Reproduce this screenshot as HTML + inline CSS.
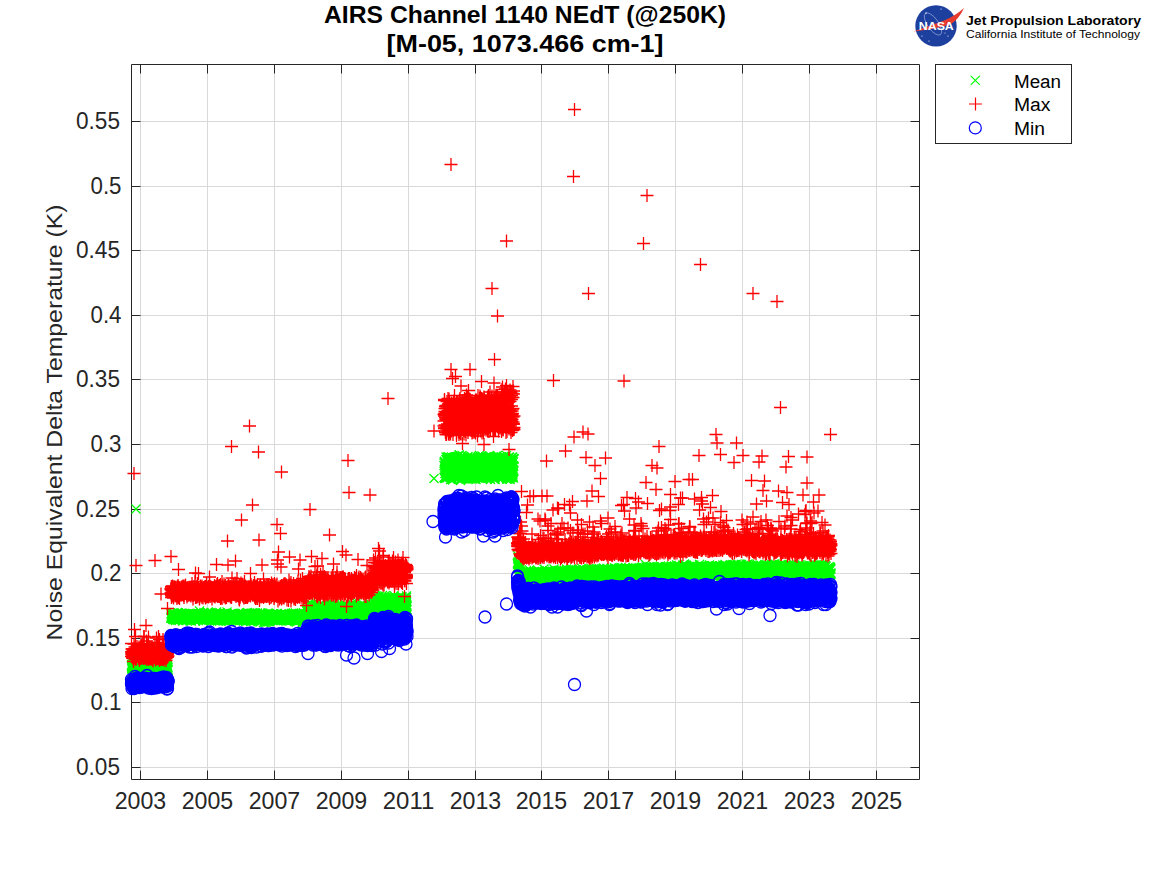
<!DOCTYPE html>
<html><head><meta charset="utf-8"><style>
html,body{margin:0;padding:0;background:#fff;width:1167px;height:875px;overflow:hidden}
svg{position:absolute;left:0;top:0}
text{font-family:"Liberation Sans",sans-serif;fill:#262626}
</style></head><body>
<svg width="1167" height="875" viewBox="0 0 1167 875">
<path d="M140.5 64.5V779.5M207.5 64.5V779.5M274.5 64.5V779.5M341.5 64.5V779.5M408.5 64.5V779.5M475.5 64.5V779.5M541.5 64.5V779.5M608.5 64.5V779.5M675.5 64.5V779.5M742.5 64.5V779.5M809.5 64.5V779.5M876.5 64.5V779.5M131.5 767.5H919.5M131.5 702.5H919.5M131.5 638.5H919.5M131.5 573.5H919.5M131.5 509.5H919.5M131.5 444.5H919.5M131.5 379.5H919.5M131.5 315.5H919.5M131.5 250.5H919.5M131.5 186.5H919.5M131.5 121.5H919.5" stroke="#d9d9d9" stroke-width="1" fill="none"/>
<path d="M131.5 64.5H919.5V779.5H131.5ZM140.5 779.5v-9M140.5 64.5v9M207.5 779.5v-9M207.5 64.5v9M274.5 779.5v-9M274.5 64.5v9M341.5 779.5v-9M341.5 64.5v9M408.5 779.5v-9M408.5 64.5v9M475.5 779.5v-9M475.5 64.5v9M541.5 779.5v-9M541.5 64.5v9M608.5 779.5v-9M608.5 64.5v9M675.5 779.5v-9M675.5 64.5v9M742.5 779.5v-9M742.5 64.5v9M809.5 779.5v-9M809.5 64.5v9M876.5 779.5v-9M876.5 64.5v9M131.5 767.5h9M919.5 767.5h-9M131.5 702.5h9M919.5 702.5h-9M131.5 638.5h9M919.5 638.5h-9M131.5 573.5h9M919.5 573.5h-9M131.5 509.5h9M919.5 509.5h-9M131.5 444.5h9M919.5 444.5h-9M131.5 379.5h9M919.5 379.5h-9M131.5 315.5h9M919.5 315.5h-9M131.5 250.5h9M919.5 250.5h-9M131.5 186.5h9M919.5 186.5h-9M131.5 121.5h9M919.5 121.5h-9" stroke="#262626" stroke-width="1" fill="none"/>
<defs>
<marker id="mg" markerUnits="userSpaceOnUse" markerWidth="1" markerHeight="1" overflow="visible"><path d="M-4.5-4.5l9 9M4.5-4.5l-9 9" stroke="#00ff00" stroke-width="1.3" fill="none"/></marker>
<marker id="mr" markerUnits="userSpaceOnUse" markerWidth="1" markerHeight="1" overflow="visible"><path d="M-6.5 0h13M0-6.5v13" stroke="#ff0000" stroke-width="1.3" fill="none"/></marker>
<marker id="mb" markerUnits="userSpaceOnUse" markerWidth="1" markerHeight="1" overflow="visible"><circle r="6" stroke="#0000ff" stroke-width="1.3" fill="none"/></marker>
</defs>
<path fill="none" stroke="none" marker-start="url(#mg)" marker-mid="url(#mg)" marker-end="url(#mg)" d="M131.5 666.5l0-2l0 1l0.5 3l0-1l0-0.5l0 2.5l0-1.5l0.5 0.5l0-4l0-2l0 3.5l0-0.5l0 0.5l0.5 0l0 0l0-1l0 0.5l0 1l0.5-1.5l0 4.5l0-3.5l0 1l0-3l0 4l0.5-1.5l0 3l0-3.5l0-1l0 4l0.5-5l0 3l0-2l0 3.5l0-2.5l0 0l0.5-2l0 0l0 3.5l0 2.5l0-4l0.5-0.5l0 3l0-2l0-3.5l0 1l0 5l0.5-3.5l0 1l0 0l0 0l0-2l0.5 1.5l0 0.5l0-0.5l0-0.5l0-0.5l0 3l0.5 1l0-3l0 1l0-3l0 3l0.5-1l0-1.5l0 0l0 0.5l0 1l0.5 1l0 0l0-3l0 2.5l0 0l0-1.5l0.5 2.5l0-2.5l0 0.5l0 1.5l0 0l0.5 1.5l0-1l0 0l0-2l0 1.5l0-2.5l0.5 7l0-4.5l0 1l0-1l0-1.5l0.5 5l0-1l0-1l0 2.5l0-4.5l0 0l0.5-1.5l0-0.5l0 0.5l0 1l0 2l0.5-5l0 1l0 7.5l0-4.5l0 3l0-2.5l0.5 2.5l0-2l0 0l0-1.5l0 1.5l0.5-2l0-1l0 0.5l0 4l0 0l0-2.5l0.5-1l0 2.5l0 0l0-2l0 0.5l0.5 0l0-2l0 5l0-2l0 0.5l0 1.5l0.5-4.5l0 0l0 0l0 3l0-2.5l0.5 0l0 2l0 1l0-3.5l0 0l0.5 2l0 1l0-2l0 0l0-1l0 6.5l0.5-7l0-1.5l0 1.5l0 2.5l0-1l0.5-0.5l0 0.5l0 1l0 0.5l0 0l0-1l0.5 0.5l0-3.5l0 1l0 2l0 0l0.5-1.5l0 2l0 0l0-1l0 0.5l0-3.5l0.5 2l0 4.5l0 1l0-3l0-0.5l0.5 0.5l0 0l0 1.5l0-0.5l0 1l0-3.5l0.5 2l0-1.5l0 0.5l0-3l0 5l0.5-3.5l0 1.5l0-1l0 1l0-0.5l0 1.5l0.5-2.5l0-0.5l0 3.5l0-3l0-1.5l0.5 1l0 1l0 1l0-1.5l0 1l0.5 1.5l0 1l0-2.5l0-0.5l0 2.5l0-3l0.5-2l0 4.5l0-1.5l0-1l0 1.5l0.5 0.5l0-2.5l0-1.5l0 0.5l0 3l0-1.5l0.5-0.5l0 3l0-1l0 0.5l0 2l0.5 0l0-3l0 0.5l0 0l0 0.5l0-2.5l0.5 3.5l0 1l0-2.5l0-2.5l0 4l0.5-3.5l0 1l0-1l0-1l0 0.5l0 2l0.5-2l0 1.5l0 1l0 0.5l0-1l0.5-1.5l0 0l0 2l0 1.5l0-0.5l0-4.5l0.5 2l0 0l0 0l0 0l0 1l0.5 0.5l0-1l0 0l0-0.5l0 3l0-3.5l0.5 1l0 0.5l0 2l0-3.5l0 1l0.5-1.5l0 0.5l0 3.5l0-2l0-1.5l0.5 1.5l0-1l0 0l0 2.5l0 0.5l0-3l0.5 1.5l0-2l0 3.5l0-4.5l0 2.5l0.5-1.5l0 1.5l0-2l0 4l0 0l0-2.5l0.5 2l0-2l0 2l0-2.5l0-1l0.5 2l0 0l0 1l0-1.5l0-1.5l0 3l0.5 0l0 1.5l0-1.5l0 0.5l0-1.5l0.5 2l0 0l0-2l0-0.5l0 2.5l0-1.5l0.5-0.5l0-1.5l0 1.5l0-1.5l0-1l0.5 0l0 1.5l0 1.5l0 1.5l0-1.5l0 1l0.5-0.5l0-0.5l0-2l0 0.5l0 0.5l0.5 0l0 0l0-0.5l0 1l0 3l0 1l0.5-2l0-4l0 4.5l0-1.5l0-4l0.5 5.5l0-2l0-2.5l0 2.5l0 1l0.5-3.5l0 4.5l0-4l0 1.5l0 1.5l0 0l0.5-3.5l0 4l0-3.5l0 1l0-0.5l0.5 0l0-1.5l0 1l0 3.5l0-3.5l0 1l0.5 1.5l0 0l0-0.5l0 0l0-0.5l0.5 1l0-1l0 0l0 0.5l0 1l0 1.5l0.5-4.5l0 3l0-2l0 1l0 1.5l0.5 0l0-3l0-1l0 1l0 3.5l0-4.5l0.5-1l0 5l0-1l0-1l0 1l0.5-1l0 1l0 0l0-2l0-1.5l0 1l0.5 3.5l0-2.5l0 2l0-2.5l0 3.5l0.5 0l0-2l0 3l3-53.5l0-3.5l0 5l0.5-1l0-3.5l0 4l0-2.5l0 2.5l0-3l0.5 0l0-0.5l0 2l0-2l0 2.5l0.5-0.5l0 0.5l0-2l0 3l0 0l0-5l0.5 6.5l0-2.5l0 0.5l0-0.5l0 1l0.5 1.5l0-3l0 2.5l0-0.5l0-2l0-0.5l0.5 3l0-6l0 4.5l0-1.5l0 2l0.5-2l0 2.5l0-4.5l0 1.5l0 1l0.5 3l0-2.5l0-1.5l0 3l0-1l0 0l0.5 1.5l0-4.5l0 4l0-2l0 4l0.5-5.5l0 2l0 0l0-1l0 0l0 0l0.5-0.5l0 1l0-2l0 4.5l0 0.5l0.5-4l0 2l0-3l0 3.5l0-1l0 1l0.5-3.5l0 5.5l0-4l0-3.5l0 6.5l0.5-2l0 2l0-5l0 1.5l0 0.5l0-0.5l0.5 4l0-0.5l0-6l0 3l0 0l0.5 4.5l0-4l0 0.5l0-0.5l0 3l0-6l0.5 4.5l0-3.5l0 3l0-1.5l0 1.5l0.5-1l0-2l0 3l0 1l0 0l0-1.5l0.5 0.5l0 1l0-1.5l0-2.5l0 3.5l0.5-2l0 2l0-2.5l0 2.5l0-0.5l0.5-1.5l0 0.5l0 0.5l0-2l0 0l0 0l0.5 2.5l0-1.5l0-1l0-2l0 2.5l0.5 0l0 2l0-2.5l0 6l0-6l0-1l0.5 2.5l0 2l0-0.5l0 0l0-3.5l0.5 1l0 0l0 4l0-2l0 0l0-2l0.5 3.5l0-2.5l0-1l0 1.5l0 1.5l0.5-3l0 0.5l0 1.5l0-4l0 3.5l0 0.5l0.5-0.5l0 1l0-2l0 0.5l0-0.5l0.5 2l0-0.5l0-2l0 3.5l0-1.5l0 1.5l0.5 1.5l0-4l0 1.5l0-2.5l0 2l0.5-3l0 1l0 1.5l0-0.5l0-2.5l0.5 1.5l0 1.5l0 1l0-2l0 0.5l0-2l0.5 0l0 1.5l0 1.5l0 1l0-1l0.5 1l0-1l0-3l0 0.5l0 4l0-1l0.5-4l0 1l0-1.5l0 3l0 0l0.5 1.5l0 0.5l0 1l0-5l0 0.5l0 3l0.5 0.5l0-2l0 0.5l0-3.5l0 7l0.5-3.5l0 0l0 1l0-2l0-1.5l0 2.5l0.5-2l0 0l0 0.5l0 4l0-1.5l0.5 1.5l0-1l0-2l0 0.5l0-2.5l0 4l0.5 0.5l0-1l0-3.5l0 6.5l0-7l0.5 2l0 2l0 0.5l0-2.5l0 0.5l0 1.5l0.5-3.5l0 1.5l0-2l0 2l0-0.5l0.5 0l0-2l0 2.5l0-1l0 1.5l0.5 0.5l0 0.5l0-1.5l0-2l0 4.5l0-3l0.5 2l0-1l0-0.5l0 0.5l0-1.5l0.5 4l0-1.5l0 2.5l0-4l0-1l0 4.5l0.5-3.5l0 0.5l0 2l0-4l0 1l0.5 0.5l0 5l0-4.5l0 0.5l0-1.5l0 3l0.5-4l0 4l0-2.5l0-1.5l0 1l0.5 2l0 1l0-0.5l0-0.5l0 0l0-1l0.5 1l0-0.5l0 0.5l0-1l0-1l0.5 1.5l0 1.5l0-4l0 3l0 1.5l0-3.5l0.5 1l0 2.5l0-5l0 0.5l0 1.5l0.5 1.5l0 3l0-4.5l0-2.5l0 5l0-4.5l0.5 1.5l0 3l0-2.5l0 0l0 1.5l0.5-0.5l0 1l0-7l0 7.5l0 0l0.5 0l0-3l0 3l0-2l0-0.5l0-0.5l0.5-1l0 3.5l0 0l0 0.5l0-0.5l0.5-0.5l0-0.5l0-1.5l0 0l0 0.5l0-0.5l0.5 3l0-2.5l0 3l0-3l0 0l0.5-1.5l0-0.5l0 5l0-0.5l0-4l0 3.5l0.5 0l0-2.5l0-1.5l0 2.5l0-2l0.5 1.5l0-1.5l0-0.5l0 2.5l0 4.5l0-6.5l0.5 3.5l0-4l0 1.5l0 1l0-0.5l0.5-3.5l0 3.5l0-1.5l0 5l0-3.5l0 2l0.5-2l0 0l0 3l0-0.5l0-1l0.5 2.5l0-2.5l0-3l0 3.5l0-4l0.5 2l0 0l0 2.5l0-2l0 1l0 0l0.5-2l0 0.5l0 2.5l0-1l0-0.5l0.5-3.5l0 6l0 0.5l0-4l0-1l0 2.5l0.5 0l0 1.5l0-3l0 2l0-0.5l0.5 1l0-6l0 4l0-0.5l0-0.5l0 1l0.5 2l0-2l0 1.5l0 0l0-1.5l0.5 1.5l0-5l0 4.5l0 2.5l0-6l0 0.5l0.5 3l0-2.5l0 1.5l0 0l0-2l0.5 3l0 2l0 0l0-3.5l0-1.5l0 2l0.5 3.5l0-2l0 0l0-3.5l0 0.5l0.5-1l0 2l0-1l0 0l0 2l0-0.5l0.5-3l0 5.5l0-1l0-5.5l0 4l0.5 1l0 1.5l0 2l0-5.5l0 2.5l0.5 1l0-2l0-0.5l0-1l0-0.5l0 2.5l0.5-1l0 1.5l0-2l0 1l0-1.5l0.5 4.5l0-3l0 0.5l0 1.5l0-1l0-1.5l0.5 0l0-1l0 3l0-2.5l0 1l0.5 2.5l0-4.5l0 0l0 0l0 1l0 2l0.5 0l0-0.5l0-2l0 3.5l0 1l0.5-5.5l0 1l0-0.5l0 6l0-5.5l0 0.5l0.5 2l0-2.5l0 2.5l0 0.5l0-2.5l0.5 2l0 0l0-2.5l0 2.5l0-3.5l0 5l0.5 0.5l0-6.5l0-1.5l0 5.5l0-4l0.5 6l0 0.5l0-4l0 1.5l0 2l0.5-5l0 6.5l0-5.5l0 3l0-2l0 3l0.5-1l0-3l0 1.5l0-1.5l0-2l0.5 3.5l0 0.5l0 1l0-2.5l0 0.5l0 1l0.5 1l0-3l0 1.5l0-3l0 5l0.5 1l0-3.5l0-2.5l0 3l0 3.5l0-3.5l0.5-1l0 1.5l0-1l0 2l0 0.5l0.5 0l0-3l0-1l0-1.5l0-0.5l0 2l0.5 4.5l0-4l0 5l0-4.5l0 0.5l0.5 3l0-0.5l0-3l0 1l0-1.5l0 2.5l0.5 0l0-2l0 3.5l0-1.5l0-2l0.5 0.5l0 0l0-0.5l0 1l0 0.5l0 0l0.5-1l0-2l0 0l0 3l0-3.5l0.5 4l0-0.5l0 2.5l0-1l0-3.5l0.5 0.5l0 4.5l0-3l0 2.5l0-4l0 3l0.5 0.5l0-2.5l0 1l0-2l0 1.5l0.5 0l0-2.5l0 4l0-3.5l0 0l0 0.5l0.5 1.5l0 0l0-2.5l0 1l0 1.5l0.5 2.5l0-4l0 4l0-1.5l0-4l0 4l0.5 0.5l0 2l0-4l0-0.5l0-0.5l0.5-4l0 5.5l0 0.5l0 0l0 1l0-5l0.5 3l0-1.5l0 3.5l0 1l0-4.5l0.5 0l0 0.5l0-0.5l0-0.5l0 2l0-0.5l0.5 1l0-1.5l0 1.5l0-1l0 4.5l0.5-5l0-1l0 1l0 1l0 0.5l0-1l0.5 1l0 3.5l0-4l0 2l0-4l0.5 0.5l0 3.5l0-4l0 1l0-2l0.5 5l0-3l0 3l0-4.5l0 1.5l0 1.5l0.5-0.5l0-1l0-2.5l0 5.5l0 0l0.5-0.5l0-1.5l0-1l0 1.5l0 0.5l0 2.5l0.5-4l0-2l0 5.5l0-3l0-0.5l0.5-2l0 4.5l0-5.5l0 1.5l0 3l0 0.5l0.5-5l0 5.5l0 0l0-1.5l0 2.5l0.5-4l0 3.5l0-6l0 4.5l0 2.5l0-4.5l0.5-2l0 1.5l0 3l0-3l0-0.5l0.5 2.5l0-0.5l0 0.5l0 1l0 1.5l0-1.5l0.5-0.5l0-1.5l0 3l0-6l0 3l0.5-0.5l0 1l0 0l0 0l0-1.5l0.5 0.5l0-1l0 5l0-3l0 2l0 0l0.5-0.5l0-3l0 2l0 0.5l0 0.5l0.5 1l0-2.5l0 2.5l0-4.5l0 2l0 2l0.5-0.5l0-2l0-2l0 3l0 1l0.5-1.5l0 2.5l0-3.5l0-0.5l0 1l0-0.5l0.5 0l0 0l0 0l0-0.5l0 2l0.5-1.5l0 5l0-6.5l0 4.5l0-4.5l0 5l0.5-1l0-2l0-2l0 2.5l0 1l0.5 1l0-3.5l0 2.5l0-1l0-2.5l0 2l0.5 2.5l0-2l0-1.5l0-1l0 1l0.5 2l0-1l0-1.5l0 5l0-1.5l0-1l0.5 0.5l0-1.5l0 2l0-4.5l0 2.5l0.5 0.5l0 0.5l0-4l0 1.5l0 3l0.5 2l0-0.5l0-1l0-1.5l0-2l0 0l0.5-1l0 0.5l0 1.5l0-2l0 6l0.5 1l0-4l0 1.5l0-1l0 3l0-1l0.5-1l0-2.5l0-0.5l0 1.5l0-1.5l0.5 2.5l0-2.5l0 2.5l0 0.5l0-3.5l0 0l0.5-0.5l0 1l0 2.5l0-2.5l0 2l0.5 3.5l0-7l0 5.5l0-3.5l0 2l0 1l0.5 2l0-5.5l0 4.5l0-1.5l0-0.5l0.5-1l0-3l0-1l0 4.5l0-2l0-1l0.5 4l0 0.5l0-5.5l0 5l0-1.5l0.5 1.5l0-3.5l0 5l0-4.5l0-3l0 6.5l0.5-3.5l0 1l0 0l0 4l0-2.5l0.5 0.5l0-2l0 2.5l0-1l0 0.5l0.5-1l0-3.5l0 1.5l0 4l0 1l0-3.5l0.5 0.5l0-1l0 2l0-2.5l0 0.5l0.5 2l0 1.5l0-3l0-0.5l0 1.5l0-1l0.5 0l0 4.5l0-6l0-2l0 6l0.5-4.5l0 0.5l0 5l0-4l0-2l0 4l0.5-1l0-1.5l0-1.5l0 5l0-3.5l0.5 0.5l0-2.5l0 6l0-1l0-6l0 6l0.5-1.5l0-0.5l0 1.5l0 1l0-2l0.5-3.5l0 1.5l0-0.5l0 4l0 2l0-2l0.5-5l0 1l0 1.5l0 2l0-0.5l0.5-5l0 2l0 2l0-0.5l0-0.5l0.5 1l0 3.5l0-4.5l0 1.5l0 0.5l0-1.5l0.5 3l0 0.5l0-2l0-4l0 4.5l0.5-3.5l0 3l0-5l0 2l0 1.5l0-1.5l0.5 3l0-1.5l0 1.5l0 0.5l0-1l0.5-2.5l0 0.5l0 1.5l0 2l0-4l0-1l0.5 2l0 1.5l0 0l0 1.5l0-2l0.5 1.5l0 1l0-2.5l0 2.5l0-2.5l0-4l0.5 2l0 4.5l0 1.5l0-3.5l0 1l0.5-1.5l0 0l0 0l0 1.5l0 0.5l0 1l0.5-4l0-0.5l0 4l0-4l0 4l0.5-4.5l0-1l0 3.5l0 0l0-1l0 4.5l0.5 1l0-3.5l0-3l0-0.5l0 1l0.5 0.5l0-3l0-0.5l0 3l0 3.5l0.5 1l0-1.5l0 0l0-3l0 3.5l0-2l0.5-1.5l0 2l0-3.5l0 5l0 0l0.5-4.5l0-2l0 3.5l0 1l0 1.5l0-4.5l0.5 5l0-1.5l0 0.5l0-2l0 0l0.5 0.5l0 1.5l0-1.5l0-3.5l0 4.5l0-1l0.5-2l0-0.5l0 4l0-1.5l0 5.5l0.5-7l0 1.5l0-1l0 1l0-2.5l0 0l0.5 6l0-4.5l0-1l0 0.5l0 4l0.5-3l0-1l0 1.5l0-0.5l0 3.5l0 2.5l0.5-3.5l0-1l0-2.5l0 1.5l0-0.5l0.5 1.5l0-1l0-1.5l0-1l0 4l0.5-0.5l0-0.5l0 0l0 4.5l0-5l0-0.5l0.5 1.5l0-2.5l0 4.5l0-0.5l0-2l0.5-1.5l0-0.5l0 3l0 0.5l0-2l0-2l0.5 4l0-1l0-5l0 3.5l0 5l0.5-5.5l0 3.5l0 1l0-0.5l0-1l0-1l0.5-3.5l0 6.5l0-7l0 0.5l0 0.5l0.5 5l0-3.5l0 5l0-5l0 0l0 1.5l0.5-2l0 3.5l0-3l0 0l0 1.5l0.5 1.5l0-3l0-1l0 2.5l0 1l0-4l0.5 2l0-0.5l0 1l0-1l0 2l0.5 1l0-4l0 0l0 2.5l0-1.5l0 0.5l0.5 2l0-2l0-1.5l0 3l0-0.5l0.5-2.5l0 5l0-6.5l0 3l0 0.5l0.5-1l0 1.5l0-1.5l0 1l0 3l0-4.5l0.5 2l0 1.5l0 0l0-4l0 0.5l0.5-2l0 2.5l0-0.5l0 2.5l0 0l0-2l0.5 0l0 2l0-0.5l0-2l0 1.5l0.5 0l0-1l0 2l0 0l0-4l0 3.5l0.5 0l0-1l0-0.5l0 4l0-3.5l0.5-0.5l0 2l0-1l0 3l0-4l0-0.5l0.5 1.5l0 1.5l0-1.5l0 0.5l0 1.5l0.5-3l0 0l0 0l0-3l0 1l0 4.5l0.5 0l0-4.5l0 4l0-2.5l0 2.5l0.5-1l0-3l0 6.5l0-5.5l0-0.5l0 4l0.5-1l0 0.5l0 0l0 1l0-1.5l0.5 0.5l0 0l0-1l0 2l0-1.5l0.5-2l0-0.5l0 0.5l0 2.5l0-3.5l0 2.5l0.5 1l0-3l0 1l0 1l0-1.5l0.5 0l0 2l0 2l0-1l0-3l0-0.5l0.5-0.5l0 2.5l0-3.5l0 1l0 1l0.5 3l0-2l0 2l0-2l0-3l0 2.5l0.5 0l0 0.5l0-1.5l0 1l0 4l0.5-1l0-1l0-0.5l0-3l0 2l0-2.5l0.5 3.5l0-1.5l0 3l0-2l0 1l0.5-0.5l0 2l0-5.5l0 1l0-0.5l0 0l0.5 2l0 1l0-3l0 5l0-3l0.5 1.5l0 0.5l0-2.5l0-2l0 0l0.5 4.5l0-1l0-2.5l0 1l0-3l0 6l0.5-3l0 3.5l0-1.5l0-3.5l0-0.5l0.5 5l0-0.5l0-1l0 2.5l0-3.5l0-0.5l0.5 2l0 0l0-2l0 2.5l0-1.5l0.5-2.5l0 3l0 0.5l0-2l0 2.5l0 0.5l0.5 1l0-5l0 2l0 1l0 1l0.5 1l0-3.5l0-0.5l0 0l0 0.5l0 1.5l0.5-2l0-1l0 2l0 2l0-3.5l0.5 2l0-1.5l0 2.5l0-2.5l0 1.5l0 3l0.5-7l0 2l0 1l0 1.5l0 0.5l0.5 0l0 1l0-1l0-1.5l0 3l0-3l0.5-2l0 4.5l0 0l0 0.5l0-2.5l0.5 2l0 0l0 0.5l0-5l0 1l0.5 1l0-3l0 5l0 0l0 0.5l0-6.5l0.5 4.5l0 0.5l0-5l0 4.5l0 0l0.5-2.5l0 4.5l0 0l0-5l0 1l0 1.5l0.5-3.5l0 5l0-4l0 4.5l0-3l0.5 0.5l0-2l0-2l0 3l0 0.5l0 3l0.5-1l0-1l0 1.5l0 1l0-3.5l0.5 1l0-2.5l0 1l0 0l0 4l0 1l0.5 0.5l0-1.5l0-2l0 0l0-3l0.5-0.5l0-1.5l0 4.5l0-3.5l0 1l0 1l0.5 0l0 1l0 1.5l0-4l0 1.5l0.5 1.5l0 0l0-1.5l0 1l0-1.5l0 6.5l0.5-6l0 3l0-1l0-1l0-2.5l0.5 3.5l0 0l0 0.5l0 0.5l0-2.5l0.5 1l0 0l0 2.5l0-2l0 2l0-4l0.5-2l0 1l0 1l0 0l0 3l0.5-3l0 2l0-0.5l0-0.5l0-1.5l0-1l0.5 3.5l0-0.5l0-2.5l0 2l0 2l0.5-2.5l0-0.5l0 1.5l0 0.5l0 1.5l0 1l0.5-0.5l0-1l0 1l0-1.5l0-1l0.5-0.5l0 2.5l0-1.5l0-1l0 2l0 0l0.5-2l0-0.5l0 0l0 2.5l0-2.5l0.5-1.5l0 5l0-3l0 2l0-3l0 0.5l0.5 4l0-2.5l0-3l0 3l0 4.5l0.5-2.5l0 0.5l0-5l0 0l0 2l0.5 2.5l0-2l0-2l0 5.5l0-2l0-1.5l0.5-3.5l0 6l0-3l0 2l0-0.5l0.5 0.5l0-1.5l0 1l0 0l0-1.5l0-1l0.5-2l0 3.5l0-4.5l0 4l0 2l0.5-0.5l0-2.5l0-0.5l0 1.5l0 2l0-0.5l0.5-0.5l0-1l0 0l0.5 0l0 1.5l0-5l0-3.5l0.5 8l0-2l0 0.5l0-5.5l0-2.5l0.5 5.5l0-3.5l0 2l0-4l0 8l0-8.5l0.5 3l0 3l0 1.5l0-3l0-7.5l0.5 8l0-0.5l0-2l0-1.5l0 9.5l0 3.5l0.5-11.5l0-8l0 15.5l0-0.5l0-7.5l0.5-4.5l0 7.5l0 3.5l0 2l0-1l0.5-6l0-5.5l0 3.5l0 4l0 2l0-8l0.5-4l0 10.5l0-9.5l0 12l0-10.5l0.5 12l0 1l0-15l0 5l0 5l0 4l0.5 0.5l0-7.5l0-1l0 4.5l0 3l0.5-7.5l0 4l0-1.5l0 6l0-14.5l0 4.5l0.5 9.5l0-6l0-4l0 1.5l0 4l0.5-1l0 1.5l0-7l0 5.5l0-2l0 5l0.5-5l0 3l0-6.5l0-1.5l0 11.5l0.5-6l0 5l0 1.5l0-6l0 3l0-9.5l0.5 2.5l0 6.5l0-7.5l0 8l0-1.5l0.5 8l0-11l0 8l0-6l0 2.5l0-7.5l0.5-1l0-1l0 13.5l0-7.5l0 4.5l0.5-1l0-10.5l0 4.5l0-3.5l0 2.5l0.5 7.5l0 2l0 0.5l0-9.5l0-1l0 9.5l0.5-3.5l0-6l0 2.5l0 4.5l0-4.5l0.5 1l0 6.5l0-9l0 8l0-5.5l0 2l0.5 4l0-4.5l0 8l0-8.5l0-0.5l0.5 5l0 0.5l0-2.5l0-8l0 7.5l0 0.5l0.5 5.5l0-13l0 9.5l0-3.5l0-1.5l0.5 2l0-6.5l0 11.5l0-3.5l0 1.5l0-1.5l0.5-4l0 1.5l0-2.5l0 0.5l0-0.5l0.5-1l0 11.5l0-3l0-4.5l0 4.5l0-1l0.5 1l0-0.5l0-0.5l0 3.5l0-14.5l0.5 3.5l0 2.5l0 3l0 5l0-5.5l0.5-6l0 7.5l0 2.5l0 2.5l0-9.5l0 10.5l0.5-8l0-6.5l0 4.5l0 2l0-6.5l0.5 5l0-3.5l0-1l0 2.5l0 6.5l0 3.5l0.5-5.5l0-7l0 3l0 2.5l0 3l0.5 3.5l0-12l0 3.5l0 0l0 6l0-11.5l0.5 4l0 12l0-13l0 8.5l0-2.5l0.5 6l0-1l0-9l0 8l0-2.5l0-6l0.5 10l0-5l0 5l0-2.5l0-9l0.5-1l0 7.5l0-4.5l0 6l0-2.5l0-4l0.5 2.5l0-1l0-5.5l0-0.5l0 10l0.5-5.5l0-1.5l0 8l0-9l0 5l0 6l0.5-9.5l0 2.5l0 9l0-8.5l0-4.5l0.5 3l0-4.5l0 8l0-8.5l0 6l0.5-4l0 11l0-10l0 3.5l0 7.5l0-11l0.5-3l0 9.5l0-2l0-7.5l0 7.5l0.5-3l0 3l0 2.5l0 1.5l0 1l0-10l0.5 8.5l0-8l0 1.5l0 8l0-10l0.5-3l0 5.5l0-3.5l0 6l0-5l0 0.5l0.5 1l0 7.5l0-7.5l0 7l0-2.5l0.5-2.5l0-4.5l0-1.5l0-0.5l0 9l0-3.5l0.5-1.5l0 8l0-10.5l0 7l0-9l0.5 10l0-10.5l0 4l0 2.5l0 5.5l0-2l0.5 1l0-0.5l0-9l0 5l0-1.5l0.5 10l0-7.5l0-1l0 3l0-2l0.5 5.5l0-8.5l0 13l0-13.5l0 8l0-10.5l0.5 5.5l0 2l0-1l0-7.5l0 5l0.5 0.5l0-0.5l0 4.5l0-6.5l0 1.5l0 9.5l0.5 1l0-5l0-3l0 1l0-4l0.5 3l0 6.5l0-1l0-5l0 5.5l0-8.5l0.5-3.5l0 10.5l0-3.5l0 2.5l0 1.5l0.5-6.5l0 0l0 2.5l0-1.5l0 1.5l0-2.5l0.5-3.5l0 0.5l0 5l0 5.5l0-0.5l0.5 2.5l0-14l0 6.5l0 1l0 5.5l0-10.5l0.5 2.5l0 1.5l0 5.5l0-10l0 6.5l0.5 2l0 3.5l0-9.5l0-4l0 0l0 11l0.5 2l0-9l0-3l0 2l0 10l0.5-3.5l0-3.5l0 7l0-11.5l0 0.5l0.5-0.5l0 3.5l0 2.5l0-0.5l0 4.5l0 0l0.5-6l0-2l0 5.5l0 5l0-9.5l0.5-4l0 1.5l0 2l0-1l0 5l0 5l0.5-7l0-2l0 6.5l0-9l0 3l0.5 8l0-9.5l0 1l0 2l0 0l0-4l0.5 9l0 0.5l0-6l0 1l0-5.5l0.5-0.5l0 4l0 5l0-3.5l0 0l0 1l0.5 1l0-3.5l0-3.5l0 4l0 4l0.5-5.5l0-1l0 5.5l0-2.5l0-4l0 5l0.5 3l0-6.5l0 1.5l0 0l0 1.5l0.5 1l0-5l0 2l0 5l0-4l0-6l0.5 12.5l0-10l0 4.5l0 0.5l0 4l0.5-1.5l0 3.5l0 1l0-8l0 0.5l0.5 3.5l0-9l0 15l0-1.5l0-7l0 2.5l0.5 0.5l0-10l0 5l0-2l0 11.5l0.5-13l0 6l0 1.5l0-2.5l0 0l0 2l0.5 6l0-10l0 7.5l0-8l0-1l0.5 5l0-5.5l0 3l0 7l0 0.5l0-9l0.5-2.5l0 3.5l0 4l0 1.5l0 1l0.5-8.5l0 5.5l0 3l0-12.5l0 4.5l0 7l0.5-7.5l0 3.5l0 1l0 3.5l0-4l0.5 4l0-5l0 4l0-2.5l0 8l0-11l0.5 3.5l0-3.5l0 9.5l0-16l0 6l0.5 8l0-5l0 4.5l0-13.5l0 7.5l0.5-3.5l0-2l0 13.5l0-2l0-0.5l0-1.5l0.5-6l0 1.5l0-4.5l0 9.5l0-3l0.5 7l0 2.5l0-4.5l0-9l0 3.5l0 5l0.5-2l0-4.5l0 2.5l0 6.5l0-6l0.5-1.5l0-3.5l0 2.5l0-2.5l0 6l0-1l0.5-7.5l0 12l0-0.5l0-8.5l0 12.5l0.5-9l0-6.5l0 8.5l0-6.5l0-1l0-2l0.5 5l0 7l0-5l0-7.5l0 9.5l0.5-3.5l0 4.5l0-13l0 4l0-0.5l0 11.5l0.5-10.5l0 0l0 10.5l0-7.5l0-1.5l0.5-2.5l0 0.5l0 5l0 7.5l0-1.5l0 3.5l0.5-6.5l0 6l0-7.5l0-2.5l0 7.5l0.5-9l0 12l0-11.5l0 0l0 9.5l0.5-1.5l0-7l0-0.5l0-3.5l0 3l0-2l0.5 5.5l0 4.5l0-4l0-6.5l0 7.5l0.5-8.5l0 9.5l0 0.5l0-2.5l0-8l0 2.5l0.5 7.5l0 4.5l0-8.5l0-4.5l0 12.5l0.5-2.5l0-4.5l0-1.5l0-1l0-0.5l0-0.5l0.5 10l0-2.5l0-3l0-1.5l0-1l0.5-1l0 7.5l0-11.5l0 7l0 2.5l0-7.5l0.5 3.5l0 8.5l0-8l0-4.5l0 2l0.5-2.5l0 8l0 2l0-4.5l0 8.5l0-4.5l0.5-1.5l0-3.5l0 5l0 5l0-10.5l0.5 3.5l0-5l0-3.5l0 2.5l0 4l0 5l0.5-9l0 7l0-7l0 10l0-8.5l0.5 3.5l0 2l0-6l0-1l0 6l0.5-5.5l0-2.5l0 5l0 7.5l0-12l0 2l0.5 8l0-9l0 5.5l0-5.5l0 2l0.5 1.5l0 1.5l0-1l0 1l0-4.5l0 3l0.5 5.5l0 0l0-5.5l0-2l0 8.5l0.5 2l0-14.5l0 7.5l0 0.5l0-5l0 4.5l0.5-2.5l0 1l0-5l0 1l0 2.5l0.5 4l0 2.5l0-8l0 0.5l0 12.5l0-15.5l0.5 11l0 0.5l0 1.5l0-13l0 1.5l0.5 7l0-4.5l0 9l0-1.5l0-10l0 8l0.5 0.5l0 2.5l0 0l0-5.5l0-2.5l0.5-6.5l0 10l0-7l0-2.5l0 12.5l0.5 0l0-9.5l0 2l0-3l0 1.5l0 2.5l0.5 0.5l0-5.5l0 3l0 3l0 6.5l0.5-2.5l0-3l0-5l0 5l0 0.5l0-5l0.5 7l0 1l0-1l0-0.5l0 3l0.5 1l0-12.5l0 11.5l0-0.5l0.5-20.5l0 15l0-14.5l0.5 11l0 1.5l0-7.5l0 1l0 3.5l0-3.5l0.5-1.5l0-2.5l0 5.5l0 4.5l0 3l0.5-4.5l0 4l0-9.5l0-1.5l0 4l0-4.5l0.5 7.5l0 1l0-7l0-0.5l0 11.5l0.5-11.5l0 1l0 3.5l0 0l0-9.5l0 2.5l0.5 0.5l0 11l0-6l0 6.5l0-4.5l0.5-2l0 7.5l0-5l0 3l0-8.5l0.5 8.5l0 0.5l0-1.5l0-9l0 7l0 6.5l0.5-3.5l0-12.5l0 15.5l0-4.5l0-8.5l0.5 12l0-12l0 12.5l0-3l0-4.5l0 2.5l0.5-0.5l0-1l0 3.5l0-0.5l0-10l0.5 13.5l0-13l0 5l0-3l0-5l0 7l0.5-3l0 5l0 2l0 3.5l0 0l0.5 0l0 0l0-4l0-5.5l0 2l0 2l0.5-1l0-1l0 4l0-1l0 0l0.5 5l0-1l0 0.5l0-5.5l0 5l0-2l0.5 2l0-5l0 0.5l0-8l0 9.5l0.5 0.5l0-2.5l0-5l0 3l0-7.5l0 6.5l0.5-1l0 4.5l0 5l0 3.5l0-17l0.5 6.5l0-0.5l0 5.5l0 1l0-3.5l0.5-5.5l0 9.5l0-2l0 0l0 0.5l0-2l0.5-1.5l0-0.5l0-1l0 8.5l0-10l0.5-2.5l0-1.5l0 11l0 3.5l0-9.5l0-7l0.5 6l0 0.5l0 2l0-3.5l0 3l0.5-5l0 0.5l0 2l0 0.5l0 0l0 4l0.5 0l0-6l0 7.5l0 0l0-1l0.5-7.5l0 12.5l0-9l0 0.5l0-1.5l0 6.5l0.5 1l0-9l0 2.5l0 10.5l0-10l0.5-2.5l0 6.5l0 0.5l0-5.5l0 4.5l0 2l0.5-1l0-1.5l0 4l0-9.5l0 9.5l0.5-8.5l0 10.5l0-13l0-1l0 3.5l0.5 0.5l0 3l0 1.5l0-4l0 11.5l0-8l0.5-1l0 7.5l0-2.5l0-7l0-5l0.5 3l0 8l0-3.5l0 6.5l0-12.5l0-0.5l0.5 7.5l0 0.5l0-5.5l0 9.5l0 0l0.5-4.5l0-2l0 7.5l0-7l0 4l0-2l0.5-4.5l0 4l0 2.5l0-7l0 0l0.5 9.5l0-9.5l0 4.5l0 0.5l0-1.5l0 4.5l0.5-11.5l0-0.5l0 0.5l0 3l0 2l0.5 2l0-1l0-6.5l0 6l0-5l0 1l0.5 3l0-7.5l0 12.5l0-10.5l0 13l0.5-7.5l0-4.5l0 1.5l0 9l0-6l0 6l0.5-3.5l0 6l0-5l0-7.5l0 12l0.5-10l0-1l0-1.5l0 12.5l0-2.5l0.5-10.5l0 2l0 2l0 3l0 8l0-5l0.5-7.5l0 4l0 5.5l0-8l0 8.5l0.5-1.5l0-4.5l0-3.5l0 6.5l0 2.5l0-1l0.5-5.5l0 4.5l0-2l0 3.5l0-11.5l0.5 3.5l0 7l0-3l0 2l0-5l0 1l0.5-1l0 4.5l0-9l0 14.5l0-0.5l0.5-8.5l0-3.5l0 9.5l0-1.5l0 0.5l0-10.5l0.5 8.5l0 3.5l0-9l0 7l0-3l0.5 6l0-1.5l0-2l0 3l0-4l0 2.5l0.5-6.5l0 4l0 6l0-3l0-8.5l0.5 11.5l0-2l0-2.5l0-8.5l0 5.5l0.5-7l0 9.5l0 3.5l0-3.5l0-1l0-4l0.5-4.5l0 9l0-10.5l0 10l0-7l0.5 5l0-5l0 10.5l0-6.5l0 0.5l0-4.5l0.5 2.5l0 7l0-1l0 1l0-0.5l0.5-5l0 4l0-7.5l0 6.5l0-7l0 8.5l0.5-0.5l0-9.5l0 9.5l0 2l0-11l0.5 15l0-3l0-10.5l0 10.5l0-2l0-1.5l0.5 1l0-4.5l0 2.5l0 6l0-10.5l0.5-1l0 9.5l0-7.5l0 8l0-5l0 3l0.5 0l0-6.5l0-2.5l0 1.5l0 2l0.5-1l0-2l0 2l0-6l0 1.5l0 10l0.5-2.5l0 1.5l0 3l37-144l0-2.5l0 14.5l0.5 0.5l0-10l0-5l0-1.5l0 0l0.5 8.5l0 0.5l0 3l0 5l0-9l0-3.5l0.5 5.5l0 2l0 4.5l0-5l0 3.5l0.5-17l0 9.5l0-4l0 11l0-19l0 18.5l0.5-8l0-7.5l0 10l0-4.5l0 3l0.5 9.5l0-19l0 11l0 3l0 4l0-5l0.5 2l0-12.5l0-4.5l0 7.5l0-3l0.5 14.5l0-1l0-7l0-8.5l0 1l0 13.5l0.5-17l0 5.5l0 12.5l0-3l0-10.5l0.5-0.5l0 10.5l0-14l0 12.5l0-5l0 8.5l0.5-9.5l0 11.5l0-2l0 3.5l0-10l0.5-4.5l0-3l0-2l0 10.5l0-5.5l0.5 15l0-14.5l0 16.5l0-12l0-2.5l0 2.5l0.5-2.5l0 1l0 1.5l0-2l0-6.5l0.5 2l0 13l0 5l0-22l0 18.5l0-15l0.5 10l0-6l0 9.5l0-10.5l0 6.5l0.5 3.5l0 0l0 1l0-13l0 9l0 9.5l0.5-20l0 10.5l0 3.5l0-15l0 14.5l0.5-2l0 0.5l0 1l0-14.5l0 11l0-3.5l0.5-6l0 17l0-13.5l0-2l0 14.5l0.5-5l0 5l0-10l0-3.5l0 15l0-10l0.5-2.5l0-4l0 0l0 0l0 16.5l0.5-16.5l0 13.5l0-2.5l0-15l0 14.5l0-8.5l0.5 4l0-3l0 1l0 9.5l0-3.5l0.5-6l0 11.5l0-19l0 0l0 1l0.5-0.5l0-1.5l0 14.5l0 6.5l0-16l0 2.5l0.5 5l0 1.5l0 5l0 1.5l0-6l0.5 1l0 0.5l0 2l0-18l0 13.5l0-6l0.5-2.5l0 6l0-5l0 11l0-3l0.5-11l0 8l0-3l0-9.5l0 21.5l0-3l0.5-18.5l0 20.5l0-11l0 13l0-7.5l0.5-3.5l0 8.5l0-9l0 0l0 6.5l0-13l0.5-0.5l0 11.5l0-13.5l0 22l0 1.5l0.5-7l0-15.5l0 17l0-3.5l0-8l0 7l0.5-11l0 6.5l0 5l0 6l0 2l0.5-0.5l0-3.5l0-17.5l0 12l0-14l0 5.5l0.5 4l0-5l0 17.5l0-10.5l0-9.5l0.5 8.5l0-6.5l0 3l0 3l0 10.5l0.5-8.5l0-11l0 1.5l0 19.5l0-5.5l0 0.5l0.5 1l0-15l0 15.5l0-13.5l0 12.5l0.5 1l0-10.5l0 14.5l0-20.5l0 5l0 7l0.5-0.5l0-2.5l0 2l0 9.5l0-8l0.5-4l0-4.5l0 0l0 6l0-6.5l0 5.5l0.5 9l0-1.5l0 4.5l0-20l0 20.5l0.5-17.5l0 0l0 2.5l0-2.5l0 4.5l0 6.5l0.5-8l0 9.5l0-2.5l0-7l0 13l0.5-18l0 15.5l0-16l0 10.5l0 0.5l0-9l0.5-4.5l0 22l0-11l0 4l0-10l0.5 1.5l0 15.5l0-14l0-4l0 2.5l0.5-1l0 5l0 9l0-6.5l0 6l0-15.5l0.5 14l0-15.5l0 14.5l0-13.5l0 14.5l0.5-9.5l0 14.5l0-11.5l0-6.5l0 15.5l0-18.5l0.5 11.5l0-2.5l0-8.5l0 15l0-5.5l0.5 7l0-15l0 10.5l0 0.5l0-2l0 2l0.5 1.5l0-11.5l0 17l0-18l0 1.5l0.5 17.5l0-4.5l0-12.5l0 8l0-7l0-2l0.5-3.5l0 21l0-11l0-2.5l0 6l0.5 5.5l0-9l0 1.5l0-7l0 11l0-11.5l0.5 8.5l0-8.5l0 3l0 13l0-9l0.5 6l0 1.5l0 2.5l0-18.5l0 15.5l0-3.5l0.5-10l0 5.5l0 5l0-11.5l0-3l0.5 5l0 7.5l0 5.5l0-9.5l0-8.5l0.5 0.5l0 20l0-21l0 20.5l0-7l0 3.5l0.5 2l0-1.5l0 4.5l0-4.5l0-14.5l0.5 3.5l0 7.5l0-5.5l0 9.5l0-8l0 4l0.5-9.5l0 0.5l0 12l0-6l0-5.5l0.5 13l0-18.5l0 7.5l0 12l0-7.5l0-6.5l0.5-2l0 3.5l0 13.5l0 0l0-9.5l0.5-3.5l0 8l0-16.5l0 19l0-10.5l0 12l0.5-0.5l0-15.5l0 7.5l0-9.5l0 9.5l0.5 6.5l0-3.5l0 5l0-9.5l0-11.5l0 11l0.5 0.5l0-9l0 19l0-4.5l0 6l0.5-21l0 12l0-10l0 14l0-14.5l0 2.5l0.5-4l0-1l0 13.5l0-0.5l0-12.5l0.5 13l0-7.5l0 3l0 10.5l0-10.5l0.5-9.5l0 4l0 9l0 9l0-1.5l0-9.5l0.5 4.5l0-8l0-5l0 20.5l0-19.5l0.5 6l0 9.5l0-11.5l0-1l0-5.5l0 3l0.5 3l0 13.5l0-15l0 4l0-3l0.5 3l0 4l0-6.5l0 3.5l0-2.5l0 7l0.5 5.5l0-8.5l0 4l0 2l0-16l0.5 10.5l0 0.5l0-2.5l0 5.5l0 3.5l0-9l0.5-2.5l0 7.5l0 0.5l0-2.5l0-9l0.5 12l0-8.5l0-7l0 12l0 7l0-19l0.5 10l0-6.5l0 2.5l0-3l0 10l0.5-1l0-9.5l0-2.5l0 12l0 1l0.5 5.5l0-4l0-14l0 11.5l0 2l0-12l0.5 18.5l0-4l0 3l0-2.5l0 0l0.5 1l0 0.5l0-17l0 7.5l0-4.5l0 6.5l0.5 3.5l0 1.5l0 3l0-6l0 8l0.5-17l0 11l0 4.5l0-6.5l0-3l0-11l0.5 16.5l0-5l0 2l0 6.5l0 2l0.5-18l0 2.5l0 13l0-15l0 5l0 14l0.5-20l0 2l0 10l0 4.5l0-12.5l0.5 10l0-2l0-7.5l0 11l0-15.5l0-2l0.5 14.5l0 5.5l0-1l0-5l0 4.5l0.5-7l0-8l0 2.5l0 9l0-11l0 14l0.5-15l0-2l0 6l0 3l0 8l0.5-12l0 12l0-10l0 5.5l0-5.5l0.5 7.5l0-14l0 18.5l0-16.5l0-1.5l0 19l0.5-18l0 10l0 2l0-13l0 15.5l0.5 4l0-21l0 21.5l0-19l0 8.5l0 3l0.5-6l0 11l0-17l0 3.5l0 2l0.5-8.5l0 3l0-3.5l0 15l0-8.5l0-3l0.5 15.5l0-7l0-5.5l0-6.5l0 17l0.5-14l0 1.5l0 5l0 5l0 4l0 1.5l0.5-16l0-2.5l0 17l0-12l0-7.5l0.5 11l0 1.5l0-6l0 13.5l0-3l0-14.5l0.5 18.5l0-9l0-8l0 10.5l0 3.5l0.5-7l0 1.5l0 4l0-9l0-0.5l0-1l0.5 3l0 8.5l0-2l0-5.5l0-7.5l0.5 12l0-3.5l0 0.5l0-5l0-2.5l0.5 8l0 4.5l0-9.5l0 4l0-8.5l0 0.5l0.5 19l0-20.5l0 3.5l0 5l0-6l0.5 19l0-21.5l0 15l0-1l0-11.5l0 19l0.5-4l0-6.5l0 7.5l0 2l0-15l0.5-1l0 6.5l0-3l0-3.5l0 13.5l0-13l0.5-3.5l0-0.5l0 9.5l0-5l0 2l0.5-4.5l0 2.5l0 6.5l0-12.5l0 17l0 1l0.5-12l0 8.5l0-8.5l0 3.5l0-2.5l0.5-4l0-1.5l0 8l0 0.5l0-5l0 5l0.5-0.5l0 10l0-11l0 5l0 2l0.5-12.5l0 15.5l0-8l0-2l0-6.5l0.5-0.5l0 19.5l0-1l0-16l0-0.5l0 17l0.5-6.5l0 2.5l0 6l0-14.5l0-9l0.5 7l0 7l0-9l0 10l0-8l0 16.5l0.5-2l0-6l0 7.5l0-13.5l0-3l0.5 17l0-10.5l0-8l0 13.5l0-1.5l0-13.5l0.5 6.5l0 12.5l0-8.5l0-12l0 5.5l0.5 3.5l0 11l0-10.5l0 2.5l0-7.5l0 11l0.5 4.5l0-7l0-3.5l0-10l0 17l0.5 4l0-13l0 6l0 8.5l0-10l0 8.5l0.5-9.5l0 4l0 4l0-15.5l0 6.5l0.5-9.5l0 14l0 1.5l0 3.5l0-17.5l0 15.5l0.5-9.5l0-5l0 10.5l0-5.5l0 11l0.5-4l0-4l0 4l0 4l0 1l0.5-4.5l0-11.5l0 8.5l0-13l0 8.5l0 10l0.5-1l0-3l0 5l0-4l0 0l0.5-10.5l0 4.5l0 11.5l0-19.5l0 1l0 6.5l0.5-7.5l0 0.5l0 12l3.5 93l0-8.5l0 7.5l0.5-1l0 4.5l0 0l0 0.5l0-2.5l0-7l0.5 5.5l0 4l0-7.5l0 9l0-4l0.5-2l0 3.5l0 5.5l0-8.5l0 2.5l0-0.5l0.5 2.5l0 0l0-4l0 3.5l0 3l0.5-4.5l0 2.5l0 3.5l0 1l0-1.5l0 2.5l0.5-1l0 0.5l0-0.5l0 1l0-1.5l0.5 4l0 0l0-0.5l0 2.5l0-3.5l0 5.5l0.5-7.5l0 3.5l0 2l0 3l0-2.5l0.5 1l0 2.5l0-7l0 0.5l0-3.5l0 7l0.5-5.5l0 6.5l0-0.5l0-1l0-5.5l0.5 3l0 2l0-6l0 2l0 5.5l0-4.5l0.5-2.5l0 1l0 1.5l0-1l0 7.5l0.5-3l0-1.5l0 2.5l0-6l0 7l0.5-3l0-4.5l0 9l0-4l0 0l0 1l0.5-6l0 6l0-2.5l0 0.5l0-3.5l0.5-1l0 5.5l0-2.5l0-2.5l0 6.5l0-7.5l0.5 5.5l0 3.5l0-9l0 8.5l0-5l0.5-5l0 5.5l0-1l0 2.5l0-1l0 3l0.5-5l0 2.5l0-2l0 0l0 0l0.5 0.5l0-2l0 4l0 2l0 0l0-4l0.5-1.5l0 3l0 1l0-2l0-2.5l0.5 4l0 0.5l0-6l0 7l0-4.5l0 0.5l0.5-2.5l0-0.5l0 6l0 0l0-2.5l0.5-2l0 2l0 2l0-7.5l0 8l0-5l0.5 5.5l0 1.5l0-0.5l0-3.5l0-0.5l0.5-2.5l0 3.5l0-4l0 4.5l0-4.5l0.5 2.5l0-3l0 6.5l0-0.5l0-2.5l0 1l0.5 1.5l0-1l0 1l0 0l0 0l0.5-1.5l0-3l0 5.5l0-3l0-3.5l0 6.5l0.5-2l0-4.5l0 7l0-6l0 0.5l0.5 0.5l0 2.5l0-1l0-1.5l0 1l0-1.5l0.5 2l0 0.5l0 2.5l0-3l0-1l0.5 1l0 1.5l0 1.5l0-4.5l0-2.5l0 3l0.5-1l0-2.5l0 6l0-2.5l0 4.5l0.5-3l0-4l0 5.5l0-3.5l0 2.5l0-2l0.5 2l0-4l0 0.5l0 4.5l0 2.5l0.5-0.5l0-5l0 0l0 4l0-2l0.5 1l0-1.5l0 5.5l0-8.5l0-0.5l0 5l0.5-3l0 0.5l0-1.5l0 0.5l0 2l0.5-3l0 3.5l0 0l0-4l0 4l0-5l0.5-1.5l0 5l0 0.5l0 0.5l0-2l0.5 3l0 0l0-1l0 0l0-3l0-0.5l0.5 0l0 5.5l0-5.5l0 4l0-0.5l0.5-4.5l0-0.5l0 2l0 2.5l0 0l0-1.5l0.5 0.5l0 0l0 0.5l0-2.5l0 0.5l0.5 7l0-2.5l0-0.5l0-4l0 2l0 4l0.5-6.5l0 0l0 4l0-1.5l0 0.5l0.5-4l0 1.5l0-1l0 3l0 2.5l0 0l0.5 1l0-2.5l0-3l0 4l0-2.5l0.5 2.5l0-3.5l0 2.5l0 3.5l0-6l0.5 6.5l0-3.5l0 0.5l0-4.5l0 2l0-1.5l0.5 5.5l0-5l0 8l0-9l0-0.5l0.5 2l0-5.5l0 4l0 6.5l0-7.5l0 7l0.5-5.5l0 4.5l0-2.5l0-2.5l0 1l0.5 6l0-8.5l0 4.5l0-3l0 1.5l0 4l0.5-1.5l0 0l0-0.5l0 0l0-4.5l0.5 6.5l0 1l0 0.5l0-4.5l0-1l0 1.5l0.5 2l0-4l0 0.5l0-2.5l0 6l0.5-2.5l0-2l0 2l0 2l0-0.5l0-4l0.5-1l0 3l0-1.5l0-2.5l0 2l0.5 3.5l0-2.5l0 0l0-0.5l0 6l0-5.5l0.5 1l0 0.5l0 1l0 2.5l0-5.5l0.5-1l0 5l0-3.5l0 4l0-4.5l0.5-2.5l0 6.5l0 0l0-5l0 0l0-0.5l0.5 1.5l0-2.5l0 0.5l0 7.5l0-3.5l0.5 3.5l0-1l0-3.5l0 4l0-4l0 3l0.5 0.5l0-1l0-3l0 4l0-6l0.5 5l0 2.5l0-3l0 4l0-8l0 6.5l0.5-6.5l0 7l0-5.5l0 6l0-1l0.5-1l0-6.5l0 5.5l0-5.5l0 2l0 2l0.5 2.5l0-2.5l0 4.5l0-5l0 2l0.5 0l0-5l0 1l0 4l0-3.5l0-1l0.5 5.5l0-6l0-3l0 9l0 1.5l0.5-8l0 5l0 2.5l0-3l0-4.5l0.5 3.5l0 5.5l0-6.5l0 3.5l0-2.5l0-3l0.5 1l0 4l0 1.5l0-2.5l0-4l0.5 2.5l0 1.5l0 3.5l0-0.5l0 2l0-2.5l0.5-7l0 0.5l0-1l0 4l0-2l0.5 2.5l0 3.5l0-6l0 5l0-5l0 2l0.5 4.5l0-8l0 6.5l0-1.5l0-3.5l0.5 3.5l0-0.5l0 1l0-5l0 4.5l0-1.5l0.5 0l0-4.5l0 3.5l0 0l0 8.5l0.5-5l0-3.5l0-1l0 0.5l0 1l0-0.5l0.5-2l0 6l0-3.5l0 4.5l0 0.5l0.5-9l0 2l0 2.5l0-2l0 1l0-3.5l0.5 8l0-3.5l0-3l0 8l0-3.5l0.5-1l0-1l0 1.5l0-2.5l0 3.5l0.5-6l0 2.5l0 4l0-7l0 9l0-8.5l0.5 8l0-4l0-4l0 3.5l0-2l0.5 9.5l0-9l0 0l0 5l0-7l0 1.5l0.5-1l0 2.5l0-0.5l0 5.5l0 1.5l0.5-3.5l0 0l0 0l0 0.5l0-1.5l0 0.5l0.5-3l0 1l0 0l0-4l0 2.5l0.5 1l0 1.5l0 2l0-4l0-1.5l0 6l0.5-0.5l0 0l0 1l0-2l0 1.5l0.5-5l0 3.5l0-0.5l0-1.5l0 5l0-3.5l0.5-4l0 1l0 0.5l0 1.5l0 0l0.5-1.5l0 4.5l0-6l0 4.5l0-2.5l0-5l0.5 6.5l0 2.5l0-2.5l0 0.5l0-4.5l0.5 7l0-0.5l0-2l0 0.5l0 0l0.5-6l0 4.5l0 2l0-3.5l0-1l0 2.5l0.5-1.5l0 4.5l0-5.5l0 1.5l0 1.5l0.5 0.5l0-3l0 2l0 0.5l0-1.5l0 0l0.5 0l0-0.5l0-1l0 0.5l0-0.5l0.5 4l0-1l0-0.5l0-2.5l0 5l0-4l0.5-4l0 2.5l0 6.5l0-3l0-3.5l0.5 3.5l0 2.5l0-1.5l0 1l0-6l0-0.5l0.5 3l0 3.5l0 0.5l0 0l0-9l0.5 5l0-3.5l0 4l0 2.5l0-1.5l0 3.5l0.5 0l0-7l0 6.5l0-4.5l0 4l0.5-5.5l0 1.5l0 1l0-4l0 9l0.5-8.5l0 2l0-3l0 2.5l0 5.5l0-1l0.5-6.5l0 5l0-3l0 7l0-7l0.5 5l0-2.5l0 3l0-2.5l0 0.5l0-5l0.5 3l0 2.5l0-4.5l0 2l0 3l0.5-5.5l0 7.5l0-4l0 0.5l0 2.5l0-7l0.5 1.5l0-3l0 7.5l0-1.5l0-4.5l0.5 5.5l0-7l0 7.5l0 0.5l0-5l0 1.5l0.5 0l0 2l0-2l0 0l0 4.5l0.5-2.5l0-2.5l0-1l0 3.5l0 0.5l0-3l0.5-1l0 6l0-1.5l0-4l0 3.5l0.5-3.5l0-0.5l0-3l0 7.5l0-0.5l0-5.5l0.5 5l0 0.5l0-4.5l0 1l0 5.5l0.5-5l0 2l0-4.5l0 8l0-5l0.5 0l0 3.5l0 0l0-3l0-1l0-4.5l0.5 6l0 0l0 0l0 0l0 1.5l0.5-4.5l0 6l0-5l0 4l0 0l0-1.5l0.5-3.5l0 0.5l0 5l0-3.5l0 0l0.5 0l0-6l0 10l0-2l0 0l0 1l0.5-4l0 2.5l0-2l0 2.5l0-4l0.5-2l0 2.5l0 2.5l0 2l0-4.5l0-2.5l0.5 2.5l0 1l0 4l0 0.5l0-0.5l0.5-4.5l0-2l0 4l0 3l0-5l0 2l0.5-4l0 0.5l0-0.5l0 0.5l0 0.5l0.5 1.5l0-1l0 0.5l0-1l0 1.5l0.5 5.5l0-8.5l0 2l0 0l0 3.5l0 1l0.5-1.5l0-2.5l0-0.5l0 4.5l0-1l0.5 0l0 3l0-6.5l0-1.5l0 2.5l0 0.5l0.5 0.5l0 2.5l0-6.5l0 2l0 6l0.5-6.5l0 0l0 4.5l0-5.5l0 6.5l0-1.5l0.5-7l0 1.5l0 5.5l0-4.5l0 3.5l0.5 0l0-3l0-2.5l0 4l0-3l0 3l0.5-1l0-0.5l0 4l0-4.5l0-3.5l0.5 7.5l0-1.5l0-2.5l0-2.5l0 6.5l0-5.5l0.5-0.5l0 4l0-1l0-1l0 0l0.5-1l0 6l0-1.5l0-4l0 6.5l0-2.5l0.5 2.5l0-6l0 5l0-5.5l0 7l0.5-2l0-6.5l0 3l0 3.5l0-7.5l0.5 1l0 1.5l0 3l0 3l0-5.5l0 5.5l0.5-1l0-3l0-4l0 4l0 4l0.5-3.5l0 0l0-2.5l0-1l0 4.5l0-5l0.5 3.5l0 3.5l0-7.5l0 1.5l0 4l0.5 0l0-6l0 0l0 4l0 4l0-3.5l0.5-0.5l0-0.5l0 4l0-2.5l0-1.5l0.5-0.5l0 2.5l0 1l0-3l0 0l0 0l0.5 7l0-10l0 7l0-6l0 6l0.5-5l0-0.5l0 0.5l0 3l0-1.5l0-1.5l0.5 7l0-4l0-2.5l0 3.5l0-1l0.5-3.5l0-1l0 1l0 6.5l0-5l0 2l0.5 1.5l0-1l0-2.5l0-2l0 4l0.5 3l0 0.5l0-3l0-2l0 3l0.5-4.5l0-1l0 4l0 2l0 1.5l0-7.5l0.5-0.5l0 6.5l0-1.5l0-1.5l0-4.5l0.5 6l0 2l0-2.5l0-3.5l0-2l0 6l0.5 0.5l0-1l0-1l0-1l0 0.5l0.5 0l0-1l0 1.5l0-2l0 0l0 5.5l0.5-6l0 3.5l0 1.5l0-5l0 0.5l0.5 2.5l0 1.5l0 0l0-2.5l0-2l0 0l0.5 1l0-2l0 9l0-1.5l0-7.5l0.5 6.5l0-1l0-3.5l0 3.5l0-0.5l0 0.5l0.5 1.5l0-0.5l0-0.5l0-2.5l0-2.5l0.5-3l0 3.5l0 6l0-5.5l0 4l0.5-3.5l0-2.5l0 8l0-1.5l0-6.5l0 2l0.5 5l0-4.5l0 2.5l0-4l0-1.5l0.5 6.5l0-2l0-3l0 6.5l0 1.5l0-7l0.5 3l0-2.5l0-2.5l0 4l0-3l0.5 1.5l0 3.5l0 0l0-6l0 5.5l0-6l0.5 3.5l0 4.5l0-7l0 5.5l0-5.5l0.5-2l0 7l0 0.5l0-1.5l0 0.5l0-1.5l0.5 2.5l0-2l0 0.5l0-0.5l0-4l0.5 1l0 1l0 4l0 1.5l0-5.5l0-3l0.5 6.5l0-4l0 2.5l0-0.5l0-2l0.5-2l0 3.5l0-1.5l0 1.5l0-1.5l0-0.5l0.5 3l0 2.5l0-2l0 0l0 0l0.5 2.5l0-2.5l0-2l0 8l0-5l0.5-3.5l0 5.5l0-1l0 0.5l0-4.5l0-1.5l0.5 1l0-0.5l0 5l0-5.5l0 2l0.5 2.5l0 2.5l0-7.5l0 3.5l0-0.5l0-5.5l0.5 6l0 2.5l0 0l0-5l0-1l0.5 5.5l0 2l0-5l0 2l0 0.5l0-1.5l0.5 1l0-5l0 5.5l0-5l0 0.5l0.5 2l0 2l0-0.5l0 0l0 1.5l0-2.5l0.5 1.5l0 1.5l0-0.5l0-0.5l0-4.5l0.5 3.5l0-6.5l0 6l0-3.5l0 4.5l0-1l0.5-5l0 2.5l0-3l0 4.5l0 3l0.5-6l0 6l0-3l0 3.5l0-1.5l0-4l0.5 2.5l0 4.5l0-1l0-5.5l0 3.5l0.5 0l0-1l0-3l0-1.5l0-0.5l0.5 6l0 2l0-1.5l0-2.5l0 4l0-0.5l0.5-4.5l0 1l0-0.5l0-2.5l0 4l0.5 5l0-3.5l0-4l0 1l0 3l0-6l0.5 2.5l0 2l0 0.5l0-1l0-5l0.5 4l0-0.5l0 5l0-7l0 1l0 2l0.5 4l0 0.5l0-0.5l0 0.5l0 1l0.5-6l0-4l0 2.5l0 4l0 1.5l0-6l0.5 2.5l0-4l0 0l0 2l0 2l0.5 4.5l0-10l0 5.5l0-2.5l0 1.5l0 2l0.5-5.5l0 5.5l0 3.5l0-5.5l0 3.5l0.5-6l0 6.5l0-3.5l0 1l0-2.5l0.5 0l0 5l0-4l0 1.5l0 5l0-3l0.5 0l0-4.5l0 1l0 2l0 5l0.5-2l0-5l0 4l0-2l0-2.5l0-2l0.5 4.5l0-2l0 0.5l0 2.5l0-4.5l0.5 4l0-2.5l0 1l0 1l0-4l0-1.5l0.5 3l0 4.5l0 3l0 0l0-5.5l0.5-2.5l0 3.5l0 2.5l0-8.5l0 6l0-7l0.5 3l0 8.5l0-2.5l0-1.5l0-1.5l0.5-2l0 2.5l0 0l0-0.5l0-2l0 0.5l0.5 2l0-0.5l0-4l0 0l0 7.5l0.5-6l0-1l0 4l0 2l0-4.5l0 3.5l0.5-5.5l0 3.5l0 1.5l0 1.5l0-4l0.5 1.5l0-1.5l0 5l0 0.5l0-4.5l0.5-1.5l0-1.5l0 5l0-3l0-3l0 2l0.5 0l0 6l0-1.5l0-4l0-3l0.5 9.5l0-1l0-6l0 2.5l0-3.5l0 1l0.5-1.5l0-0.5l0 0.5l0 0.5l0 4.5l0.5-1l0-4l0 1l0-1.5l0 3l0-3l0.5 4.5l0-4.5l0 8l0-7.5l0-0.5l0.5 0l0 1l0 3l0 0l0-1.5l0 2.5l0.5 0l0-3l0 3l0 1.5l0-2.5l0.5-5l0 2l0 1.5l0-0.5l0 0l0 5.5l0.5 0l0-7l0-0.5l0 2.5l0 6l0.5-7.5l0 6.5l0-7.5l0 0l0 4.5l0.5 2.5l0-3.5l0 2l0-5l0-0.5l0 7.5l0.5-2.5l0-4l0 2.5l0 3.5l0-4.5l0.5 4.5l0-5.5l0 0l0 0l0 2.5l0-5l0.5 3.5l0-3l0 5.5l0-4.5l0 3.5l0.5-1l0 2l0-5l0-0.5l0 8.5l0-2.5l0.5-4l0 0.5l0-2.5l0 4.5l0-1l0.5 1.5l0-4l0 2l0-2l0 8l0-3l0.5-3.5l0 3.5l0-3.5l0 3.5l0 2.5l0.5-8l0 7l0-5l0 0.5l0 2l0-4.5l0.5 5l0 2l0-0.5l0-7.5l0 5l0.5-1.5l0-0.5l0-2.5l0 6l0-1.5l0-4l0.5 3.5l0-4.5l0 1.5l0 3.5l0-2l0.5-2l0 1.5l0 2l0 4l0-0.5l0.5-2.5l0 2.5l0-4l0 2.5l0 0l0 2l0.5 0.5l0-9.5l0 2l0 6l0-3l0.5 3l0-4l0 3.5l0-3l0 4l0-5.5l0.5 7.5l0-6l0 7l0-2l0-10l0.5 2l0 6.5l0-0.5l0-2l0-2l0 3.5l0.5-5l0 0l0 3l0 4l0-3l0.5 0l0-3.5l0-0.5l0 4.5l0-4l0 0l0.5 2l0-4l0 3.5l0 2l0-1.5l0.5-3.5l0 2l0 5l0-2.5l0-2.5l0-1.5l0.5 3l0 1l0-4l0 5.5l0-10l0.5 5l0 4l0 4l0-10.5l0 3.5l0 3l0.5 1.5l0 1l0-5l0-1l0 3.5l0.5 0l0 0l0-6l0 4.5l0-1l0.5 2.5l0-4.5l0 1.5l0 6.5l0-1l0-5l0.5 2l0 3l0-3l0-1l0-4.5l0.5 1l0 2.5l0 0.5l0-3.5l0 5l0 2l0.5-3l0-4.5l0 6l0-6.5l0 4l0.5-2l0 2l0-1.5l0 1l0 0.5l0 3l0.5-1l0-4l0 7.5l0-10l0 4.5l0.5 1l0 3l0-2.5l0-3.5l0 6l0-0.5l0.5-2l0-1.5l0 1.5l0 2l0 3l0.5-5l0 1l0-4l0-0.5l0-1l0 9l0.5-9l0 5l0-3l0 2l0 0l0.5 5l0-8.5l0 3.5l0 1.5l0-6l0.5 6l0-3l0 6.5l0-7l0 0.5l0 2l0.5-3.5l0 6.5l0-6l0-0.5l0 6l0.5-0.5l0-7.5l0 9.5l0-1.5l0-3.5l0-2.5l0.5 5.5l0 1.5l0-9l0 7l0-2.5l0.5 1l0 0.5l0 1.5l0-3l0 0l0-1l0.5 0.5l0 2l0-4l0 6.5l0-3.5l0.5 1l0 3.5l0-3.5l0 0.5l0 1.5l0-3l0.5 2l0-4.5l0 6l0-7l0 1l0.5 0l0 6l0-8.5l0 6.5l0-4.5l0 6.5l0.5-7.5l0 5.5l0 2l0-8l0 7l0.5-4.5l0 8l0-9.5l0 2l0 2.5l0 2.5l0.5-0.5l0-3l0-2.5l0-2l0 3l0.5-2.5l0 4l0 0.5l0-4l0 2l0.5 0l0 2l0-1.5l0-4l0 4.5l0 2l0.5-0.5l0 3l0-7.5l0 3.5l0-4l0.5 7.5l0-9.5l0 8.5l0-3l0 0l0 2.5l0.5-3.5l0 3.5l0-3l0 1l0 2l0.5-2.5l0 4l0-1l0-1l0 5.5l0-11l0.5 2.5l0 0l0 1.5l0-2.5l0 5.5l0.5-2l0-5.5l0 7l0-2l0-3.5l0 3l0.5 0l0 1l0-3.5l0 0l0 1.5l0.5 3l0-2.5l0 5l0-7.5l0 2.5l0-1l0.5-1l0 1.5l0 2.5l0-5l0 9l0.5-3l0-3l0-2.5l0 5l0-4l0 1l0.5 4.5l0-6l0 1l0 4.5l0-2l0.5-6l0 3.5l0 4l0-5l0 5l0.5-7l0 5l0 0l0 1.5l0-4.5l0-3l0.5 9.5l0-8l0 7.5l0-0.5l0-4l0.5 5l0-9l0 0l0 2l0 4l0 4l0.5-2.5l0-5.5l0 2.5l0 5l0-8.5l0.5 3l0 1.5l0 0.5l0-5l0 5.5l0-2l0.5-3.5l0 6.5l0-6l0 1.5l0 1.5l0.5 2.5l0-2.5l0 3l0-7l0 2l0 0.5l0.5 6.5l0-2.5l0-5l0 6.5l0-1l0.5-1l0-6.5l0 0.5l0 4l0-2l0 4l0.5-6l0 9.5l0-7l0-1l0 3l0.5-2l0 2.5l0-3l0-1l0-1l0.5 2l0-3.5l0 9.5l0-9l0 2l0 7l0.5-5l0 0.5l0-2l0-1l0 3l0.5 4.5l0-7.5l0 6.5l0-0.5l0-3.5l0 2.5l0.5 1.5l0-1l0-6.5l0 5.5l0-5l0.5 6.5l0 0l0-0.5l0-2l0 0l0 4l0.5-4l0-2.5l0 3.5l0-2l0 1.5l0.5-5l0 7l0-8l0 5.5l0 0l0-2.5l0.5 1l0 5l0-0.5l0-1l0-6.5l0.5 4l0-0.5l0 0l0 1.5l0 1l0 2l0.5-6.5l0 7l0-4.5l0 6.5l0-3l0.5-3.5l0 8l0-2l0-12l0 9l0 4l0.5-4l0-5l0 4l0-6.5l0 3l0.5 4l0-5.5l0 4.5l0-0.5l0 1l0.5-5.5l0 0.5l0 7l0-9.5l0 7.5l0 0l0.5-6.5l0 1.5l0-0.5l0 1.5l0 7l0.5-6.5l0-2l0 7l0-6.5l0 4l0-4l0.5 1l0 5l0-4.5l0 3.5l0-0.5l0.5-2l0 3l0-3.5l0 1.5l0-3.5l0 5l0.5-1.5l0 2l0-0.5l0 3l0-4.5l0.5-0.5l0 3.5l0-3l0-4.5l0 2l0 4.5l0.5-6l0 0.5l0 8l0-2l0 0l0.5 1.5l0-0.5l0-6l0-2l0 5.5l0-0.5l0.5-5l0 4l0 4.5l0-1l0-7.5l0.5 3.5l0-5l0 7.5l0 1.5l0-9.5l0 8l0.5-0.5l0-1l0 2.5l0-2l0 0l0.5-1l0 0l0 5.5l0-1l0-5.5l0.5-6l0 11.5l0-7.5l0 5.5l0-6l0-2l0.5 10.5l0-5.5l0 3l0-5.5l0 3.5l0.5-4l0 0.5l0 3.5l0 0.5l0-1l0 3l0.5-4.5l0-4l0 2l0 3.5l0 3.5l0.5 0l0-7l0 0.5l0 4l0-4l0 8l0.5 0l0-9l0 6l0 0l0-3.5l0.5 2l0 4.5l0-6l0-0.5l0 2.5l0-0.5l0.5 5l0-8.5l0 7l0-4.5l0 1.5l0.5 0l0-2.5l0 6.5l0-7l0 3.5l0-4l0.5 0l0 0l0-2l0 6.5l0-3l0.5 5l0-3l0 2.5l0-4.5l0 0.5l0.5 3.5l0 0.5l0 1l0-1l0-1.5l0 2.5l0.5-4l0-3l0-1l0 3.5l0 1l0.5-2l0 5.5l0-5.5l0-2.5l0 2l0 2l0.5-1.5l0-0.5l0 1l0-3.5l0 4l0.5 5.5l0-1l0-5.5l0 3l0 2.5l0-3l0.5 4l0-11.5l0 2.5l0 3.5l0-1l0.5-2l0 1l0 1l0 5l0 0.5l0-7l0.5 1.5l0-2.5l0-1.5l0 4l0-3.5l0.5 4l0 0l0-2l0-3.5l0 3.5l0 6.5l0.5-2l0 0l0 0.5l0-1l0-4l0.5 6l0-5l0 2.5l0-2.5l0 2.5l0 4l0.5-4.5l0-1l0 3l0-1.5l0-1.5l0.5-2.5l0 0.5l0-0.5l0 1.5l0 3.5l0.5 3l0-1l0-7l0 4l0 3l0-8l0.5 6l0-6l0 1.5l0-1l0 3l0.5 2l0-6l0 4.5l0-2l0 6.5l0-4.5l0.5 0.5l0 1l0 3.5l0-2.5l0-2.5l0.5 0l0-2l0 3l0-2.5l0-1.5l0 4l0.5 1.5l0-3.5l0 1l0 4.5l0-5.5l0.5-2l0 3l0 0l0 3.5l0 0.5l0-10.5l0.5 6.5l0 0l0 4l0-1.5l0-1.5l0.5-3.5l0 2.5l0 0.5l0 3l0 0.5l0-0.5l0.5-0.5l0-7.5l0 0l0 5l0-2l0.5 5l0-5l0-1l0 2l0-2.5l0.5 6.5l0-6l0 1l0 0l0 6.5l0-0.5l0.5-6.5l0 3l0 0l0-5l0 3l0.5 2l0-4l0 1l0 2l0 2l0-6l0.5 5.5l0-2.5l0-3.5l0 7.5l0-1.5l0.5-4.5l0 6l0-3.5l0 3l0-6l0 3l0.5 6l0-7.5l0 3.5l0-5l0 5.5l0.5-6.5l0 2.5l0 3.5l0 2.5l0-2.5l0-4.5l0.5 7.5l0-6.5l0 2l0 2.5l0 2l0.5-1.5l0-3l0 1l0-1.5l0-4l0 5.5l0.5-5l0 3.5l0 3.5l0-1l0 1.5l0.5-5.5l0 6l0-4l0 3l0-7.5l0 7.5l0.5-3l0 0.5l0 2l0 1l0 0.5l0.5-6.5l0-1l0 2l0-1l0-2l0.5 5.5l0 4l0-3l0 4.5l0-11l0 4.5l0.5-3.5l0-0.5l0 0.5l0 6.5l0-0.5l0.5-5.5l0 4.5l0-7.5l0 10.5l0-3.5l0-6.5l0.5 6l0-1.5l0 2l0-5l0 4.5l0.5-3.5l0 8l0-0.5l0-4l0 2l0-4.5l0.5 1l0 0.5l0 2.5l0-4.5l0 6l0.5-1.5l0-1l0-0.5l0 2.5l0-3.5l0-4.5l0.5 4.5l0-4.5l0 8l0 1.5l0-9l0.5 4l0-4.5l0 9l0-6l0-3l0 4l0.5 0l0-0.5l0 1l0-0.5l0 4.5l0.5-4.5l0 4l0-7l0 6.5l0-1.5l0 2.5l0.5-4.5l0-3l0 0l0 7l0-5l0.5 4.5l0-2.5l0-4l0 3.5l0 3l0.5-1l0-3.5l0 2l0 0l0 1l0-3.5l0.5 5.5l0-0.5l0 2.5l0-4l0-6l0.5 2l0 4l0-4l0-0.5l0 4l0 3l0.5-6l0 0.5l0 4l0-7l0 3l0.5 5.5l0-0.5l0-1.5l0-2l0 2.5l0 1.5l0.5-8l0 2.5l0-1.5l0 1.5l0 7l0.5 0l0-4.5l0-4.5l0 0.5l0 5.5l0 0l0.5-4l0 3l0-1l0-2l0 2l0.5 2.5l0 1.5l0-6l0 2l0 1l0-2.5l0.5 1l0-4.5l0 2.5l0 1.5l0-1l0.5 1l0 1.5l0-5l0 3.5l0-1l0.5-1l0-0.5l0 0.5l0-1l0 8.5l0-3l0.5 0.5l0 3.5l0-9.5l0 8l0-1l0.5-2.5l0-4.5l0 4.5l0 3.5l0-6.5l0 8l0.5-2.5l0-6l0 1.5l0 3.5l0-1.5l0.5 3l0-3l0-3.5l0 3.5l0-4.5l0 5l0.5-6l0 7l0-4l0-4l0 5l0.5-1.5l0 1l0 3.5l0-3.5l0-3l0 3l0.5 5.5l0-5.5l0 4l0-6l0 5.5l0.5 0l0-6.5l0 4.5l0 0.5l0-5.5l0 6.5l0.5 2l0-8l0-2l0 1l0 7l0.5 1l0-4l0-3l0 3l0 0.5l0 6l0.5-8l0 3.5l0-4.5l0 5l0 0l0.5-1l0-0.5l0 4.5l0-4.5l0 5.5l0.5-1.5l0-2l0-4l0-0.5l0 4l0-2l0.5 1.5l0-3.5l0 2.5l0-3.5l0 8.5l0.5-6l0 6l0-6l0-0.5l0 7l0-7l0.5 1l0-2l0-0.5l0 6l0-1l0.5 0l0-2l0-2l0 3l0 2l0 0l0.5 1l0-1l0-8l0 9.5l0-8l0.5-1l0 3.5l0 6l0-8.5l0 6l0-6l0.5 8l0-10l0 1l0 4l0 4.5l0.5 0.5l0-5l0 1.5l0-2l0 2.5l0 4l0.5-9l0 7.5l0-2l0 1.5l0-0.5l0.5-2l0 2l0-4l0-4l0 8l0-2.5l0.5-4.5l0 6.5l0-1.5l0-4l0 4l0.5 0.5l0 2.5l0-3l0 1l0-4l0.5 4.5l0 2l0-6.5l0 4l0-0.5l0-7l0.5 6l0-5l0 1.5l0 0l0 7l0.5-3l0 1l0 0.5l0-5l0-3l0 4.5l0.5 2l0 3.5l0-5.5l0-1l0-4l0.5 8l0-5l0 4.5l0-4.5l0-1l0 3l0.5 0l0-2l0-0.5l0 5.5l0 1.5l0.5-5l0 1l0-1.5l0-0.5l0 4.5l0 3.5l0.5-12l0 9l0-3.5l0-0.5l0 3.5l0.5-4.5l0 0l0 0.5l0 1.5l0-4l0 10l0.5-3.5l0 3l0-1.5l0-6.5l0 0l0.5 1l0 2l0-4.5l0 4l0-1l0.5 1.5l0-2.5l0 0l0 7l0-9l0-1l0.5 10.5l0-2l0-7l0 5.5l0 2.5l0.5-5l0 1.5l0 3.5l0-6.5l0 4l0 0l0.5-3l0 6l0-0.5l0-3l0 1.5l0.5 0.5l0-1.5l0-1.5l0 0l0 5l0-4l0.5-3l0-4l0 11l0-7.5l0 3l0.5 1.5l0-3l0 4.5l0-1l0-2.5l0-1.5l0.5-2.5l0 5l0-2l0 0l0-1.5l0.5 2.5l0 4.5l0-4.5l0-3.5l0 2l0 5l0.5-5l0-1l0 0l0 1l0-3.5l0.5 4.5l0 1.5l0 2l0 4l0-5l0 2.5l0.5-8l0 5l0-0.5l0-1.5l0-3l0.5 7.5l0-5.5l0 1.5l0-3l0 3.5l0.5-2l0 2.5l0 0.5l0-4l0 3l0-1l0.5-0.5l0 8.5l0-7.5l0-1l0 6l0.5-6l0 5l0-6l0 7l0-0.5l0-6.5l0.5-4l0 4.5l0-2l0 7.5l0-8.5l0.5 5.5l0-2l0 4l0-3l0 4l0-7l0.5 6.5l0-10l0 9.5l0-5l0 3.5l0.5 1.5l0-4.5l0 4l0-0.5l0-1l0 3.5l0.5-9.5l0 8l0-3.5l0 2l0-1.5l0.5 3l0-6.5l0 0.5l0-0.5l0 4.5l0 5.5l0.5-6.5l0-1l0 2.5l0-2l0 4l0.5-4.5l0-1.5l0 6l0-7l0 0l0 8l0.5 1l0-3.5l0-3l0 4.5l0-3.5l0.5 1l0-5l0 0l0 0l0 8l0.5-6l0 3.5l0-3l0-0.5l0 6l0-4.5l0.5 4.5l0-8l0 2l0 3l0 1.5l0.5 2l0-6.5l0 8l0-5.5l0-4.5l0 8l0.5-9l0 3.5l0 0.5l0-0.5l0 4l0.5-1.5l0-1.5l0-1l0 3.5l0-3l0-2.5l0.5 6.5l0-2l0 0.5l0-2l0-1.5l0.5-1l0 1l0 1l0-0.5l0 6l0-6l0.5 3.5l0 1l0 2.5l0-7.5l0 8l0.5-9l0-0.5l0 0l0 2.5l0 3l0-3.5l0.5 6.5l0-8.5l0 4.5l0-1.5l0 5l0.5-5l0-2l0-3.5l0 10l0-7l0.5 1l0 5.5l0-1.5l0 0l0-7.5l0 10l0.5-5.5l0 5l0 0.5l0-2l0-2l0.5 6l0-6.5l0 0l0 1.5l0-1l0 0.5l0.5 4l0-1l0 0l0-5.5l0 5.5l0.5-7.5l0 1l0 6l0 1l0-3l0-1.5l0.5 3.5l0-6.5l0-2.5l0 4l0-1l0.5 5.5l0-3l0 2.5l0-3.5l0 0l0 2l0.5-3l0 3.5l0-6.5l0 2.5l0 3.5l0.5 2.5l0-3.5l0 0l0-3.5l0 1.5l0 1.5l0.5-0.5l0 2l0 3.5l0-5l0-1l0.5-0.5l0 7l0-8l0 4.5l0 0.5l0-3.5l0.5-0.5l0 0.5l0 4.5l0 0.5l0 0l0.5-6l0 4l0-2l0-3l0 9l0.5-6.5l0 3l0 0.5l0-3.5l0 3.5l0-3l0.5-1.5l0 2.5l0-3l0 4.5l0 1.5l0.5 0l0-7.5l0 2.5l0 4.5l0-3l0-2.5l0.5 4.5l0-2l0-1.5l0-1l0 5.5l0.5-6.5l0 0.5l0-1l0 5.5l0 0l0-2.5l0.5-3.5l0 5.5l0-6.5l0 2l0 4l0.5-1.5l0-1l0 6l0-9l0 2l0 0l0.5 6l0-1.5l0 3.5l0-4.5l0-0.5l0.5 1.5l0-1l0-0.5l0 2.5l0-5.5l0 8l0.5 0l0-6l0 1.5l0 1.5l0-5l0.5 4l0-1.5l0 6l0-6.5l0 0.5l0.5 2l0-1.5l0 3.5l0-8l0 9.5l0-2l0.5-1.5l0-6l0 6.5l0-4.5l0-1l0.5 5.5l0 3l0-7l0 6.5l0-6l0 3.5l0.5-4.5l0 6.5l0-2l0-4l0-2.5l0.5 6l0-7.5l0 1l0 0.5l0 7l0-5l0.5 4.5l0 1l0-1l0-2.5l0 0l0.5 4.5l0-4.5l0-5l0 10.5l0 0l0-9.5l0.5 1l0 5l0 0l0-3l0-2l0.5 6.5l0 0l0-5l0 0l0 4.5l0-0.5l0.5-7l0-1.5l0 2l0 5l0 3.5l0.5-3l0-1.5l0 6l0-1.5l0-2.5l0 0l0.5-2.5l0-5.5l0 7.5l0 2l0-2l0.5 0.5l0-2.5l0-2l0 3l0 1.5l0.5-5.5l0 1.5l0-2l0 6l0-5.5l0 7.5l0.5-6.5l0 3l0 1.5l0 1.5l0 0.5l0.5 2.5l0-5.5l0-2l0-4l0 1.5l0-1l0.5 4l0 0.5l0 2.5l0 2l0-0.5l0.5-3.5l0 2l0-4.5l0-1l0 6.5l0-3l0.5-3l0-0.5l0 0.5l0 8l0-5.5l0.5 2.5l0 2l0-7.5l0-0.5l0 8l0-2.5l0.5 4l0-8l0 0l0 1.5l0 4.5l0.5-3l0-4l0 7l0-2.5l0-6.5l0 6l0.5-3l0-1l0 1l0 0l0-0.5l0.5 0.5l0 4l0 1l0-4.5l0 4.5l0-7l0.5 6.5l0-5l0 2l0 3.5l0-0.5l0.5-2.5l0 0.5l0-6l0 5.5l0-0.5l0.5 1l0-3l0-1l0 4.5l0-2l0 5l0.5-1.5l0-6.5l0 0.5l0-1.5l0 10l0.5-4l0 3l0-4l0-0.5l0-2.5l0 5l0.5 3.5l0-9l0 6l0-2l0 4.5l0.5-5.5l0 2l0 3.5l0-7l0 4l0 3l0.5-4l0-1l0-0.5l0 4.5l0-3l0.5-4l0 0l0 5.5l0-1.5l0-1.5l0-3.5l0.5 6l0-4l0 7l0-3.5l0-1l0.5 0.5l0-3.5l0 4l0-5l0-0.5l0 6.5l0.5 4.5l0-9.5l0 6l0-1.5l0 1l0.5 0l0 0.5l0-1l0 0l0 0.5l0.5-3.5l0 0.5l0-4.5l0 3l0 3.5l0-5l0.5 3l0 5.5l0-4.5l0-3l0-0.5l0.5 4.5l0-0.5l0-7l0 4l0 3l0 2.5l0.5-0.5l0-6l0 3.5l0 2.5l0-1.5l0.5-5l0 1.5l0 0.5l0 3.5l0-2l0 0.5l0.5 3l0-3.5l0 0.5l0 0l0-1l0.5-4.5l0 7l0 0.5l0-5.5l0 3l0-5l0.5 4l0 4.5l0-1.5l0-4.5l0 3.5l0.5-3.5l0 6.5l0 1.5l0-5.5l0-2.5l0-2.5l0.5 9l0 0.5l0-7.5l0 2.5l0-1.5l0.5 6.5l0-9.5l0 4.5l0 3l0-3.5l0 2.5l0.5-3l0-1.5l0 5l0-0.5l0-2.5l0.5 4l0-6l0 3.5l0 1.5l0-3l0.5 5.5l0-7.5l0-2.5l0 3l0 6l0-0.5l0.5-7.5l0 5l0-1l0 2l0-2l0.5 5l0-1.5l0 2.5l0-9l0 1.5l0 6l0.5-1.5l0-2.5l0 4l0-3.5l0-5l0.5 4.5l0 1.5l0-1.5l0-2.5l0 4l0 1.5l0.5 0l0 0l0-0.5l0 2.5l0 0l0.5-7.5l0 0.5l0 2l0-4.5l0 6l0 1l0.5-2.5l0-1.5l0 2l0-4l0 4l0.5 1.5l0-4.5l0 7l0-8l0 2.5l0 3l0.5-1.5l0 3.5l0-5.5l0 1.5l0-2.5l0.5-3l0 2.5l0 3.5l0-4.5l0 9l0-3.5l0.5-1l0-1.5l0-2.5l0 8.5l0-8l0.5 4l0 2l0-4.5l0 4l0 1l0.5-1l0-3.5l0 3l0 4l0-7.5l0-2.5l0.5 1.5l0 1l0-3l0 9l0-6.5l0.5 1.5l0-1l0 4l0 2l0-1l0-6l0.5 3l0-0.5l0 5l0-6l0 2l0.5-3.5l0 1.5l0-3l0 4.5l0-2l0-2.5l0.5-0.5l0 6l0 0.5l0-4l0-1.5l0.5 8.5l0-4l0-5l0 2.5l0 6.5l0 1l0.5-10l0 1l0 6l0 2l0-7.5l0.5 4.5l0-2l0-1.5l0 2.5l0-2.5l0 7.5l0.5-2l0-1l0 2.5l0 1l0-9l0.5 4l0 1l0-2.5l0-1l0 4l0.5-1l0-5l0 5.5l0-2l0 0.5l0-4l0.5 4l0-2l0 2l0-2l0 3.5l0.5-5l0 6.5l0-3.5l0 0l0-1l0 0l0.5-3.5l0 4.5l0 4.5l0-7l0-0.5l0.5-1l0 5l0 1l0 0l0 0l0-1l0.5-0.5l0-2l0 0l0-4.5l0 2.5l0.5 7l0-3l0 0l0 1l0-4l0 3.5l0.5-1l0-0.5l0-3.5l0 5.5l0-2.5l0.5 3l0 0.5l0-4l0 5.5l0-9l0 1.5l0.5-0.5l0-0.5l0 8.5l0-4.5l0 4l0.5-1.5l0 2.5l0-4.5l0-3l0 0l0 7l0.5-2.5l0-1l0-5.5l0 10l0-5.5l0.5 6.5l0-6l0-4.5l0 2.5l0 7.5l0.5-5.5l0 2l0-1.5l0 4l0-13l0 5.5l0.5 2l0 2l0 1.5l0-0.5l0 1.5l0.5-9l0 4l0 1l0 5l0-3.5l0-2l0.5 0l0-2.5l0 7l0-1l0-7l0.5 4l0 0.5l0-2l0-2.5l0 5l0 2.5l0.5-3l0-0.5l0-1.5l0-1l0 6l0.5-8l0 7.5l0 1.5l0-7.5l0 3.5l0-4.5l0.5 1.5l0 4l0-2l0 0.5l0-4l0.5 3l0-1l0 6l0-3l0-0.5l0 4.5l0.5-8.5l0 2l0 3l0-4l0 8l0.5-4l0-3.5l0 3.5l0-2.5l0 0.5l0.5-2l0 7l0-0.5l0-3l0 0l0-0.5l0.5 0.5l0-4.5l0-0.5l0-1.5l0 8l0.5-6.5l0-1.5l0 2l0 6.5l0-0.5l0 1.5l0.5-4l0-1l0 5l0-4l0-2.5l0.5 4l0 2.5l0-2l0-2.5l0 2.5l0-1.5l0.5 2.5l0 3l0-8.5l0 4l0-7l0.5 7l0-3.5l0 1l0 3.5l0-2.5l0 0.5l0.5 4.5l0-1.5l0-9l0 8.5l0-2l0.5-2.5l0 6l0-1.5l0-1.5l0 4l0-0.5l0.5-4.5l0-5.5l0 0.5l0 5.5l0-2.5l0.5 2l0-3.5l0 2.5l0-2l0 3.5l0 3.5l0.5-6.5l0-4l0 6.5l0-4.5l0 7.5l0.5-2.5l0 0l0 0.5l0 3l0-5l0.5-1l0 4.5l0 0.5l0-2.5l0-4.5l0 7.5l0.5-3l0 0.5l0-0.5l0-5.5l0 0.5l0.5 7.5l0-2l0-6l0 3.5l0 3l0 2.5l0.5-6l0 4.5l0-3l0 0.5l0 3l0.5-5l0 1l0-1l0 1.5l0 2.5l0-2.5l0.5 4.5l0-7l0 8l0-5l0-1l0.5 1.5l0-1.5l0 4l0-2.5l0-3l0 7.5l0.5-8l0 2.5l0 1.5l0-1.5l0 0.5l0.5 3l0-5.5l0 1l0 4l0-6.5l0 1.5l0.5 2.5l0-4l0 1l0 0.5l0 0.5l0.5-1.5l0 2l0-1l0 0.5l0-2l0 1l0.5 6.5l0-1l0-5.5l0 7l0-7.5l0.5 5.5l0 1l0-5l-695-60l298-30.5"/>
<path fill="none" stroke="none" marker-start="url(#mr)" marker-mid="url(#mr)" marker-end="url(#mr)" d="M131.5 643.5l0 13l0-4.5l0.5-0.5l0 2l0-4.5l0 5.5l0 0l0.5-2l0-3.5l0 8.5l0-1.5l0 2l0-3.5l0.5-1l0-1.5l0 2l0 3.5l0-6.5l0.5-0.5l0 8l0 3l0-4.5l0-3l0 1l0.5-11l0 13.5l0-5.5l0-3l0 2.5l0.5-1l0 4.5l0-1.5l0-1l0 5l0-28l0.5 25.5l0-4.5l0-1l0 9l0-11.5l0.5 2.5l0 9.5l0-22.5l0 12l0 4l0 3l0.5 4l0-1.5l0 0l0-1.5l0-4l0.5-0.5l0-0.5l0 2l0 0.5l0 3.5l0-7.5l0.5 6l0-0.5l0 1l0-10l0 5l0.5 4.5l0-2.5l0-0.5l0 2.5l0-2.5l0.5-1.5l0 0.5l0 2l0-5.5l0 8l0-4l0.5-1l0 5l0 0l0-1l0 3l0.5-7l0 0.5l0 7l0-12l0 10.5l0 0l0.5-8.5l0 7l0 4.5l0-11l0 0.5l0.5 8.5l0-1.5l0 0l0-5l0-4.5l0 3.5l0.5 6.5l0-1.5l0 0l0 0l0 2l0.5-12.5l0 2.5l0 10.5l0-4l0-5.5l0 6.5l0.5-2l0-8l0 8l0 1l0-3l0.5-3l0 9.5l0-4l0 1.5l0-11.5l0 9l0.5 2.5l0-4l0-0.5l0 4l0-2.5l0.5-8.5l0 5.5l0 5l0 3l0-4.5l0-6l0.5 8.5l0 2l0 1l0-1l0-4.5l0.5 3.5l0-4l0-0.5l0-15.5l0 0l0.5 14l0 7.5l0-5l0 2l0-4.5l0 0.5l0.5 4.5l0-1l0 1.5l0 2l0-2.5l0.5-6l0 6.5l0 0.5l0-0.5l0-1l0 1.5l0.5-1.5l0-29.5l0 30.5l0-4l0 6l0.5-11l0-6l0 12.5l0-2l0 8l0-10.5l0.5 3l0 3l0 1.5l0 0.5l0-13l0.5 12.5l0 0.5l0-1l0-4.5l0 6.5l0-2l0.5-8l0 7.5l0-10.5l0 10l0-7.5l0.5-10.5l0 22.5l0-7l0 3l0 3.5l0-12.5l0.5 8.5l0-2.5l0 5l0-3.5l0-2l0.5-2.5l0 4.5l0 1l0-7.5l0 11l0.5-7l0-1l0 4l0 1l0-7.5l0 7l0.5 0l0 1l0-5.5l0 8.5l0-2.5l0.5-4.5l0-4.5l0 2.5l0 7l0-3l0 1.5l0.5 3.5l0-10l0 7l0-3.5l0 3.5l0.5 0.5l0 0.5l0-4.5l0 3.5l0 0.5l0-4.5l0.5 5l0 0l0-0.5l0 3l0-6.5l0.5-4.5l0 3.5l0-4l0 8.5l0-5.5l0 10l0.5-5.5l0-4l0-1l0-1.5l0 0.5l0.5 8l0-2l0-1.5l0 2l0-3.5l0-1.5l0.5-0.5l0 2.5l0 1l0-3.5l0 4l0.5-8l0 6.5l0 0.5l0-0.5l0 1.5l0 3.5l0.5 2l0-3l0-1.5l0 2.5l0-2l0.5 1l0 2l0-2l0-4.5l0 1l0.5-15.5l0 17l0 3l0-1.5l0-4l0-1l0.5 6.5l0 0l0-10l0 3.5l0 2.5l0.5-1.5l0 3.5l0-12l0-1.5l0 16l0-7l0.5-5l0 12.5l0-12.5l0 5l0 5l0.5-2.5l0-17.5l0 18.5l0-3.5l0 7l0 0l0.5-5l0-1l0 2.5l0-4l0 2.5l0.5-14l0 14l0 2.5l0 4.5l0-3.5l0-9.5l0.5 9l0 2.5l0-0.5l0-2l0-2.5l0.5-3.5l0 8l0 1l0-9l0 3.5l0 4l0.5-1l0-5l0 7l0-3.5l0-2l0.5 2l0 2.5l0 1l0-6l0-2l0 1.5l0.5 3l0-1l0 4l0-4.5l0-4l0.5-5.5l0 9l0-0.5l0 2.5l0 0.5l0.5 3l0 0.5l0-0.5l0-19.5l0 18.5l0-4l0.5-2.5l0 5l0-4.5l0-8l0 8.5l0.5 3.5l0-4.5l0 4.5l0 0l0 4l0-6l0.5 0l0 1l0-2l0 0l0-3l0.5 8l0-1.5l0-6.5l0 8.5l0-14l0 13l0.5-9.5l0 8l0-1l0-3.5l0 4.5l0.5-5l0 1.5l0 6l0-3l0-0.5l0 5.5l0.5-9l0 6l0-4l0 2l0-3.5l0.5 0l0 3.5l0-1.5l0 0.5l0 2l0-4l0.5 4.5l0 0l0-3l0-6.5l0 5l0.5-2.5l0 6l0-8l3-55l0-4.5l0 1l0.5 5l0-7.5l0-0.5l0 7l0 2l0 2l0.5-7l0 2.5l0-0.5l0 3.5l0-5.5l0.5 2.5l0 2l0-9l0 7.5l0-1l0 0.5l0.5-6.5l0 5.5l0 4l0-5.5l0-0.5l0.5 1.5l0-0.5l0 2l0-2l0-3l0 10l0.5-3.5l0-1.5l0-3.5l0 2l0-3l0.5 5l0-3.5l0-1l0-1.5l0-0.5l0.5 5l0-5l0 9l0-6.5l0-0.5l0 1.5l0.5 0l0 4l0-7l0 8l0-2l0.5-5.5l0 7l0-2l0-0.5l0-0.5l0-0.5l0.5-1l0 0l0 0.5l0 2.5l0 0l0.5-1l0 3l0-8.5l0 5l0 6.5l0-1.5l0.5-9l0 4.5l0-4.5l0 3l0-1l0.5 0l0 3.5l0 0.5l0-7l0 8.5l0-10l0.5 9l0 3l0-9l0 4.5l0-6l0.5 6.5l0-1.5l0-2.5l0 2.5l0-4.5l0 1.5l0.5 0.5l0 9l0-5.5l0-0.5l0-2.5l0.5-2.5l0 5l0 1.5l0-3.5l0 0.5l0 2.5l0.5 1.5l0-1l0-4l0 0l0 2.5l0.5-4l0 2l0 3l0-4l0 1l0.5-1l0 3l0 0l0 2.5l0-8l0 5l0.5-3l0 5.5l0 0l0 0l0-4l0.5 2l0-4.5l0 3l0-4l0 3.5l0 2.5l0.5-5l0 2.5l0-0.5l0-4l0 4l0.5 5.5l0-4l0 3.5l0-8.5l0 7l0-3.5l0.5-1.5l0 9l0-2.5l0-9l0 1.5l0.5 1.5l0 1.5l0 3l0-3l0 1.5l0-0.5l0.5 0l0 1l0-2.5l0-2.5l0 4l0.5-6.5l0 4l0-2l0 6.5l0-5l0 3l0.5 1.5l0 0.5l0-2.5l0-1l0 1.5l0.5-3.5l0 1l0 2l0 4l0-2l0.5-1l0-2l0 7l0-6.5l0 0.5l0-2.5l0.5 0.5l0 1l0-2l0 4.5l0-2.5l0.5-2.5l0 4.5l0-0.5l0 0l0 4l0-2.5l0.5-2l0 0l0 0.5l0-1.5l0 0.5l0.5 1l0 3.5l0-0.5l0-2l0-4.5l0 2l0.5 3.5l0-1l0 2l0-0.5l0-3.5l0.5 0.5l0-3l0 3.5l0-3.5l0 4l0-1.5l0.5 2.5l0-2l0-0.5l0 4.5l0-5l0.5 6l0-4l0 0l0-3.5l0 5.5l0 0l0.5-2l0-0.5l0 0.5l0 0l0 0l0.5-1.5l0-2l0-5l0 3.5l0 2l0-0.5l0.5 2.5l0 2.5l0-3.5l0 1.5l0-1.5l0.5 5l0 0l0-2l0 2l0 4l0.5-4.5l0-1.5l0-1l0-1l0 2.5l0 0l0.5-4l0 5.5l0-0.5l0-8l0 4l0.5 2l0-1.5l0 1l0-2.5l0 3l0-0.5l0.5-2l0-3l0 5l0-10.5l0 12l0.5 4l0-4l0 0l0-1l0 0l0-1l0.5 4l0-2l0 4l0-5.5l0 1l0.5-4l0 5l0-1l0 0l0 2.5l0-8l0.5 9.5l0-5l0-5.5l0 10l0-0.5l0.5-9l0 3l0 2.5l0 0.5l0-9.5l0 2.5l0.5 7.5l0-1.5l0-4l0 6l0-4l0.5-2l0 6l0-4.5l0 5l0-0.5l0-20.5l0.5 23l0-6.5l0 2l0 0.5l0-2.5l0.5 9l0-1l0-7.5l0 2.5l0 2.5l0.5-1.5l0 2l0-5l0 1.5l0 2.5l0-2l0.5-7l0 7.5l0-6.5l0 7l0-1l0.5 2l0-6l0 5l0 0.5l0-1.5l0 0.5l0.5-5.5l0 1.5l0-0.5l0 4l0 2.5l0.5-3.5l0 4l0-10l0 11.5l0-7l0-2.5l0.5 6.5l0-1.5l0-4l0 4l0-3l0.5 1.5l0-1.5l0 2.5l0 0.5l0 1.5l0 3.5l0.5-7.5l0-3l0 3.5l0-0.5l0 0.5l0.5-3.5l0 8l0-3.5l0 1.5l0-5l0 2.5l0.5 5l0-2l0-6.5l0 3.5l0-1.5l0.5-3l0 4l0 2l0 0.5l0 1.5l0.5-8l0 8l0 1l0-4l0-4.5l0 11l0.5-2l0-2.5l0-4.5l0 4l0-1l0.5 5l0-13.5l0 5.5l0-0.5l0 3l0 1.5l0.5-4l0 1l0 4.5l0 2l0-7.5l0.5 5l0-5l0 7.5l0-5.5l0-0.5l0 2l0.5-2l0 3l0-2.5l0-1l0-2l0.5-1.5l0 2l0-1.5l0 2l0 6.5l0 1.5l0.5-6.5l0 1l0-3.5l0 4l0-2.5l0.5-2l0-10.5l0 18l0-2l0-11l0 10l0.5-2l0 1.5l0 5l0-10l0 0.5l0.5 6l0-5.5l0 2l0 0.5l0 4l0-4l0.5-1l0 7l0-4.5l0-4.5l0 3.5l0.5-1.5l0 4.5l0-1l0 1l0-4.5l0.5 3.5l0-4.5l0 7l0-4l0 0l0 8l0.5-4.5l0-1l0 1.5l0-1.5l0 0.5l0.5-6l0 4l0-1.5l0 2l0-3.5l0 1.5l0.5 2.5l0-1l0-1l0 0.5l0 4l0.5 0.5l0-2l0-0.5l0-4l0-2l0 4.5l0.5-0.5l0 0.5l0 4.5l0-11l0 4.5l0.5 2l0-5l0 2.5l0 7.5l0-4.5l0-3.5l0.5 2l0 0l0-0.5l0 0.5l0-2l0.5-2.5l0 8.5l0-3.5l0 0.5l0 2.5l0 1l0.5-4.5l0-2l0 4l0-2.5l0 0l0.5-6l0 10.5l0-3l0-5l0 4.5l0.5-1.5l0 6.5l0-13l0 12.5l0-4.5l0-1l0.5 2l0 2l0-5.5l0-0.5l0 4l0.5 0.5l0-2.5l0 0.5l0-5l0 10l0 0l0.5-3l0 2.5l0-1.5l0-1.5l0-5.5l0.5 9.5l0 0l0-11l0 1l0 5.5l0-4.5l0.5 1l0 7l0-6.5l0 3.5l0-2l0.5 4.5l0 3.5l0-9l0-5l0 7.5l0-2.5l0.5 7l0-1.5l0-0.5l0-1l0-3.5l0.5 5l0-4.5l0 2l0-2l0 7l0-5l0.5 6l0-4.5l0-1l0-3l0-8.5l0.5 12l0 0l0-7l0-0.5l0 8l0-4l0.5-0.5l0 1l0 0.5l0 0l0 3l0.5 0l0-3l0 2l0-5l0 5l0.5 0l0-9l0 13l0-3l0-1.5l0-2l0.5 1.5l0-0.5l0 2l0-4l0 6.5l0.5-3l0-7l0 5l0 2l0-4l0-2l0.5 11l0-12.5l0 5l0 0.5l0 4l0.5-7.5l0 7.5l0-4.5l0-1.5l0 4l0-4.5l0.5 2.5l0-3l0 0.5l0 9l0-6.5l0.5 3.5l0-2.5l0 1l0-4l0 3.5l0-1.5l0.5 4.5l0-2.5l0 1.5l0-3.5l0-1l0.5 4.5l0 0l0-0.5l0-8l0 8l0 1.5l0.5-0.5l0-3.5l0-4.5l0-2l0 6.5l0.5-3.5l0 2l0 3.5l0 2.5l0-2.5l0-7.5l0.5 9l0-2l0 0l0 0.5l0-5.5l0.5-1l0 7.5l0-7l0 0.5l0 0l0.5 5.5l0-7l0 10.5l0-1.5l0-0.5l0-3l0.5-2.5l0-2l0 7.5l0-8l0 2l0.5 7.5l0 1l0-3l0-2l0-3.5l0 4l0.5 1l0-4l0-3l0-9l0 9.5l0.5-0.5l0 5l0 2l0-6l0 2l0 1l0.5 3l0-2.5l0-0.5l0-0.5l0 2.5l0.5-1.5l0-6l0 3.5l0 3l0-3.5l0 5.5l0.5-5l0 4l0 1l0-2.5l0 0l0.5-2l0-1l0 4l0-5l0 5.5l0-1l0.5-9l0 7l0-4l0 9l0-4.5l0.5 2.5l0-1.5l0 1.5l0-4.5l0-1l0.5 5l0 4l0-9.5l0 6l0-1.5l0 2.5l0.5-9l0 9.5l0-6.5l0 3l0-1.5l0.5 6l0-8.5l0 2.5l0 1.5l0-12.5l0 15l0.5-2l0 4l0-3l0-5.5l0 2.5l0.5 0.5l0 2l0 2.5l0-2.5l0-3l0 6.5l0.5-5l0 2l0 3.5l0-2.5l0 2.5l0.5-0.5l0-9.5l0 9l0-1.5l0-2l0 7.5l0.5-14.5l0 6l0 2.5l0 0.5l0 6.5l0.5-4l0-3.5l0-0.5l0 3l0-1.5l0 4l0.5-9.5l0 6.5l0-6l0 3l0 3l0.5-11.5l0 7.5l0-5l0 3l0-0.5l0 6l0.5-8l0 6.5l0-1l0-5.5l0-0.5l0.5 4.5l0 1l0-1.5l0-0.5l0 1.5l0.5-6l0 9l0-1.5l0-5l0-1.5l0 10.5l0.5-4l0 1l0-3l0-1l0 0l0.5 0l0 3.5l0-6.5l0 1.5l0 2.5l0 0.5l0.5 7l0-5.5l0 6l0-5.5l0-0.5l0.5-4.5l0 0.5l0 6.5l0-13l0 12l0-2l0.5-0.5l0 1.5l0 2l0-6l0 2l0.5 5l0 2l0-3l0-6.5l0 3.5l0-5.5l0.5 2.5l0 3l0-3l0 4l0 0.5l0.5-1.5l0 5.5l0-9l0 4.5l0 2l0 2.5l0.5-10l0 3l0 3.5l0-0.5l0 1l0.5-1l0-3.5l0 8l0-8l0 7l0-3.5l0.5 1.5l0 0.5l0-4.5l0 0l0 5.5l0.5-2.5l0-5l0 3l0-2l0 3.5l0.5-4.5l0 3.5l0 3.5l0-4l0-5l0 5l0.5-0.5l0 0.5l0-2.5l0 3.5l0-2.5l0.5-1.5l0 2l0-1l0-1l0 6.5l0-7l0.5 8l0-9.5l0 6.5l0-4l0 4l0.5 0.5l0-2l0-1l0-2.5l0-3.5l0 2l0.5 6.5l0-3.5l0-0.5l0 1.5l0-2.5l0.5 6l0-2l0-2.5l0 3l0-4.5l0 1l0.5 3l0 3l0-4.5l0-1.5l0 5l0.5-4.5l0 0l0 4.5l0-7l0 7l0 1l0.5-5l0-4.5l0 0.5l0 3.5l0 3.5l0.5-2.5l0 0.5l0-1l0 1l0 0.5l0.5 3l0-4.5l0 2l0-1l0-8.5l0 13.5l0.5-5.5l0-4.5l0 3l0-0.5l0 9l0.5-1l0-5.5l0 7.5l0-6l0 0.5l0-6l0.5 7.5l0-3l0-2l0-1l0 6.5l0.5-0.5l0 1l0-8.5l0 4l0-5l0 10.5l0.5-2.5l0-3.5l0 8l0-6l0-2.5l0.5-2.5l0 6l0-9l0 14l0-4.5l0 4l0.5-2.5l0-6l0 6l0-2l0-3.5l0.5 5.5l0-2l0-2l0 1l0-0.5l0 3l0.5-5l0-2.5l0 6l0 2.5l0-0.5l0.5-3l0-1l0 9l0-7l0-0.5l0-2.5l0.5 0.5l0-1.5l0 7l0-10l0 6l0.5-7l0 1.5l0 5l0-7l0 9l0.5 0l0 3l0-8.5l0 5l0-4l0-0.5l0.5 6.5l0-4.5l0 1.5l0 4l0-8.5l0.5 0l0 4l0 2l0-6l0-23l0 23l0.5 5.5l0 2l0-7l0 4l0 3.5l0.5 0.5l0-4.5l0-0.5l0 3l0-1l0-4.5l0.5 8.5l0-2l0-16.5l0 15l0-4l0.5 6l0-5.5l0-2l0-3l0 7.5l0-1.5l0.5 2l0 2l0-9.5l0 9l0-5l0.5 1l0-2.5l0 8l0-2.5l0-2l0-3.5l0.5-1l0 3l0 1l0 0l0 0l0.5-2.5l0-0.5l0 7l0-9l0 2.5l0.5 0l0 7.5l0-4l0-3.5l0 3l0 3.5l0.5-4l0 3.5l0-10l0 3.5l0 1l0.5 1l0-5.5l0 2.5l0 6l0 1.5l0-2.5l0.5-5l0 3.5l0 5.5l0-7.5l0 4.5l0.5 1.5l0-1.5l0-0.5l0-6.5l0 5l0-2.5l0.5 3l0-3l0 3.5l0-4l0-4l0.5 4.5l0 9.5l0-6l0-2l0 6.5l0-3l0.5-2.5l0-2.5l0 3.5l0 5l0-10l0.5 4l0-4l0 2.5l0-4.5l0 1.5l0 6l0.5-0.5l0-5l0 1l0 6l0 0l0.5 2.5l0-3l0-11l0 4.5l0-1l0 5l0.5 4l0-5.5l0 2.5l0-7l0 8l0.5 1.5l0-9.5l0 5l0 0l0 3l0.5 1l0-6l0-4l0 4.5l0 5.5l0-4.5l0.5-2l0 6l0-4l0-3.5l0 8l0.5-7l0 4l0 2l0-1l0-5.5l0 11.5l0.5-15l0 12.5l0-7l0 8l0-7.5l0.5 1l0-2.5l0-0.5l0 3.5l0 0l0-1.5l0.5 4.5l0-7l0 1.5l0 1.5l0 5l0.5-1l0-2l0-0.5l0 2l0-8.5l0 10.5l0.5 0.5l0-7l0 0.5l0 2.5l0-0.5l0.5-3l0 5l0-1.5l0-8l0 12.5l0-8.5l0.5 6.5l0-2l0-3.5l0 2l0 1l0.5 3.5l0 5.5l0-10l0-0.5l0 4l0-6l0.5 1.5l0 0.5l0 1l0-2.5l0 0l0.5 5.5l0-7.5l0 1.5l0 6l0 2l0.5-2l0 4.5l0-6l0-2l0 3.5l0 0.5l0.5-5l0 1l0 0.5l0 4l0 0.5l0.5-1.5l0-6.5l0 9l0-10.5l0 7.5l0-5l0.5 1l0 7.5l0-1l0-3l0-26.5l0.5 19.5l0 5.5l0 3.5l0 3.5l0-8.5l0-5l0.5 3.5l0 9l0-9l0 1.5l0-4l0.5 4l0 3l0-0.5l0 0l0-5.5l0 0.5l0.5 1.5l0-4l0 8l0-6l0 1.5l0.5-1.5l0 2l0 2.5l0 5l0 0.5l0-3l0.5 3.5l0-14l0 2.5l0 5.5l0-7.5l0.5 6.5l0 1l0 0l0-0.5l0 0.5l0.5 1l0-2l0-7.5l0 12.5l0-2.5l0-3.5l0.5 0.5l0 1.5l0-1.5l0 0l0-5l0.5 9.5l0-4.5l0 0l0 2l0-8l0 11.5l0.5-4.5l0-2.5l0-3.5l0 5.5l0 3l0.5-0.5l0-2.5l0 9l0-4l0-5.5l0 2.5l0.5 3l0-7.5l0-1l0 9l0-2.5l0.5-3l0 3.5l0-0.5l0-6l0 0.5l0 5.5l0.5-4l0 5.5l0 5l0-11l0 3l0.5-5.5l0-1l0 5.5l0-0.5l0-11l0 8.5l0.5 4.5l0 3.5l0-8.5l0 3l0-1l0.5 0.5l0-1.5l0 1l0-6l0 3l0-1l0.5 7l0-4.5l0 7.5l0-7l0-2l0.5 14l0-18.5l0 12l0-4.5l0 6l0.5 1.5l0-6.5l0-2l0 5.5l0-3l0-4l0.5 4l0 5l0-4l0-2.5l0 0l0.5 2.5l0 1.5l0-6l0 6l0-0.5l0-4.5l0.5 2.5l0-0.5l0 2.5l0-3l0-1.5l0.5 6l0-4l0 4l0-11.5l0 11l0-0.5l0.5 3l0-7l0 9l0-12l0 6.5l0.5 0.5l0 0.5l0 3.5l0-6l0 0.5l0 1.5l0.5 2l0-7.5l0 3l0-2l0 2l0.5 0.5l0 7.5l0-7.5l0 5l0-10l0 5.5l0.5-3.5l0-3l0 4.5l0-0.5l0-4l0.5 10l0-3l0-4.5l0 8l0-1.5l0-6.5l0.5-1.5l0 9l0-3.5l0-5l0 6.5l0.5 3.5l0-6.5l0 5l0-2.5l0-4.5l0.5-1.5l0 7.5l0-8.5l0 3l0-8.5l0 11l0.5-2.5l0 6.5l0 0l0-8l0 5l0.5-3l0 6l0-11l0 7l0 4l0-0.5l0.5-7.5l0 5.5l0-6.5l0 10l0-7.5l0.5 4.5l0 3l0-4.5l0-3.5l0 4.5l0-4.5l0.5 3l0 0l0-7.5l0-4.5l0 14.5l0.5 0l0 0l0-5l0 3l0-5.5l0 3.5l0.5-3l0-1.5l0 9.5l0-4l0-4l0.5 6.5l0 4l0-9l0-3l0 1.5l0 3.5l0.5-4l0 6l0 1.5l0-16l0 11.5l0.5 3l0-3l0 6l0-4l0 3l0.5-4l0-4l0 1.5l0 9.5l0-8.5l0-1l0.5 5.5l0-2l0 3l0-6l0 8.5l0.5-6l0-4l0 8.5l0-12l0 13.5l0-5l0.5 5.5l0-7l0-3.5l0 9.5l0-1l0.5 1l0-3l0-7.5l0-0.5l0 5.5l0-4.5l0.5 9l0 1.5l0-4.5l0.5-4l0 0l0-4l0 4.5l0.5-7l0 2.5l0-1.5l0 5.5l0 1.5l0.5-5.5l0 3.5l0-3l0 5l0-1.5l0-1.5l0.5-2.5l0 5.5l0-10l0 2.5l0 13l0.5-7.5l0-6l0 1l0 1l0-4l0 9.5l0.5-12l0 12l0-13.5l0 15l0 1.5l0.5 0.5l0-2.5l0-10l0 8.5l0-1.5l0.5-10.5l0 4l0 6.5l0-5l0-1l0 10.5l0.5-11l0 4l0-6l0 13.5l0-4.5l0.5-7.5l0-5l0 17l0-5.5l0 2.5l0-6l0.5 2.5l0-2l0 0l0 7.5l0-10.5l0.5 3.5l0-1.5l0 8.5l0-9l0 0l0 5.5l0.5 5l0-10l0 9l0-7l0 1.5l0.5 0l0-1l0 4l0-2l0-1l0-0.5l0.5 4l0-5l0-7l0 2l0 4.5l0.5-5l0 3.5l0 6.5l0-2.5l0-7l0 9l0.5 0.5l0-9l0 2l0 0.5l0 10.5l0.5-2l0-11.5l0 1.5l0 6l0-8l0-13.5l0.5 20l0-1l0 7l0-11.5l0 3l0.5-3l0 6l0-6.5l0 8.5l0-9.5l0.5 16.5l0-9l0-10l0 14.5l0-9.5l0 1l0.5 2.5l0-0.5l0 9l0-19l0 14.5l0.5 7.5l0-1.5l0-4.5l0-19l0-6l0 30l0.5-10.5l0 6.5l0 1l0 1.5l0-0.5l0.5-8l0-0.5l0 7.5l0-9l0 3.5l0-2l0.5 0l0-0.5l0 4l0 4.5l0-4l0.5 1l0-13l0 17l0-11l0 9l0-12l0.5 2.5l0 10.5l0-5l0 1l0 1.5l0.5-2.5l0-0.5l0 3l0-16.5l0 23l0-19l0.5 5.5l0 2l0 3.5l0 0l0-6.5l0.5-6l0 12l0 2.5l0-5l0 0.5l0.5-3.5l0-6l0 5l0-3l0 2.5l0 0.5l0.5-3l0 5l0 8l0-14l0 5l0.5 6l0-3l0-4.5l0 5.5l0-15.5l0 15l0.5 2.5l0 5.5l0-13l0-3l0 16l0.5-4l0-9.5l0 2.5l0 4l0 0.5l0-0.5l0.5-11.5l0 14.5l0 8l0-15l0 0.5l0.5-0.5l0 8l0-5l0-0.5l0 5.5l0 2l0.5-16l0 5l0 9.5l0-6l0-4l0.5 0l0 10.5l0-8l0-4.5l0 6.5l0 8l0.5-12.5l0 5l0 0.5l0-5.5l0 8l0.5-1l0-11l0 2l0 6.5l0-4.5l0 1.5l0.5-1.5l0-0.5l0-2l0 11.5l0 2.5l0.5-6.5l0-2l0-3.5l0 13l0-15.5l0.5 9.5l0-8.5l0 5l0-1l0 4.5l0-4l0.5 2.5l0 3.5l0-0.5l0-7l0 3.5l0.5 5.5l0-3l0-6.5l0 7.5l0-4l0 4.5l0.5-8.5l0-0.5l0 0.5l0 8l0-8l0.5 2l0 2.5l0 2.5l0-1l0 0l0-1l0.5-2.5l0 2l0 1l0 4.5l0-7l0.5-1l0-6l0 8.5l0 1l0 7l0-16.5l0.5 14l0-1.5l0 2l0 2l0-5l0.5-2.5l0 5l0-17l0 11l0-1.5l0-3l0.5-3.5l0 3.5l0 1.5l0 7.5l0 0.5l0.5 1.5l0-13l0 8.5l0-5l0 11.5l0.5-10.5l0 7.5l0-1.5l0-4.5l0-3.5l0 11l0.5-7l0 5l0-9l0 0.5l0 9l0.5-5.5l0 0l0-1l0-4.5l0 9l0 3l0.5 0.5l0-13.5l0 2.5l0 4l0 10l0.5-14l0 10.5l0-15.5l0 14.5l0-2l0-7l0.5 8.5l0-7.5l0 10.5l0-15l0 4l0.5-7.5l0 8.5l0-12.5l0 24l0-7l0-9.5l0.5 7l0-1l0 2.5l0 5.5l0-6l0.5-2l0 1.5l0-7.5l0 11l0-1l0-4.5l0.5-1l0 6.5l0-10.5l0 11l0-6.5l0.5 8.5l0-10l0 10.5l0-7l0 2.5l0-4.5l0.5 7.5l0-12.5l0 7.5l0-1l0 4l0.5-3l0-6.5l0 11l0-11l0 10.5l0.5 0l0-13l0 3.5l0 13.5l0-3l0-4l0.5 2.5l0-4.5l0 5.5l0-5l0 6l0.5-12l0 11l0-5.5l0-8l0 8.5l0-5l0.5 7.5l0-8.5l0 13l0-13l0 11l0.5-1l0 3.5l0-16l0 10.5l0-9l0 5l0.5-7.5l0 13.5l0-5.5l0-8l0 5.5l0.5-4l0 7.5l0-1.5l0 0l0-2l0 6l0.5-6.5l0 3.5l0 10l0-9.5l0 1l0.5 0.5l0-6.5l0 13l0-15.5l0 9.5l0 2.5l0.5-7l0-3l0 7l0-5.5l0 7.5l0.5-10.5l0 14.5l0-8.5l0-3.5l0 6l0-4.5l0.5 2l0 0.5l0 1l0-0.5l0 4l0.5-5.5l0 4l0 2.5l0 0.5l0-0.5l0.5-7l0 4.5l0-3l0 5.5l0-6l0 5l0.5 6l0-3.5l0-5.5l0-2.5l0 12.5l0.5-17.5l0 10.5l0-3.5l0-1l0-3.5l0 6l0.5-9.5l0 11l0-2l0 4.5l0 3l0.5-6.5l0-2l0-5l0 3.5l0 1l0 0l0.5-0.5l0 6l0-13l0 4.5l0 10l0.5-11.5l0 4l0-4l0 0l0 6l0-7.5l0.5 2l0 7l0-3.5l0-1.5l0 9.5l0.5 1.5l0-13l0 0.5l0 5l0-5l0 4l0.5-3l0 12.5l0-15l0-2.5l0 13l0.5-8l0 6.5l0-10l0 6l0 2l0.5-4.5l0 10l0-11.5l0 6.5l0 0.5l0-8l0.5 1l0 5l0-6.5l0 12l0-3.5l0.5 1l0-4l0-5.5l0 1l0 6l0-3l0.5 6.5l0-3.5l0 4l0-5.5l0 3l0.5 3l0 0.5l0-6l0-3l0 0l0-6l0.5 7.5l0-6.5l0 1l0 5.5l0-1.5l0.5 4.5l0-7l0 5.5l0 1.5l0-3l0 0l0.5-5.5l0-0.5l0-0.5l0 1l0 8l0.5-10l0 13.5l0 5l0-11l0-9.5l0 17l0.5-6.5l0 3l0-6l0 3.5l0-2.5l0.5 10l0-4.5l0-7.5l0 8l0-3.5l0 1.5l0.5-2.5l0-3.5l0 5.5l0-1l0 6.5l0.5-14.5l0 16l0-7.5l0-2l0 4.5l0.5-3l0 1.5l0 4.5l0-15.5l0 7.5l0 0l0.5 3l0-0.5l0-1l0-2.5l0 7.5l0.5-7.5l0 7l0 0l0-9.5l0-1.5l0 13l0.5-1l0-14l0 11l0 1.5l0-9l0.5-2l0 7l0 1l0-5.5l0 9.5l0 0l0.5 2l0-6l0 4l0-12l0 3l0.5 3l0-5l0 11l0 1.5l0-7l0-1.5l0.5 5l0-6l0 0l0 6l0-3l0.5-5.5l0 5l0 2l0-8.5l0 3.5l0 0l0.5 11l0-6l0-5l0-0.5l0 7.5l0.5 0l0-5l0-1l0 3.5l0 7l0-5l0.5-0.5l0-6.5l0 9l0-5.5l0 2l0.5 9l0-13l0-5.5l0 6l0 0l0.5 0.5l0 1l0-8.5l0 10.5l0 5.5l0-7l0.5-7.5l0 13.5l0-10.5l0 4l0 11l0.5-9.5l0 5.5l0-11l0 2.5l0 1.5l0 0l0.5 6.5l0-26.5l0 27.5l0-8.5l0 0l0.5-1.5l0-3l0 8.5l0-8l0 11.5l0-10l0.5 10.5l0-2.5l0-1l0-9.5l0 11l0.5 0.5l0-3l0-2.5l0 3l0 3.5l0-11l0.5 3.5l0-5l0 3l0 8.5l0 4l0.5-5l0-3.5l0 1.5l0-2.5l0 7l0-4.5l0.5 0.5l0-6.5l0 2.5l0-1l0 3l0.5-5.5l0 6.5l0-10l0 1l0 4.5l0.5-3l0 6l0 3l0-9.5l0 0l0 10l0.5 1l0-3.5l0 5.5l0-7.5l0 0.5l0.5-4.5l0 6.5l0-4l0 7l0-6.5l0-2l0.5 6l0-8.5l0 2l0 2.5l0-5l0.5 0l0 4l0 7l0-7.5l0.5-5l0-12l0-5.5l0.5 23l0-13l0-3.5l0 8l0-1.5l0 0.5l0.5 6l0-17l0 13.5l0-5l0 3.5l0.5-6.5l0 5.5l0-5.5l0 4.5l0 8l0-18l0.5-4.5l0 17.5l0 4l0-11l0 7.5l0.5 4l0-13l0 12.5l0 0.5l0-2l0-4.5l0.5 0l0 2l0 0l0-8l0 5.5l0.5-2l0 4l0 8l0-14l0 1.5l0.5-7.5l0 8l0 12.5l0-13l0 0.5l0 5.5l0.5 1.5l0-5.5l0-6.5l0 5.5l0 0l0.5 3.5l0 2.5l0-2.5l0-26.5l0 30.5l0-1l0.5 0l0-4.5l0 8l0-2.5l0-3.5l0.5-13.5l0 19.5l0-30.5l0 22l0-5.5l0-7l0.5 20.5l0-3.5l0-0.5l0 5.5l0-3.5l0.5-1.5l0-8l0-3l0 12.5l0-5.5l0-3l0.5 13l0-18.5l0 5l0 6.5l0-7l0.5-2l0 4l0 7l0-4l0 5l0-6l0.5-6l0 1l0-0.5l0 9.5l0 5l0.5-6l0 6.5l0-13l0-1l0 0.5l0 1.5l0.5-14l0 16l0-1.5l0 8.5l0 5l0.5-17.5l0 9l0-5.5l0 4l0 0l0.5-0.5l0 10.5l0-12l0-6l0 5.5l0-2.5l0.5 8l0 3l0-5l0-2.5l0-4l0.5 3l0 3.5l0-1.5l0-7.5l0 14l0-1l0.5-6.5l0-4.5l0 9l0-12.5l0 3.5l0.5-3l0 6l0 2l0-7.5l0 12.5l0-8l0.5 9l0-13l0 11l0-9l0 8l0.5 1l0-1l0-8.5l0 2l0 2l0 3.5l0.5 4.5l0-9.5l0 11l0-8l0 3l0.5-4.5l0 7.5l0-10.5l0-3.5l0 13l0-12l0.5 11l0-15l0 1.5l0 14l0-13.5l0.5-4l0 9.5l0 11l0 1.5l0-7l0.5-9.5l0 9l0 6l0-4l0-6.5l0 9l0.5-16.5l0 4.5l0 3l0 9l0-10l0.5 11l0-8l0-0.5l0 2l0 4l0-9l0.5 2l0-8l0 3.5l0 3.5l0 4l0.5 3.5l0-5l0 6l0-1l0-7.5l0 2l0.5 9l0-8l0 2l0 0.5l0 1l0.5-2.5l0-13.5l0 19l0-13l0 2.5l0 11l0.5-6.5l0-8l0 0l0 7.5l0 1l0.5-5.5l0 3l0-1l0 2.5l0 4.5l0-20.5l0.5 21l0-8.5l0-0.5l0 12l0-1.5l0.5-13.5l0 1.5l0 16l0 2.5l0-20.5l0 12l0.5 2l0-7l0 10l0-5.5l0-11l0.5-3.5l0 1.5l0 11l0-4.5l0-9l0.5 10.5l0-6l0 6l0-3l0 1.5l0 2l0.5-1l0-2l0-0.5l0 4l0 5.5l0.5-4.5l0-4l0 13l0-13.5l0 9l0-10l0.5 6.5l0-3.5l0-3l0 1l0 4l0.5 4.5l0-10l0-3l0 10.5l0-16l0 19l0.5-1.5l0 6.5l0-3.5l0-0.5l0-10.5l0.5 7l0-10.5l0-0.5l0 7l0-7.5l0 12l0.5-2.5l0-5.5l0 8l0-1l0-6l0.5 3.5l0-7l0 14.5l0-15l0-0.5l0 7.5l0.5 0l0-8l0 6.5l0-3.5l0 9l0.5-6.5l0 9.5l0-8l0 3l0-9l0.5 4l0 11.5l0 1l0-12l0 10.5l0-4.5l0.5-1l0 2.5l0 2.5l0-17.5l0 1.5l0.5 6.5l0 12.5l0-15l0-2.5l0-2.5l0 8.5l0.5-3.5l0-4.5l0 11l0 1.5l0-6.5l0.5-1l0 1.5l0 8l0-7l0-2.5l0 0.5l0.5-3l0 8l0 2l0-5l0 6l0.5-9.5l0 4.5l0-0.5l0 8.5l0-10.5l0 8.5l0.5-2.5l0-1l0-4l0 10l0-13l0.5 10l0-11l0 11l0-13.5l0 2l0 8l0.5-7l0 8l0-9l0 12l0-8l0.5 5.5l0-10.5l0 18l0-6l0-1l0-1.5l0.5-8l0 2.5l0-1l37-154l0 11.5l0-5l0.5-21.5l0 1l0 28l0-0.5l0-12l0.5-2.5l0-5l0 16.5l0-10.5l0-1l0-2l0.5-5l0 11l0 13.5l0 1.5l0-17l0.5 0l0 3.5l0-10.5l0 26l0-15l0-14l0.5 14.5l0 14.5l0-15l0-6.5l0-1l0.5-4l0 21l0-27.5l0 26l0-1.5l0 2.5l0.5-4.5l0-11l0-7.5l0 7l0 14l0.5-8.5l0-19.5l0 32l0-20l0 4l0 13.5l0.5-12.5l0 18l0-2l0-27.5l0 21l0.5 0l0 9.5l0-30.5l0-5l0 21l0 12l0.5-23.5l0 11l0-17.5l0 22l0-16l0.5-2.5l0 7l0 10.5l0 9.5l0-9l0.5 10.5l0-3l0-8.5l0 5l0-22.5l0 4l0.5 8.5l0 4l0-11.5l0-1.5l0-1.5l0.5 7l0-11l0 3l0 24.5l0-8.5l0 9l0.5-21l0 15l0-16.5l0-4l0 8l0.5 9.5l0-3.5l0 2l0-14.5l0 10l0 6.5l0.5-15.5l0 3l0 24.5l0-24l0 8.5l0.5 5.5l0 6l0-23.5l0-5.5l0 2.5l0 21.5l0.5 4l0-21.5l0-7l0 8l0-4.5l0.5-9l0 16.5l0 8.5l0 8l0-14.5l0-6l0.5-0.5l0 19l0-22.5l0 25.5l0-24.5l0.5 23l0-51.5l0 39l0 7.5l0-5.5l0 3l0.5-6l0-6.5l0 15l0-17l0 16l0.5 13.5l0-2.5l0-31l0 8.5l0-0.5l0.5 19l0-4l0 2l0-6l0 2.5l0 2.5l0.5-21.5l0-2l0 14l0-11.5l0 12l0.5 1l0 9.5l0-25l0 13l0 8.5l0 4.5l0.5-2l0-15l0 20.5l0-21l0 7.5l0.5 16l0-23l0 15l0-17l0 0l0 0.5l0.5 8l0 14.5l0-29l0-3.5l0 16l0.5 11l0-19l0 2l0 12l0-23.5l0 29l0.5-7l0 1l0-15l0 27l0-13l0.5-10.5l0 11.5l0-1.5l0-34l0 48l0-18l0.5-12l0 22.5l0-1.5l0-10l0-12l0.5 14l0-0.5l0-11.5l0-1.5l0 17.5l0-20.5l0.5 6.5l0 10l0-13.5l0-3l0 6.5l0.5-5l0-1.5l0 26l0-9l0 10.5l0.5-7.5l0-15l0 17.5l0-9.5l0 3l0 14l0.5-5l0 8.5l0-13l0-8l0-1l0.5-13.5l0 18.5l0-7.5l0-5.5l0 3.5l0 4l0.5 1.5l0-7l0 24.5l0-18.5l0-8l0.5-4.5l0 15l0-13l0 11.5l0 13l0 5.5l0.5 3.5l0-34l0 3.5l0-5l0 10.5l0.5 2l0-14.5l0 19.5l0-11.5l0 9l0-19.5l0.5 34l0-22l0 15l0-16.5l0 17.5l0.5-25.5l0 16.5l0 15.5l0-27.5l0-0.5l0 25l0.5 3.5l0-18l0 20.5l0-18l0-9.5l0.5-3l0 15l0-26.5l0 14.5l0 20.5l0.5 0l0-15.5l0 2l0 7l0 11l0-19.5l0.5-11.5l0 3l0 4.5l0-6.5l0 2l0.5-2.5l0 30l0-12.5l0-10.5l0 1l0 16l0.5-15l0-3l0-1l0 10l0 5.5l0.5-7.5l0 14.5l0 3.5l0-19.5l0 17l0-27l0.5 29l0-0.5l0-7l0-18l0 23l0.5-5l0-8.5l0-12l0 24l0 7l0-28l0.5 11l0 8l0 4.5l0-3.5l0-21l0.5 2.5l0 15l0 9l0-3l0 5l0-14.5l0.5 6.5l0 0l0-18l0-0.5l0 21l0.5-8l0-12.5l0 7l0 16l0-17.5l0 11.5l0.5-21l0 29l0-16.5l0-2l0 19l0.5-3.5l0-12l0-15l0 1l0 23l0.5 2.5l0-2l0-26l0 33l0-19.5l0 6l0.5 8.5l0 2.5l0-29.5l0 17l0-15l0.5-3l0 22l0-14.5l0 13l0-9.5l0 0.5l0.5 13.5l0-5.5l0-17.5l0 9.5l0 2l0.5 8.5l0-11.5l0 1l0 24.5l0-21.5l0-2l0.5-9.5l0 21l0 0l0 4.5l0-33l0.5 24l0 11.5l0-17l0 4l0-16.5l0 7l0.5 5l0-2l0 11.5l0-9l0 14.5l0.5-21l0-9l0 5l0 2.5l0 17l0-6.5l0.5-10.5l0-10l0 26.5l0-21l0 8l0.5 17.5l0-9l0 13l0-33.5l0 4.5l0 20l0.5-1.5l0-13l0-6l0 1.5l0 1l0.5-5.5l0 24.5l0-17l0 3l0-2l0.5 12.5l0 9.5l0-13l0-5.5l0-2l0 24.5l0.5-30.5l0 7l0 7l0-12.5l0-5l0.5 31l0-18l0-10l0 22.5l0-18.5l0 17l0.5 3l0-12l0 18.5l0-13.5l0 9.5l0.5-12l0 9l0-28.5l0 32.5l0-5l0-25l0.5 8.5l0 4.5l0 14l0-26.5l0 14l0.5 9.5l0-9.5l0 6.5l0-14.5l0 7.5l0 1.5l0.5-12.5l0 16.5l0-1.5l0-12.5l0 7.5l0.5 11.5l0 4l0-12l0-15.5l0 28l0 1.5l0.5-12.5l0-7l0-6l0 12l0-9.5l0.5 11.5l0-1l0 2.5l0-10l0 13.5l0.5-6.5l0 8l0-2.5l0-3l0 11.5l0-34l0.5 30l0-18.5l0 11l0-13.5l0 16l0.5 5.5l0-9l0 10.5l0-33.5l0 5l0 14.5l0.5-16l0 32.5l0-25l0-1.5l0 17.5l0.5-8.5l0 13l0-23l0-6.5l0 27.5l0-21l0.5-12l0 33.5l0-16.5l0 17l0-20l0.5 1.5l0 9.5l0 13.5l0-21.5l0 17l0-8l0.5-7.5l0-5.5l0 15.5l0 0.5l0-6l0.5-12.5l0 11l0-8.5l0-3.5l0 12.5l0-16l0.5 13.5l0 6.5l0-8l0-14l0 23l0.5-7.5l0 6.5l0-5l0-5l0-7.5l0 2.5l0.5 26.5l0-17l0-4l0 1l0-2.5l0.5 2.5l0 18l0 0l0 9l0-33.5l0.5 13l0-16.5l0 23.5l0 5l0-32l0 24l0.5 10l0-14.5l0-9l0 15l0-20l0.5 5.5l0 9.5l0 1.5l0 4.5l0-24l0 19l0.5-12l0 3.5l0 14l0 7l0-13.5l0.5-7.5l0-13l0 1.5l0 24l0-4.5l0-2.5l0.5-2l0 7.5l0-24.5l0 7.5l0-3l0.5 10.5l0 13l0-13l0-6l0 19.5l0-23.5l0.5 21.5l0-1.5l0-24.5l0 30.5l0 0l0.5-24.5l0 18l0-22l0 29l0-26.5l0 13l0.5-6l0 18.5l0 5l0-21l0-3.5l0.5 16.5l0-1l0 6l0-4.5l0-5.5l0-18l0.5 10.5l0 14l0-7.5l0-2.5l0-14l0.5 18.5l0-18l0 0.5l0 26.5l0-3l0.5-22l0 6l0-10l0 19.5l0-18.5l0 3.5l0.5 23.5l0-15.5l0 10l0-6l0-11l0.5 20l0-6.5l0 11l0-15l0-1.5l0 19l0.5-35.5l0 7.5l0-14l0 17.5l0-15l0.5-5l0 26l0 7l0 7.5l0 0l0-22l0.5 2l0 22.5l0-8l0-13.5l0 21l0.5-30l0-3l0 3.5l0 24.5l0-26l0 15.5l0.5-20l0 13l0-6.5l0 12l0 3.5l0.5-6.5l0-11.5l0-6l0 13.5l0 7l0-3.5l0.5-11l0 16l0 3.5l0-14l0 20.5l0.5-9l0 12l0-7l0-31l0 26l0.5 5.5l0-23.5l0 35.5l0-30l0 23.5l0-26l0.5 24l0-17l0-10.5l0 17.5l0-28.5l0.5 46l0-19l0-15l0-1l0 26l0-23l0.5-7.5l0 15l0 7l0-8.5l0-9l0.5 16l0-12.5l0-4l0 23.5l0 2l0-9.5l0.5 11.5l0 4l0-25.5l0 4.5l0 15l0.5-23l0 18.5l0 1.5l0-18.5l0 29l0-4l0.5-4l0 3.5l0-27.5l0 13l0 1l0.5-21l0 3l0 8.5l0 20l0-5l0 11.5l0.5-16.5l0 14.5l0-14.5l0 12.5l0-32l0.5 26.5l0 3.5l0 10.5l0-12l0-28.5l0 37.5l0.5-30l0 22l0-15.5l0-10.5l0 20.5l0.5-1.5l0-17l0 13.5l0-17.5l0 26l0.5 11l0-1l0-16l0 10l0-14.5l0 21l0.5-43.5l0 35.5l0-13.5l0 8.5l0-19.5l0.5-6.5l0 33l0-30l0 35.5l0-5.5l0 5l0.5-13l0 11.5l0 2l3.5 114l0 2.5l0-3l0.5 3.5l0-9l0-0.5l0 12.5l0-5l0-1l0.5-3.5l0-1.5l0 7.5l0-4l0-3.5l0.5 3l0 1.5l0 6.5l0 1l0-4l0-4l0.5 1.5l0 5.5l0-4.5l0-11.5l0 6l0.5 10.5l0 0.5l0-0.5l0-10.5l0 10.5l0 4l0.5-32l0 33l0-21.5l0 11.5l0 1.5l0.5-2.5l0 11l0 0.5l0 0l0-11.5l0 12.5l0.5-0.5l0-1l0-5l0-2l0-22l0.5 27.5l0-4.5l0 0.5l0-18.5l0 13.5l0 10l0.5-5l0 5l0 3.5l0-4l0-3l0.5 2l0 0.5l0 3.5l0-5l0-3l0 2.5l0.5-12.5l0 17l0-4l0-9.5l0 11.5l0.5 5l0-8l0 4l0-11.5l0 8l0.5-4l0-0.5l0 2l0 0l0 2.5l0 1l0.5 5l0-10l0 9l0-5l0-0.5l0.5-8.5l0 2.5l0 2.5l0 3.5l0 0l0-0.5l0.5 1l0 4.5l0 1.5l0-6.5l0 2l0.5-5.5l0 3l0 7.5l0-8l0-37.5l0 43l0.5-6l0 1l0 2.5l0-1l0 5.5l0.5-4.5l0-2.5l0 5l0-7.5l0 1.5l0 5l0.5-2l0 2.5l0 0l0 2l0-6l0.5-0.5l0 1.5l0 3l0 2.5l0-10.5l0 6.5l0.5 5.5l0-9l0 6l0-1l0-1l0.5-4l0 6.5l0-4l0 3l0-1.5l0-6.5l0.5-51l0 55.5l0 5.5l0-4.5l0-0.5l0.5-2.5l0 5.5l0-8l0 4.5l0 3.5l0.5-2l0-2.5l0-3l0 5l0-4l0 0l0.5 0.5l0 5l0-3.5l0 4.5l0-1l0.5 0l0-20.5l0 20l0-5l0 9l0-14l0.5 12l0-5.5l0-4l0 8.5l0 1.5l0.5-9.5l0 7l0 2.5l0-0.5l0-6.5l0 7.5l0.5-7l0 5l0-3l0 1.5l0 0l0.5-5l0 0l0 6l0 0l0-2l0-2l0.5 4.5l0 0.5l0-6.5l0 2l0 1l0.5 4.5l0-4.5l0-1l0-4l0 5l0 4l0.5-0.5l0-3.5l0-6l0 7.5l0-1.5l0.5 3l0-1l0 4l0-0.5l0-5.5l0.5-2.5l0 4.5l0-0.5l0-3l0 1.5l0 5l0.5-8l0 0l0 6l0-1l0-6.5l0.5 2.5l0 1l0 1l0-1.5l0 1.5l0 3l0.5-3l0 6.5l0-39.5l0 37.5l0-2.5l0.5-1.5l0 2.5l0-0.5l0 0.5l0-15.5l0 15.5l0.5-0.5l0-4l0 3l0 1.5l0 2.5l0.5-5.5l0-3l0 4.5l0-6l0 2l0 2.5l0.5 0.5l0 1l0-32.5l0 28l0 0.5l0.5 5l0 0.5l0 2.5l0-6l0-16l0 16.5l0.5 1l0-4l0 5.5l0-3l0-4l0.5 8l0-10l0 2.5l0 6.5l0-4.5l0 5l0.5-3l0-2.5l0 0l0 6.5l0-2.5l0.5-4.5l0 1l0 7l0-5.5l0 3.5l0.5 0.5l0-7l0-1l0 2.5l0-12l0 15.5l0.5-1.5l0-1l0-0.5l0 0l0-1.5l0.5 6l0-5.5l0-11l0 19l0-2l0-4l0.5-2.5l0 6l0-3l0 0.5l0 0l0.5 0l0-2l0-31.5l0 33l0-1l0-2.5l0.5-1.5l0 1.5l0-28l0 27l0 4l0.5-11l0 14l0-2.5l0-3l0 5l0-7l0.5 7.5l0-93.5l0 93l0-4.5l0 3.5l0.5-3l0 2.5l0 3.5l0-8.5l0 7.5l0-8.5l0.5 2l0 1.5l0 4l0-1l0-4.5l0.5 4.5l0 1l0 0.5l0-28.5l0 4.5l0 15.5l0.5 4l0-3l0-6l0 11.5l0-5.5l0.5 3l0 7l0-4.5l0-6l0 1l0.5 8l0 0l0-3.5l0 0l0-1l0 2l0.5 0.5l0-4.5l0 7.5l0-1.5l0-6.5l0.5 4.5l0-6.5l0 6.5l0-14.5l0 17.5l0-1.5l0.5-2.5l0 0l0-28.5l0 33.5l0-1.5l0.5-5.5l0 5.5l0-12.5l0 8.5l0-2.5l0 6.5l0.5-2.5l0 0.5l0 0l0-3l0 2l0.5-1l0 2.5l0-1.5l0-5l0 1.5l0 1.5l0.5 2.5l0 2.5l0-3l0-3.5l0-1.5l0.5 1.5l0 7l0-5l0-1.5l0 7.5l0-11l0.5 10l0-6.5l0 0.5l0 1l0 2.5l0.5 2l0-1.5l0-4l0 1l0 3l0.5-20l0 17.5l0-0.5l0 4l0-6l0 6.5l0.5-4l0-3l0 4.5l0-4.5l0 9l0.5-4l0-3.5l0 1.5l0-1.5l0 5l0-1l0.5-4l0 2.5l0-13.5l0 7l0 7.5l0.5-1.5l0-1.5l0-16.5l0 14l0 4.5l0-1l0.5-4l0 6l0-18.5l0 22.5l0-8l0.5 2l0 1.5l0-2l0-19l0 16.5l0 3l0.5-43l0 38l0-3.5l0 6l0 0.5l0.5 5.5l0-1.5l0 2l0-5l0-1.5l0-0.5l0.5 4l0-4l0 0l0 0.5l0 7.5l0.5-7.5l0 4.5l0 2.5l0 0l0-4.5l0 1.5l0.5-4l0 10l0-5l0-25l0 20.5l0.5 3.5l0 3.5l0-2.5l0-3.5l0 6.5l0.5-7l0-2l0 9.5l0-10.5l0-2l0 11.5l0.5-5l0-3l0-25l0 27.5l0 1l0.5 4l0 0.5l0-7l0-1l0 4l0-6l0.5 5.5l0-0.5l0-2.5l0-0.5l0 6l0.5-5l0-1l0 7l0-7.5l0 4.5l0 1l0.5-4.5l0 2.5l0 2.5l0-26l0 23.5l0.5 5.5l0-52.5l0 45.5l0 2l0 0l0-0.5l0.5-1.5l0 6l0-8.5l0 6l0-14l0.5 5l0 6.5l0 2.5l0-7l0 2l0 0l0.5 7l0-8.5l0-2.5l0 7.5l0 2l0.5 2l0-4.5l0 1l0 0l0 0l0-2l0.5 2l0 6l0-7l0-5.5l0 5.5l0.5 7l0-7.5l0-3l0-0.5l0 1l0.5 4.5l0-3l0-3l0-19l0 23l0 3.5l0.5-0.5l0-4.5l0-2l0 9l0 0l0.5-13l0 7.5l0-2.5l0 7.5l0-11.5l0 0l0.5 10l0-6.5l0 3l0-46l0 44l0.5 1.5l0-11l0 8l0 7.5l0-3l0 1.5l0.5-23l0 24.5l0-4l0-7l0-31l0.5 38l0-6l0 6.5l0 0.5l0 5.5l0-4l0.5-2.5l0-5l0 5.5l0-9.5l0 15l0.5-6.5l0-3.5l0 2.5l0 7l0-9l0 1l0.5 4.5l0 2l0-1.5l0-2.5l0-49.5l0.5 45.5l0-14l0 15.5l0-1.5l0 0l0.5 0l0 7.5l0-9l0 2.5l0 0l0-4l0.5 10l0-1l0-1l0 2.5l0 1.5l0.5-9l0 11l0-8.5l0-2.5l0 3l0-4l0.5 7l0-8l0 5l0-1.5l0 0l0.5 5l0-6l0 0.5l0-5.5l0 10l0 1.5l0.5-2.5l0 0l0-9.5l0 5l0 3l0.5-5l0 2l0 5.5l0-2l0-4.5l0 7l0.5-1.5l0 6.5l0-14l0 9l0 2l0.5-5.5l0-19.5l0-10l0 29l0-6.5l0 4l0.5 4.5l0 1.5l0-3.5l0-5l0 3l0.5-14.5l0 19.5l0-7l0 10l0-0.5l0-3l0.5 1l0 3l0-1l0-0.5l0-4.5l0.5 5.5l0-6l0 3l0-6.5l0 5.5l0.5-1.5l0 1.5l0-4l0 4.5l0 5.5l0 0.5l0.5-20.5l0 11.5l0 3l0-4.5l0 3.5l0.5-4.5l0 2.5l0 3.5l0-1l0 4.5l0-11l0.5 9l0-3l0-26l0 33.5l0-8l0.5 5l0-10.5l0 4l0-2l0 9l0-6l0.5 3l0-10l0 8l0-0.5l0-1l0.5 0.5l0-3.5l0-12l0 9.5l0 2l0 7l0.5-1.5l0-2.5l0 4.5l0 4.5l0-3l0.5-4l0 1.5l0-6.5l0-2l0 5.5l0-3l0.5 9.5l0-7l0 1l0 6l0 0.5l0.5-2l0-9l0-11l0 12l0 8l0.5-2l0 3.5l0-3l0-3.5l0 5.5l0-5.5l0.5-4l0 1l0 7.5l0-5l0 3.5l0.5-3.5l0 0l0 5l0-7.5l0 3l0-3.5l0.5 3.5l0 4l0 4l0-10l0 4.5l0.5 0l0-20.5l0 17l0 7l0-4.5l0 4.5l0.5-1.5l0 0l0-9.5l0 12l0-1l0.5-9.5l0 5l0 5l0-8.5l0 9.5l0-10l0.5 10.5l0-6l0 3l0-6l0 0l0.5-26l0 36l0-10l0 2.5l0 7.5l0-6.5l0.5-3l0 1l0-0.5l0 1l0 1.5l0.5 4l0 0.5l0-3l0-6l0-2l0 0l0.5 6l0 2.5l0 4.5l0-12.5l0 0.5l0.5 9.5l0-8.5l0 7l0-7.5l0-3.5l0.5 3.5l0 9l0-4l0-14l0 11.5l0-5l0.5 10.5l0 2.5l0-3l0-3l0 1l0.5-7l0 2l0-7l0 15l0-10l0-18l0.5 18l0 6l0 1.5l0-11.5l0 4l0.5 2.5l0 3l0-2.5l0-16l0 14.5l0 6l0.5-5.5l0 10l0-7l0-16l0 21.5l0.5-2l0 0.5l0-2l0 0l0 0l0-5.5l0.5 3l0 5.5l0-2l0-5l0 1l0.5-3.5l0 6.5l0-5.5l0 5.5l0-1l0-1.5l0.5 2l0-5.5l0 2l0-3.5l0 4l0.5 1l0 5l0 1.5l0-17l0 14.5l0-5.5l0.5 1.5l0-6l0-3l0 7.5l0 5.5l0.5-1l0-3.5l0 2.5l0 3.5l0-4.5l0.5-54l0 54.5l0 4l0-8.5l0-7.5l0 7l0.5 3.5l0-5l0 4l0 3.5l0-9.5l0.5 8l0-1l0-0.5l0 3.5l0-7l0 2l0.5 4.5l0 1l0-8.5l0 7l0-4l0.5-3l0 5.5l0 3.5l0-32.5l0-42.5l0 71l0.5 4l0-4.5l0 4l0-11l0 1.5l0.5 4l0 0l0-24l0 18l0 13l0 0l0.5-2.5l0-6l0 6.5l0-1l0 2.5l0.5-2l0-9l0 3.5l0 6.5l0-4l0 1.5l0.5 1l0-6l0 8.5l0-7l0-2.5l0.5 2.5l0 7.5l0-5.5l0-1.5l0 3.5l0.5 2.5l0-1.5l0-1l0-4.5l0 0.5l0 2.5l0.5 0l0-2l0 1l0 5.5l0-10l0.5 3.5l0-0.5l0 1l0 3.5l0-8.5l0 6.5l0.5-6l0 6.5l0-92l0 93l0 2l0.5-5.5l0 4.5l0-1.5l0-6l0 7l0-8l0.5-7l0 17l0-5.5l0 4.5l0-3l0.5-3.5l0 4l0 3l0-0.5l0 2.5l0-10.5l0.5 5.5l0 0l0-10.5l0 5.5l0 8l0.5-1.5l0-33.5l0 20.5l0 6.5l0 12.5l0-10.5l0.5 3.5l0-16.5l0 15.5l0 1l0 2l0.5-2l0-6.5l0 3l0 6.5l0-5l0 0l0.5 5.5l0 0l0-5l0-3l0-2.5l0.5 11l0-25.5l0 13l0 3.5l0 1.5l0.5 2l0-2.5l0 7l0-1.5l0-1.5l0-2l0.5 2.5l0 2l0 1l0-1.5l0-3l0.5 0l0 4.5l0-8l0-1.5l0-12l0 10.5l0.5 2l0 10.5l0-10l0 1l0-4l0.5 8l0 0l0 1.5l0 1.5l0 1.5l0-1.5l0.5-4l0-2l0 1l0 1.5l0-4l0.5-5l0 11l0 0.5l0-4l0 0.5l0 2l0.5-0.5l0-6.5l0 9.5l0-6l0 5l0.5-0.5l0 2.5l0-1.5l0-6.5l0 2l0 2l0.5-1.5l0 4l0-4.5l0 3.5l0-25.5l0.5 19l0 6.5l0-6l0 1.5l0-15.5l0 16l0.5 5l0-8l0 4.5l0 0l0-5.5l0.5 2.5l0-0.5l0-1.5l0 6l0 1.5l0.5-7.5l0 3.5l0-1l0 6.5l0-7l0-6l0.5 4.5l0 4.5l0-7l0 2.5l0 1l0.5 4.5l0-7.5l0 0l0 4.5l0-2l0 1.5l0.5 6l0-2l0 3.5l0-4l0 4.5l0.5-8l0 6.5l0-3.5l0-4l0 6l0-1.5l0.5 1l0 2.5l0-3.5l0 0.5l0-7.5l0.5 0.5l0 7l0 1.5l0-3l0-2l0-1.5l0.5 9l0-5l0-9.5l0-3.5l0 16.5l0.5-7l0-1.5l0-1.5l0 2l0 6.5l0-17l0.5 19.5l0-49l0 39.5l0 1.5l0 1l0.5-14.5l0 17.5l0 1.5l0-7l0 10.5l0.5-4l0-10.5l0 7l0 0l0-3.5l0 9l0.5 1.5l0 0.5l0-0.5l0-5.5l0 4.5l0.5-2l0-9l0 10l0-48.5l0 49l0-11.5l0.5 0l0 0.5l0 2.5l0 5.5l0-9.5l0.5 10.5l0-7.5l0 8.5l0-4.5l0-1l0-36l0.5 40l0-7l0 0.5l0 5l0 1.5l0.5-6.5l0 3l0 4l0-4l0 6l0-2l0.5-3.5l0 2.5l0 5.5l0-9.5l0 2l0.5-4l0 6.5l0 1l0-4l0 4.5l0-8.5l0.5 8.5l0-55l0 51.5l0 0l0-3.5l0.5 4l0-4.5l0-2l0 10l0-8.5l0 11l0.5-12l0 8l0-1l0-2.5l0-3l0.5 2.5l0-1.5l0 9.5l0-1.5l0-5.5l0.5 2.5l0-1l0-1l0-12.5l0 11.5l0 4l0.5-3l0-5.5l0 4l0-28.5l0 32.5l0.5-1.5l0-9.5l0 1l0 8.5l0-4l0 3.5l0.5-4l0 2l0 5.5l0-10.5l0 8l0.5-1l0 1.5l0-5l0 1.5l0 6l0-3.5l0.5-3.5l0 3l0 1l0-7.5l0 1.5l0.5 4l0 2.5l0 0l0-7l0 6l0 3l0.5-2l0-3l0 5l0-7.5l0 2.5l0.5 0l0-3.5l0 4.5l0 2.5l0-2.5l0-4.5l0.5 9.5l0-16.5l0 15l0-4l0-8.5l0.5 14.5l0-13.5l0-16l0 23.5l0-5l0.5 2l0-4l0 8.5l0-19.5l0 16.5l0 1l0.5-0.5l0 5l0-5l0-3.5l0-2l0.5 11l0-13l0 6l0-15l0-32.5l0 56l0.5-1l0-4.5l0 2.5l0-1.5l0 1.5l0.5 0.5l0-9l0 4l0 2l0-1.5l0-2.5l0.5-2.5l0 4.5l0 3.5l0-6.5l0 7.5l0.5-7l0-1l0-0.5l0 2l0-1l0 5l0.5-1l0-3l0 0.5l0 5l0 1l0.5-6.5l0 2l0 0.5l0 8l0-9l0-1l0.5-2.5l0 5l0 2.5l0 0.5l0-15l0.5 9l0 2.5l0 1.5l0-4.5l0 5.5l0-0.5l0.5-4l0 7l0-6.5l0 0.5l0 0.5l0.5 6l0-2l0 2l0-5.5l0 4l0.5-2.5l0-3l0 5l0-27.5l0 27l0-2.5l0.5-22l0 17.5l0 6l0 1l0-5.5l0.5-1.5l0-2l0 6.5l0-1.5l0-2l0 2.5l0.5 3l0-7l0-0.5l0 2.5l0 5.5l0.5-4l0-2l0-2.5l0 6l0 0l0-19.5l0.5 20.5l0-1.5l0-2.5l0 1l0 4l0.5-2.5l0 3.5l0-3.5l0 4.5l0-8.5l0 7.5l0.5-3.5l0-1.5l0 0l0 1.5l0-1.5l0.5-1.5l0-5.5l0 7.5l0-3.5l0 4.5l0 3.5l0.5-9l0 2.5l0 6.5l0-6l0 7.5l0.5 0l0-3.5l0 2l0 2l0-8l0 0l0.5 6.5l0-2.5l0-2.5l0 2.5l0-6l0.5-0.5l0-1l0 7.5l0-12.5l0 13l0.5-46l0 49.5l0-12l0 0.5l0 4.5l0-0.5l0.5 1l0-2.5l0 7l0-5.5l0 2l0.5-5.5l0 10l0-9.5l0 6.5l0 1.5l0-8l0.5 9.5l0-4.5l0 1.5l0-1l0 7l0.5-2l0-1l0-8.5l0 6l0 1l0-1.5l0.5 0l0 5l0-5l0-5.5l0 7l0.5 0l0-4.5l0-8.5l0 12l0 1l0-0.5l0.5-5.5l0 4l0 0l0 4.5l0-4l0.5-2l0 4l0-7l0 2l0-4l0 3.5l0.5-2l0 3l0-0.5l0 3.5l0-12l0.5 12.5l0-3.5l0 1.5l0 4l0-2.5l0.5 0l0-9l0 5l0-2l0 2.5l0-1l0.5-1.5l0 9l0-2.5l0-6.5l0-3l0.5 0.5l0 0.5l0 3.5l0 0.5l0-2l0 6l0.5-4l0-4l0 0l0 4.5l0-1.5l0.5 1.5l0 0.5l0-1l0 8l0-5.5l0 5.5l0.5-7.5l0 6l0-9.5l0 1.5l0 2l0.5-3l0-5.5l0 13.5l0-4l0 0.5l0-1l0.5-3.5l0 1l0 10.5l0-5.5l0-13.5l0.5 12.5l0-1l0 6l0-7.5l0-2l0 2l0.5 1l0 3.5l0-3.5l0-0.5l0 3.5l0.5 4l0-16.5l0 4.5l0-10.5l0 10.5l0 5l0.5 0l0 4l0 2.5l0-25l0 12l0.5 6l0 5l0-9.5l0 10l0-5l0.5-36l0 38.5l0 0.5l0-6l0 2.5l0-3.5l0.5 10.5l0-9l0-0.5l0 6.5l0-8l0.5 0l0 5l0-2.5l0 5l0-2l0-4.5l0.5 1l0 0.5l0 4l0-6l0 8.5l0.5-6.5l0-35.5l0 18.5l0 19l0-5.5l0 5.5l0.5-1.5l0 2.5l0 4.5l0-7.5l0-2.5l0.5 3l0-3.5l0 7.5l0-7l0 9.5l0 0.5l0.5-8l0 5l0-8l0 6.5l0-3l0.5 3l0-1l0-0.5l0 1l0-3l0-2l0.5 7.5l0-14.5l0 18l0-17.5l0 14.5l0.5-7.5l0 3.5l0-7l0 7.5l0 2l0-2l0.5-4.5l0 1.5l0-0.5l0-1l0-13.5l0.5 19.5l0-1l0 5l0-9l0 2l0.5-15l0 15.5l0 3.5l0-14l0 13.5l0-3.5l0.5 3l0 1.5l0-9l0 1l0 8.5l0.5-1l0-3.5l0-1.5l0 6.5l0-3l0 1.5l0.5-11.5l0 10.5l0 1l0 2.5l0-7l0.5 0l0-2.5l0 11l0-6.5l0-1l0 9l0.5-9l0-0.5l0-2.5l0 9l0-26.5l0.5 21l0-2l0 2l0-1l0-2l0 5l0.5-7.5l0 12l0-5l0 2.5l0-4.5l0.5 0.5l0 7l0-6l0-36.5l0 38l0-2.5l0.5-26.5l0-12.5l0 45l0-6.5l0 2l0.5 3l0-13l0 5.5l0 1l0 6l0.5-7.5l0 0.5l0 3l0-0.5l0 5l0-1l0.5 1.5l0-4.5l0-0.5l0-3l0 3l0.5-4l0 6l0-1.5l0-3l0 0.5l0 6l0.5-6.5l0 6.5l0-1.5l0-2l0 1l0.5 0l0-1l0-3.5l0-8l0 12.5l0-5.5l0.5 8l0-5l0 8l0-12.5l0 7l0.5 0l0-3.5l0 1.5l0-1.5l0-9.5l0 10.5l0.5-63.5l0 63.5l0-2l0 10l0-3.5l0.5-6.5l0-5.5l0 13.5l0-8l0 0l0 5.5l0.5-1l0-3.5l0 1.5l0 5l0-2.5l0.5-6.5l0 6.5l0-2.5l0 3l0-4l0 2.5l0.5-2l0-4l0 12l0-14l0 0l0.5 11.5l0-3l0 0l0 0l0 0l0.5 1.5l0-2l0-2.5l0-0.5l0 3.5l0-8l0.5 3.5l0-38.5l0 39.5l0 6l0-26l0.5 17.5l0 2l0-20l0 22.5l0 1l0-14l0.5 18.5l0-7l0-1l0-0.5l0 6.5l0.5-13.5l0 14l0-3l0-6.5l0 5l0-4l0.5 3l0 4l0 8l0-9l0 2l0.5-16.5l0 16l0 2l0-3.5l0-1l0-5.5l0.5-12.5l0 17l0-1l0 0.5l0 5l0.5-3l0-5.5l0 2.5l0 1.5l0 6l0-6.5l0.5 1.5l0-3.5l0 0.5l0 7.5l0-12.5l0.5 6.5l0 2l0 2l0-3.5l0 9l0-22l0.5 12.5l0-2l0 1.5l0-2.5l0 4l0.5-0.5l0 0.5l0 5l0-8l0 2.5l0.5-2l0-1.5l0-2l0 7.5l0-4.5l0-1l0.5 1l0 0.5l0-1l0-2l0 7l0.5 0.5l0 1l0 0l0-8l0 10l0-4.5l0.5-4.5l0 5.5l0 4.5l0-8l0-5.5l0.5 3l0-0.5l0-0.5l0 3.5l0 1.5l0 2l0.5-5l0 1.5l0-1.5l0-2.5l0 11.5l0.5-8.5l0 1l0 0l0 2.5l0-1.5l0 2l0.5-4.5l0 3l0-8.5l0 9l0 3l0.5-4.5l0 3l0 2.5l0-7.5l0 5l0-15.5l0.5 17l0-2l0-3.5l0-7l0 14l0.5-8l0 2.5l0 4l0-22.5l0 18l0.5-17.5l0 23.5l0-4l0-4l0 2l0-1.5l0.5 2.5l0 3l0-4l0 0.5l0-4.5l0.5 1l0 3l0 0.5l0 0.5l0 3l0-2.5l0.5-1.5l0-2.5l0-3l0 9.5l0 1l0.5-5l0 3l0 0l0-5l0 7.5l0-8.5l0.5 1l0 5l0-2l0 0.5l0-5.5l0.5 7l0 1.5l0-4l0-2.5l0 4l0 1l0.5-5l0 3.5l0-8.5l0 7l0 7l0.5-5.5l0 0.5l0 2.5l0-16.5l0 13.5l0-3.5l0.5 5.5l0 2.5l0-1l0-2.5l0-3l0.5 8l0-9l0 1.5l0-11.5l0 15l0 3.5l0.5 0.5l0-6.5l0-3l0-3l0 4.5l0.5-6l0 5l0 0.5l0-3l0 3l0.5 8.5l0-8.5l0 2.5l0-5.5l0 0.5l0 10.5l0.5-12.5l0 3l0 4l0-5.5l0-3l0.5 15l0-11l0 1l0-1l0 0.5l0 1.5l0.5 4l0-4l0-1l0 3.5l0-5.5l0.5 2.5l0 2.5l0-6l0 7.5l0-2.5l0-0.5l0.5 3.5l0 2l0-11l0-83l0 93.5l0.5-39l0 31.5l0 7.5l0-2.5l0-3.5l0-2.5l0.5 4.5l0-4.5l0 6.5l0-1.5l0 1l0.5 0l0-0.5l0-2.5l0 0l0 0l0-7.5l0.5 10l0-8l0 12l0-5.5l0 3l0.5 3l0-49.5l0 43.5l0-4.5l0-42.5l0.5 40.5l0 6l0 1l0 1.5l0-4l0 4l0.5 3.5l0-8.5l0 5l0-0.5l0-42l0.5 40.5l0-1l0-0.5l0-3l0 1.5l0 2l0.5-6.5l0 11.5l0-3.5l0-26l0 25.5l0.5-1.5l0 3l0-21.5l0 15.5l0 3.5l0 2.5l0.5 1l0-6l0 2l0-6l0 7.5l0.5 4.5l0-2l0-5.5l0-1.5l0-0.5l0 7l0.5-2.5l0-1l0 5.5l0-4l0 0l0.5 1.5l0-1l0 5.5l0-10.5l0 0l0 4l0.5-6l0-16l0 22l0 1.5l0 3l0.5-7.5l0 4.5l0 0.5l0-1l0-1l0 2.5l0.5-5l0 2.5l0-3.5l0 5.5l0-0.5l0.5-4.5l0 6.5l0 4l0-3l0-3l0.5-1l0 0.5l0-0.5l0-26.5l0 29l0 2l0.5-4.5l0 7l0-4l0-10l0 0.5l0.5 8l0-1.5l0 4.5l0-4.5l0-3.5l0 4l0.5 0.5l0-2l0-4.5l0 11.5l0 0.5l0.5-7l0-1l0 1l0-0.5l0 1.5l0-37.5l0.5 32l0-2.5l0 6.5l0 2.5l0 1l0.5 0.5l0 2.5l0-6l0-12l0 18l0-7.5l0.5 1.5l0 0l0-4l0 7l0 2l0.5 0.5l0-8l0-1l0 1l0 5l0 4.5l0.5-3l0-5.5l0 7l0-31.5l0 24l0.5 6l0-6l0-3.5l0 7.5l0-2.5l0 2l0.5-13l0 8.5l0 9.5l0-6.5l0 1l0.5 1l0-6.5l0 8l0-2.5l0-0.5l0.5 5.5l0-5.5l0 2l0-5l0 8l0-25l0.5 21l0-3l0 4l0-8.5l0 7l0.5-5.5l0 6.5l0-1.5l0 5.5l0-15l0 13l0.5-1l0-4l0-3.5l0 11l0-7l0.5 7l0-6.5l0 2.5l0-5l0 2l0-3l0.5 2l0 1l0 0l0-7.5l0 6.5l0.5-3.5l0 0.5l0 3l0 5.5l0-7l0 3.5l0.5-4.5l0 1l0 4.5l0-3l0 4.5l0.5 3.5l0-9l0 3l0 0.5l0 2.5l0-1l0.5-6l0 4.5l0 0.5l0 1l0-5.5l0.5 0.5l0 4.5l0-7l0 1.5l0-0.5l0.5 9l0 1l0-6l0 1.5l0-23l0 21l0.5 6l0-38l0 28.5l0-5l0 10.5l0.5 0.5l0-6l0 7.5l0-2.5l0-5.5l0-2.5l0.5 10l0-3.5l0 3l0-4l0-1.5l0.5 7l0 2.5l0-2.5l0 1l0-6.5l0-1l0.5 0l0-15.5l0 21l0-10l0 8l0.5 1l0-4.5l0-0.5l0 1.5l0 0l0-12l0.5 18l0-21l0 16.5l0 3l0 0.5l0.5-1l0-2l0 2l0 1l0-1.5l0-2l0.5-1.5l0-11l0 13l0-1.5l0-3l0.5 0.5l0 6.5l0-2l0-4l0-3l0 2.5l0.5 5.5l0-3l0 0.5l0 3l0-5l0.5 7l0-8l0 0l0 4.5l0-24.5l0.5 23.5l0 2l0-5l0 7l0-7l0 7.5l0.5-11l0 8l0-3.5l0 3l0 1.5l0.5-1.5l0-15l0 16.5l0-15l0 14l0 0.5l0.5 3l0-6l0 0.5l0 0.5l0 1.5l0.5-1.5l0-7l0 0.5l0 6.5l0 1l0 5l0.5-8l0 5.5l0 0l0 0l0-1l0.5 3l0-9.5l0 6.5l0 4.5l0-1l0-2l0.5-3.5l0-3l0 2l0 7.5l0-7l0.5-2l0-0.5l0 3l0 1.5l0-8.5l0 11.5l0.5-2.5l0-7l0 8l0-10l0 1.5l0.5 8.5l0 1.5l0-6l0-4l0 11l0 2.5l0.5-4.5l0 5.5l0-9.5l0 0l0 4.5l0.5-4.5l0-4.5l0 8.5l0 1l0-4.5l0.5 1l0-3l0 6l0-15l0 9l0 2.5l0.5-6l0 5l0 1.5l0-1.5l0 5.5l0.5 0l0-5.5l0 9l0-10.5l0-1.5l0 4l0.5-5.5l0 3l0 5l0-10.5l0 5.5l0.5-1l0 3.5l0 1.5l0-0.5l0 0l0-3.5l0.5 1l0-1.5l0 5.5l0-4.5l0 7.5l0.5-10l0 10.5l0-2.5l0 0.5l0-8.5l0 7.5l0.5-2l0-0.5l0 1l0 2.5l0-5l0.5 0.5l0-9.5l0 11l0 1.5l0-0.5l0 3.5l0.5-0.5l0-6.5l0-4.5l0 3.5l0-1l0.5-4l0 5l0-2.5l0 3.5l0-5.5l0.5 4.5l0 2.5l0-6l0 4.5l0 7l0-10.5l0.5 0.5l0 3.5l0 0l0-1.5l0-1.5l0.5 4l0-6l0 9.5l0 0.5l0-3l0 2.5l0.5-7.5l0 2l0-2l0 7l0 0l0.5-1.5l0-5l0-0.5l0 6.5l0-4l0-4.5l0.5 8l0-3l0 5l0 2.5l0-3.5l0.5-0.5l0-3.5l0-3l0 1.5l0 4.5l0-27l0.5 23.5l0-0.5l0 5l0-4.5l0 1l0.5 2.5l0-10l0-12.5l0 22.5l0-3.5l0 0l0.5 4l0 0l0-1l0 2l0-3.5l0.5-2.5l0-2.5l0 3.5l0-3l0 1.5l0 1l0.5 1l0-1.5l0 2l0-12.5l0 8.5l0.5 6.5l0-4.5l0 5l0 0l0-10.5l0.5 7.5l0 5.5l0-0.5l0-2.5l0-6.5l0-1l0.5 5.5l0 1.5l0-6.5l0-3l0-7.5l0.5 20.5l0-0.5l0-7.5l0 4.5l0 1l0-11.5l0.5 8l0-1l0-21l0 29l0-4l0.5-18l0 19.5l0-2l0-1l0-11l0 14.5l0.5-1.5l0-4l0-8l0 9.5l0-0.5l0.5-5l0 0.5l0 3.5l0-1l0 5l0-1l0.5-1l0 9.5l0-11l0-2.5l0 2l0.5 2l0-9.5l0 3.5l0 6l0 7l0-9.5l0.5 2.5l0-5l0 4l0 1.5l0-1.5l0.5-20.5l0 15.5l0 6l0 0l0-6.5l0 7.5l0.5-8l0 6l0-3.5l0 2.5l0 3.5l0.5-1l0-1.5l0-3l0 3l0 5l0.5 0.5l0-4.5l0 5l0-2.5l0 0.5l0-4l0.5 7l0-3.5l0 1.5l0-15.5l0 2.5l0.5 1l0 7l0-1.5l0 5.5l0 0l0-31.5l0.5 34.5l0-6l0 3.5l0-8l0 4.5l0.5 5.5l0 1l0-2.5l0-10l0 6l0 7.5l0.5-9.5l0 7l0-6.5l0-4.5l0 10.5l0.5 0.5l0-5l0-16.5l0 19.5l0-3.5l0 0l0.5 7l0-0.5l0-10.5l0 0l0 8.5l0.5-10l0 10l0 4l0-13l0 3.5l0 2l0.5-42l0 38.5l0 5.5l0-4l0-3.5l0.5 6.5l0-1l0-6l0 3.5l0-15l0.5 11.5l0 3l0 3l0 4l0-5l0 5.5l0.5-12.5l0 6.5l0-2.5l0 1.5l0-1.5l0.5-14.5l0 16l0-3.5l0 0.5l0 8l0-7l0.5-2l0 10.5l0-11l0 12.5l0-2.5l0.5-15l0 17.5l0-5l0 1.5l0-2l0 3.5l0.5-4.5l0-16.5l0 17l0-1l0 7.5l0.5-8l0 4l0 1l0-5l0 1.5l0-1l0.5 6l0-5l0-24l0 28l0-0.5l0.5-1l0-2.5l0 3.5l0-2l0-4.5l0 1l0.5-87.5l0 89.5l0-3l0 6l0-19.5l0.5 17.5l0-1l0 1l0 0.5l0-6l0 9.5l0.5-7.5l0 10l0-8.5l0 1.5l0-12.5l0.5 16.5l0-3.5l0 2.5l0-3l0 2l0.5-0.5l0-3.5l0 1l0 4.5l0-7l0 9l0.5-4l0 2.5l0-8l0 5l0-0.5l0.5 0l0 2l0-1.5l0-4.5l0 2l0 3l0.5-5.5l0 11l0-8.5l0-0.5l0 10.5l0.5-9.5l0 8.5l0-3.5l0-6l0 2l0-26l0.5 23.5l0-2.5l0 4.5l0-44.5l0 52.5l0.5-9.5l0-2l0 6.5l0-4.5l0-2.5l0 4l0.5-20l0 16.5l0 3l0-6l0 11l0.5-8.5l0 6l0 1.5l0-1.5l0 2l0-6.5l0.5 10l0-1.5l0-16l0 12.5l0-19.5l0.5 20l0 3.5l0-2l0-7.5l0-1.5l0.5 2l0 11l0-12.5l0-4.5l0 17.5l0-11.5l0.5-0.5l0 3.5l0 0l0-9l0 16.5l0.5-9l0-4l0 9l0-9.5l0 0l0 7l0.5-7.5l0-11.5l0 19l0-1l0-17l0.5 14l0-13l0 14l0 2l0-2l0 4l0.5-2l0 3l0 0l0-1.5l0-1l0.5-15.5l0 19l0-7l0 2.5l0-5.5l0 6l0.5-1.5l0 4l0-9.5l0 8l0-1l0.5 1.5l0 0.5l0-1l0 2l0-3.5l0 1.5l0.5 7l0-3.5l0-1.5l0-8.5l0 3.5l0.5 4l0-1l0-2l0 7l0-12l0 7l0.5 5.5l0-5.5l0-2l0-4l0 7.5l0.5-9.5l0 2l0 8l0-9l0 10.5l0.5-2l0-1l0-2.5l0 6.5l0-12.5l0 13.5l0.5-1.5l0-3l0-3.5l0 1.5l0-1.5l0.5-6.5l0 13.5l0-8.5l0 0.5l0 4.5l0 2.5l0.5-3l0-8l0 7l0 4l0-5l0.5-1.5l0 2l0 4.5l0-1.5l0-5.5l0-2l0.5 5.5l0 2l0-5.5l0 1.5l0 3.5l0.5-6l0 4.5l0 0.5l0-5l0-21l0 21l0.5 3l0-2l0 2.5l0-0.5l0-3l0.5 8l0-8l0 4l0 0l0 0l0 1.5l0.5-5l0 2.5l0 1.5l0 5.5l0-5l0.5-1.5l0-5l0 4.5l0 9l0-25.5l0 10.5l0.5 6.5l0 8l0-6l0 2l0-6.5l0.5 9l0-7l0 4.5l0-7.5l0 9l0.5 1l0-6l0-1.5l0 0l0-4.5l0-38l0.5 50l0-9.5l0 3l0 5l0-0.5l0.5-9l0 4.5l0-1l0 5.5l0-3l0-6l0.5 1l0 5l0-1.5l0 1l0-5l0.5 0.5l0 1l0 4l0-19.5l0 19l0-2.5l0.5 0.5l0 6l0-25l0 26.5l0-7.5l0.5 4.5l0-6l0 7l0-7l0 5l0 0l0.5 2.5l0-6l0 1l0 1l0 5.5l0.5-5l0-6l0-2l0 7l0-6l0 10l0.5-1.5l0-2.5l0-30.5l0 32l0-3.5l0.5 11.5l0-11l0 2l0 0.5l0-6l0.5 2l0 1l0-3.5l0-1.5l0 7l0 1.5l0.5 3.5l0-8l0 7l0-4.5l0 7l0.5-5.5l0-43l0 45l0-3l0 7l0-10l0.5 5.5l0 5l0-15l0 13.5l0 1.5l0.5-12.5l0 8.5l0-7l0 6l0-4l0 0l0.5-5.5l0 8l0-11.5l0 4l0 2.5l0.5-25l0 8l0 22l0-18.5l0 22l0-5l0.5-6l0 3.5l0 6l0-4.5l0 0.5l0.5-5.5l0 10.5l0-5.5l0 4l0 3.5l0-10.5l0.5 12l0-9.5l0 7l0-3.5l0-28l0.5 26l0 5.5l0-8l0-3.5l0 5.5l0-1l0.5 5l0-3l0-1.5l0-1l0 1l0.5 5l0-7l0 6.5l0-1l0-5l0.5 1.5l0-7l0 13.5l0-4l0 0.5l0-6l0.5 10l0-7.5l0 11l0-10l0-2.5l0.5 2.5l0-1l0-4.5l0 5l0 3l0-2l0.5-8.5l0 17l0-7.5l0-3l0 0.5l0.5-1l0 2l0-4l0 6l0-5l0-1l0.5 15l0-7.5l0 0l0 0.5l0-0.5l0.5 5l0-11l0-1l0 4l0-2.5l0 4.5l0.5-2.5l0-3.5l0 1l0 5l0-3l0.5-2.5l0 2l0 2.5l0-33l0 38.5l0-15l0.5 5l0-6.5l0 17l0-1.5l0-4l0.5-4.5l0 8l0-4.5l0-3l0 2l0-1l0.5 2.5l0-0.5l0-8.5l0-6.5l0 7.5l0.5 13l0-22.5l0 20l0-9.5l0 1.5l0.5 1.5l0 2l0 1.5l0-6l0 8l0-6.5l0.5 7.5l0-8l0 11l0-7l0-5l0.5 14.5l0-20.5l0 17.5l0-2.5l0 0.5l0-1.5l0.5-1.5l0 1.5l0-0.5l0 6l0-7l0.5-3.5l0 1.5l0-50l0 56l0-7.5l0 6l0.5 1l0-1l0-3.5l0 4l0 2.5l0.5-8l0 4.5l0-4l0 3l0-4l0-3.5l0.5 10.5l0-2.5l0-4.5l0 5.5l0 1.5l0.5-5l0 3l0-2.5l0-7.5l0 0l0-24.5l0.5 33l0 0.5l0 0l0-0.5l0-36l0.5-1l0 19.5l0-2l0 17l0-2.5l0.5-1.5l0 7l0-4l0 2.5l0-23l0 24.5l0.5-1.5l0-23.5l0 20l0 1.5l0 6.5l0.5 2l0-4.5l0 3l0-4l0-10.5l0 3l0.5 4l0-3l0 10.5l0-8l0 3.5l0.5 3l0-2.5l0-8l0 12.5l0-6.5l0-2l0.5-0.5l0 10l0-9l0 8.5l0-1.5l0.5-1l0-11l0 4.5l0 10.5l0-7.5l0 3.5l0.5-3l0-1l0-13.5l0 15.5l0-11.5l0.5 9.5l0 3l0-28l0 22l0 2.5l0 4.5l0.5-5.5l0-10.5l0 21.5l0-11.5l0-20.5l0.5 20.5l0-3l0 8l0-5l0 4l0-11l0.5 7l0 0.5l0 5.5l0-8l0-19.5l0.5 27.5l0-2.5l0 3l0 2l0-8l0.5 2l0-1.5l0-7.5l0 6l0 7.5l0-3l0.5-1l0-45l0 31.5l0 13l0 3.5l0.5-6.5l0 8.5l0-1l0-38l0 31.5l0 3l0.5 8l0-12.5l0-1l0 3l0 7.5l0.5-7.5l0 3.5l0-7l0 5l0 2.5l0-8l0.5 4l0 8.5l0-11.5l0-4.5l0 16.5l0.5-4.5l0-6.5l0-4.5l0 1.5l0 9.5l0 0l0.5-5l0-2.5l0 2l0 9l0-11l0.5 11l0-0.5l0-5.5l0-2l0 0l0 0.5l0.5-3.5l0 0.5l0-0.5l0 7.5l0-6.5l0.5 2l0-34l0 39.5l0-8l0-1.5l0.5 4.5l0 4.5l0-4.5l0 3l0-2l0-7.5l0.5 7.5l0-2l0-5l0 2.5l0 3.5l0.5-0.5l0 5l0 1l0-11l0 5.5l0 3.5l0.5-16.5l0 20l0-4l0-1.5l0 1.5l0.5-4l0 0l0-2.5l0-9l0 16.5l0-7l0.5 6l0-6.5l0 5.5l0 3l0-7l0.5 5l0-1l0-3.5l0-0.5l0 6.5l0-10l0.5 14.5l0-13l0 3.5l0-22.5l0 24.5l0.5-5.5l0 6.5l0-2.5l0-1l0 8l0-9l0.5-3.5l0-9l0 21.5l0-6.5l0 2.5l0.5 5l0-4l0-2l0 0l0 0.5l0-5.5l0.5 9l0-11l0 9l0-2l0-4.5l0.5 1l0 6l0-5.5l0-0.5l0 0l0.5 6.5l0-8l0-1l0 5l0-2.5l0-19l0.5 19.5l0-4l0 5l0 0.5l0 2.5l0.5-5.5l0 12l0-10.5l0-4.5l0 3.5l0 3l0.5 0l0-10l0 3.5l0 7.5l0 3l0.5-1.5l0-6l0 3.5l0-3l0-4l0 7l0.5-8.5l0 14l0-5.5l0 1l0-0.5l0.5 5.5l0-16l0 10.5l0-10.5l0 19.5l0-11.5l0.5-5l0 11l0-15l0 15l0-3.5l0.5 7.5l0-3l0-9l0 6.5l0 0.5l0-3l0.5-1l0 2.5l0-4.5l0 4l0 0l0.5-4l0 5.5l0 2l0-11l0 6.5l0-3l0.5 6l0-8l0 3l0-1l0 1.5l0.5 0.5l0-1.5l0 9.5l-443-155l-138.5 27.5l-18 20.5l27 5.5l-124.5 21.5l147.5-1.5l66.5-11.5l1 32l21 2.5l-117.5 10l57.5 4.5l-68.5 10.5l35.5 4.5l3.5 9l-53 7.5l31.5-1l70.5-5l-193.5 30.5l19-5l16-4l7.5 13l38-5l11.5 0.5l7.5-4l-40 12l55 0.5l28-21.5l-1 8l0 4l12-7l10.5 3l-1.5 9l13-12.5l10.5 2l11.5 5.5l9-12.5l3.5 3.5l12 4.5l25.5-4l19.5 2l48-393l55.5 76.5l-14.5 47.5l5.5 27.5l-3 43.5l-43.5 10l19 0l-17.5 9l29 3l12.5 1.5l-60 48l28.5 12.5l21.5 1l25 5l65.5-340l-1 67l73.5 19l-3.5 48l57 21l-112 29l164.5 0l24 8l-223.5 79l70.5 0.5l-50 56l9-5l5 2l-22.5 17l20.5 6.5l9 8l64-19l-7 19l5 2.5l-11 14.5l10 7l33-10l-97 11.5l-5 10l51.5 1l-2.5 6l-114.5-16.5l12 4.5l8.5 0l5 0l-19.5 9l25.5 5l4.5-2l113-13.5l10 3.5l100-90.5l50 27l-114.5 0l1 8.5l19.5 0l-16 11.5l22.5 1l-9 7l25-0.5l29.5-5.5l-2.5 10.5l21-10l-114.5 22.5l59 1l13 0.5l-1.5 9.5l44-7.5l12 12l-40.5-4l8.5 1.5l-74.5 3l-18 3.5l-12-1l-376 107.5l40 1l58-10l-243.5-2.5l6.5 14.5"/>
<path fill="none" stroke="none" marker-start="url(#mb)" marker-mid="url(#mb)" marker-end="url(#mb)" d="M131.5 679.5l0 3.5l0 0.5l0.5 1l0-2.5l0 6.5l0-6.5l0-1l0.5 4l0-2.5l0 4l0-2l0 0.5l0-1.5l0.5 2.5l0-3l0 0l0 0.5l0 2l0.5-3.5l0 1l0-0.5l0-1l0 3l0 1l0.5-2l0 4l0-7l0 8l0-6l0.5 2l0 2l0-1.5l0 2l0-6l0-2l0.5 3l0-5.5l0 9.5l0-3.5l0 4.5l0.5-2l0-1l0-2.5l0-2.5l0 3l0-0.5l0.5 2.5l0-0.5l0 0.5l0-2.5l0 0.5l0.5 1.5l0 0.5l0-4.5l0 8l0-2.5l0-1.5l0.5-5.5l0 0.5l0 2.5l0 1.5l0 1.5l0.5-4l0 5l0-3l0 0.5l0 1l0.5-2.5l0 0l0 5.5l0-2l0-2l0 2l0.5-6l0 3l0-1.5l0 5.5l0 0l0.5-0.5l0-1.5l0-2.5l0 3l0 3.5l0-7l0.5 6l0-2.5l0-1.5l0 1.5l0 0l0.5-5l0 4l0 0.5l0 0.5l0 2.5l0-6.5l0.5 5.5l0-5l0 0.5l0 0.5l0 1l0.5 1l0 0l0-2.5l0 3.5l0-0.5l0-4l0.5 5.5l0-1l0-3.5l0 1.5l0 0l0.5 0l0 4l0-4.5l0-1.5l0 6.5l0-2l0.5-5l0 4.5l0-5l0 1l0 0.5l0.5 0l0 5l0-4l0-1l0 4l0-2.5l0.5 0l0-4.5l0 3l0 0l0 4l0.5-3l0 3.5l0-4.5l0 4.5l0-4l0.5-2l0 3l0-1l0 4l0-6.5l0 6.5l0.5-4.5l0 0.5l0 1l0 0.5l0-2.5l0.5 0l0 0l0 4.5l0-4l0 4l0 0l0.5-3l0 0.5l0 0l0-4l0 3l0.5-1l0 4l0-3l0 2l0-3.5l0-1l0.5 1l0 0.5l0 3l0-8l0 7l0.5 3l0 1l0-5l0 2l0 2l0-0.5l0.5-2l0 0.5l0-2.5l0 3.5l0-2.5l0.5 6l0-7l0 2l0 0l0-1.5l0 0.5l0.5 0.5l0-0.5l0 2.5l0-3.5l0 2.5l0.5-1l0 0.5l0-0.5l0 4.5l0-4.5l0.5 3l0 1.5l0-6.5l0 0.5l0 4l0 1l0.5-2l0-5l0 3l0-0.5l0-1l0.5 2.5l0-1.5l0-0.5l0 2.5l0 0l0-1.5l0.5-1l0 3l0 4.5l0-4l0 0l0.5-2.5l0 2l0-1l0 1l0-5.5l0 2.5l0.5 5l0-2l0 2l0-3l0-4l0.5 7l0-1l0-4l0 0.5l0 0.5l0 2.5l0.5-3l0-0.5l0-2.5l0 4l0 0.5l0.5 2l0-5l0 5.5l0-3l0-1.5l0 2l0.5 3l0-4.5l0 4.5l0-1.5l0-6l0.5 4.5l0 2l0-4l0 2.5l0 4.5l0-8.5l0.5 1.5l0 3l0-1.5l0 3.5l0-2.5l0.5 0.5l0-2.5l0 1l0-2l0 2l0.5-1l0 4.5l0 1l0-1l0-6.5l0 2l0.5 3l0-0.5l0 2l0 0l0-1.5l0.5-5.5l0 8.5l0-6.5l0 2.5l0-3l0 0.5l0.5 2.5l0-1.5l0 1l0-4.5l0 4.5l0.5 0.5l0-3l0-1l0 1.5l0 0l0 3l0.5-1l0-1l0 0.5l0-1.5l0-0.5l0.5-0.5l0 0l0 2l0 0l0 3.5l0-2.5l0.5-1l0 1l0-2l0 2.5l0 2l0.5-1l0-1.5l0 0.5l0-4l0 6.5l0-6.5l0.5 1.5l0 0l0-3l0 0l0 4l0.5 3.5l0 1l0-3l0 3l0-1l0-6l0.5 5.5l0 1.5l0 0l0-6l0 0l0.5 2l0 3l0-2.5l0 3l0-3.5l0.5-0.5l0 4l0-1.5l0 0.5l0 0.5l0 0.5l0.5-6l0 5l0-4.5l0-3.5l0 6l0.5 0.5l0 0.5l0-1.5l0 1.5l0 0.5l0 1l0.5-6l0 4l0 0.5l0-5l0 5l0.5-2l0-0.5l0 3l0-5.5l0 6l0-3.5l0.5 1l0-2l0-1l0 2.5l0-2.5l0.5 0.5l0 1l0 0l0 2l0-1.5l0 3l0.5-7l0 9l0-3l0-2l0 3l0.5-2.5l0 3.5l0-4l0 7.5l0-9l0-1l0.5 9.5l0-6l0-2.5l0 3.5l0 2l0.5-5.5l0 1l0 0.5l3-46l0 1l0 2l0.5-1l0 3.5l0 4l0-9l0 0.5l0 4.5l0.5-1l0-1.5l0 5l0-7l0 7l0.5-3l0 0l0-2.5l0-0.5l0 6l0 1.5l0.5-8.5l0 2.5l0 2l0-5l0 7.5l0.5-4l0 0.5l0-1l0 0l0 1l0 4.5l0.5-3.5l0-5l0 4l0 3.5l0-3l0.5 3.5l0-3l0-2l0-0.5l0 8l0.5-7.5l0 1.5l0-2.5l0 0.5l0-2l0 6l0.5 2.5l0-10l0 3.5l0-1l0 5l0.5-1.5l0-6l0 8.5l0-1l0-1l0-1.5l0.5-3l0 8l0-6.5l0 0.5l0 6l0.5-8l0 1l0 2l0-2.5l0 6.5l0-0.5l0.5-7l0 3.5l0 1.5l0 2.5l0-6l0.5 5.5l0-2.5l0-5.5l0 7l0 1l0 4l0.5-6l0-1l0 4.5l0-6l0-1l0.5 1.5l0-2.5l0 11.5l0-10.5l0 3l0 0l0.5-1l0 2l0-1.5l0-1l0-3.5l0.5 1l0 7l0-8l0 8.5l0-7.5l0 5.5l0.5-1.5l0 2l0 0l0 2l0-5l0.5 4l0-3l0-5l0 3l0-0.5l0.5 4l0 4.5l0-5.5l0-2l0-2.5l0 3l0.5-0.5l0 0.5l0-0.5l0 4.5l0-7.5l0.5 2.5l0 0l0 4l0-1l0-1l0-3.5l0.5 4.5l0-0.5l0-1l0 0.5l0-3.5l0.5 7.5l0-3.5l0-1.5l0 1.5l0-2.5l0 1.5l0.5 3.5l0-4l0-0.5l0 1.5l0-3l0.5 3.5l0 3l0-5l0 4.5l0-5.5l0-2l0.5 6.5l0-2.5l0-2.5l0 4.5l0 1l0.5 1l0-10.5l0 11l0-6.5l0 1l0 4.5l0.5-6l0 3.5l0-3l0-2l0 6.5l0.5-3.5l0-2l0 3.5l0-4.5l0 6l0.5-7l0 3.5l0 0.5l0-0.5l0 6.5l0-2.5l0.5-7.5l0 3.5l0 5l0-4.5l0-6.5l0.5 9.5l0-4.5l0-3.5l0 8.5l0 1.5l0-4.5l0.5-2.5l0 5.5l0-3.5l0 1l0 0l0.5 0l0 0l0 1l0-4.5l0 3.5l0 2l0.5 1.5l0-5.5l0 4l0-0.5l0 5l0.5-6l0-3.5l0 2.5l0 3l0-9.5l0 5.5l0.5 2.5l0-3l0 2.5l0-5.5l0 5l0.5 2l0-4.5l0 3.5l0 0.5l0-0.5l0-1l0.5 1.5l0-4.5l0-0.5l0-1.5l0 6l0.5-5l0 3.5l0 1l0-1l0-3.5l0 0.5l0.5 6.5l0-5l0 2l0-1.5l0 8l0.5-4l0-4l0 3l0-2.5l0-2l0.5 7l0-4l0-4.5l0-1l0 6l0 1l0.5-5.5l0 2.5l0 2l0-3l0 0.5l0.5 1l0-0.5l0-3.5l0 1l0 4.5l0 2.5l0.5-2.5l0 0l0 1.5l0 1l0 1.5l0.5-6l0-1.5l0 1.5l0-4l0-0.5l0 0l0.5 4.5l0 1.5l0 1.5l0-4l0 5l0.5-1.5l0-2l0-0.5l0 7.5l0-5.5l0-1l0.5-0.5l0-5l0 5l0-2.5l0 2l0.5-0.5l0-1l0 0.5l0 0l0 2.5l0 3.5l0.5-3l0-4l0 4.5l0-0.5l0-2l0.5 1l0 4.5l0-2l0-2.5l0 0l0 0l0.5 3.5l0-7.5l0 5.5l0 2l0-2.5l0.5-4l0 1.5l0-2l0 6.5l0-5.5l0.5-1l0 2.5l0 0.5l0 4l0-2l0 3l0.5-3l0-0.5l0 1l0-5.5l0 0.5l0.5 1.5l0 0l0-2l0 7.5l0-1.5l0-3.5l0.5-2.5l0 7l0-5l0-0.5l0 2l0.5 4.5l0-6l0 3.5l0-2l0 0.5l0-2.5l0.5 4l0-1l0 0.5l0-3l0 2.5l0.5-5.5l0 8l0 1l0 1.5l0-3.5l0-0.5l0.5 3l0 0.5l0-4.5l0-4.5l0 1.5l0.5 4.5l0-8l0 5l0-2l0 1l0 5l0.5 0.5l0-5.5l0 3.5l0 0.5l0-3.5l0.5-0.5l0 1l0 1l0-2l0 5.5l0.5-6l0 3l0 1.5l0-0.5l0-4.5l0 5.5l0.5 2l0-6l0 1.5l0-2l0-1l0.5 2.5l0-4l0 8l0-4.5l0-2.5l0 2.5l0.5-0.5l0 0l0 1l0 0l0 0.5l0.5 3l0-5.5l0 6l0-6l0-0.5l0 1l0.5 1.5l0-0.5l0 3l0-5l0 4l0.5-1.5l0 4l0 2.5l0-13.5l0 8.5l0 0l0.5 2.5l0-9l0 7.5l0 0.5l0-3.5l0.5 0.5l0 2.5l0-0.5l0-10l0 5.5l0 4l0.5-2l0 3.5l0-2.5l0 4l0-5l0.5 1l0 1.5l0-5.5l0 3l0-1l0 6l0.5-6.5l0 5l0-6l0 8l0-3l0.5 1.5l0-6.5l0 5l0-3l0 3l0.5-0.5l0-2.5l0 0.5l0-1l0-1.5l0 0.5l0.5 3.5l0-1l0-3l0 1.5l0 1l0.5 3l0-6l0 8l0-6l0 2l0 2l0.5-3l0 3.5l0-3.5l0-3l0 2l0.5 2.5l0-4.5l0 2.5l0 1.5l0-3.5l0 0l0.5 4.5l0-0.5l0 3l0-5l0 6l0.5-6l0 5l0-9l0 4l0 4l0 2.5l0.5-5.5l0 3.5l0-5l0-1l0 3.5l0.5 0.5l0-2l0 4.5l0-4.5l0-2l0 1l0.5 4.5l0-4.5l0 4l0-5l0 4l0.5-2l0 0.5l0 0.5l0 3l0-3.5l0.5 4l0-2l0 3.5l0-6.5l0-2l0 4l0.5 0.5l0-4.5l0 5.5l0-3.5l0-1l0.5-1.5l0 9.5l0-10l0 1l0 1l0-0.5l0.5-0.5l0 1l0 5l0 2.5l0-0.5l0.5-7l0-3.5l0 6l0-3.5l0 5.5l0-3l0.5 4.5l0-4l0-2l0 4.5l0-0.5l0.5 0l0-8l0 1.5l0 6l0-4.5l0 3l0.5 2l0-4.5l0 0.5l0 6l0 0.5l0.5-5.5l0 6l0-5.5l0-1.5l0 6l0-6.5l0.5 0.5l0-2l0 8.5l0-0.5l0-0.5l0.5-2.5l0-1.5l0 2.5l0-2.5l0 1.5l0 0l0.5 3l0-3l0 1l0-3.5l0 4l0.5-1l0-6.5l0 2l0-0.5l0 8.5l0.5-5l0 2.5l0-4l0 1.5l0-2l0 5l0.5 1l0-1l0-0.5l0 1l0 0l0.5 0l0-4.5l0-2l0 7l0-7l0 6.5l0.5-4l0 1l0-1l0 1.5l0-2.5l0.5-3.5l0 8.5l0-5l0-3l0 11l0-3.5l0.5-4l0 0l0 2.5l0-4l0 1.5l0.5 0.5l0-2l0 4.5l0 4.5l0-5l0 1.5l0.5-2.5l0-5.5l0 3.5l0 2l0 3.5l0.5-10l0 4.5l0-5.5l0 6l0 2.5l0-2.5l0.5 2.5l0-0.5l0-3l0 1.5l0 1.5l0.5-2l0-1.5l0 3.5l0 2.5l0-1l0-6.5l0.5 0l0 2.5l0 2l0 1l0-6l0.5 0l0 2l0 1l0 5l0-8.5l0.5 8l0-5l0 4.5l0 0.5l0-6.5l0 2l0.5 1.5l0 0l0-0.5l0 1.5l0-4.5l0.5-5l0 7.5l0 3.5l0 0.5l0-6l0 4.5l0.5 5.5l0-11l0 6.5l0-5l0 6l0.5-6.5l0 5l0-1l0-1.5l0 3.5l0 1l0.5-3l0-4l0 4.5l0 0l0-2l0.5 4.5l0-9.5l0 5l0-0.5l0 4.5l0-1.5l0.5 1l0-4l0 6l0-0.5l0-4l0.5 1.5l0 0l0-4.5l0-3l0 8.5l0-3.5l0.5 3l0 1l0-0.5l0 0l0-0.5l0.5 0.5l0-4.5l0-1.5l0 5.5l0 2l0.5-5l0-4l0 4l0 2.5l0-2.5l0-0.5l0.5-0.5l0 2l0 0l0-0.5l0 5l0.5-1.5l0-3l0 2.5l0-4l0 4l0-5.5l0.5 2.5l0-4.5l0 4l0-5l0 3l0.5-1.5l0-1.5l0 2l0 3l0 1.5l0 1.5l0.5-4l0-0.5l0 3.5l0 3l0-0.5l0.5-6.5l0 2.5l0-0.5l0-1.5l0-1l0 0.5l0.5-3l0 6.5l0 3l0-2l0-2l0.5-1l0 2l0-3l0-2l0 6l0-3.5l0.5-5.5l0 12l0-3l0-3.5l0 0l0.5 1l0-2l0-1l0 4l0 2.5l0-8.5l0.5 3l0 1l0-2.5l0 0.5l0 2l0.5 0.5l0 4l0-7.5l0 7.5l0 2.5l0.5-4.5l0-1.5l0 0l0 4l0-2.5l0 2.5l0.5-8l0 0l0 2.5l0 6.5l0-6.5l0.5 4.5l0-2.5l0 2l0-5.5l0 1.5l0-0.5l0.5 4l0 1l0-3l0 0.5l0-4l0.5 4.5l0-3l0 1.5l0 1.5l0 0l0-3.5l0.5 2.5l0-1l0 0.5l0 1l0-5l0.5 8.5l0-6.5l0 7.5l0-2.5l0 1l0-1.5l0.5-1l0-3.5l0 4l0-6l0 1.5l0.5 11.5l0-5l0-5l0 9l0-9l0 4l0.5-6.5l0 0.5l0 2.5l0 2l0-2.5l0.5-1.5l0 7l0-7l0 7.5l0-5l0-5.5l0.5 8.5l0-0.5l0 0l0-2l0 1.5l0.5-2l0 0l0 5.5l0-3l0 0l0.5 1.5l0-6.5l0 7.5l0-6l0 4l0 3.5l0.5-10.5l0 4l0 0l0 7.5l0-6l0.5 3.5l0-5l0-3l0-0.5l0-2l0 2.5l0.5 7l0-7.5l0 2l0 3.5l0 1l0.5-1l0 5l0-8l0 0.5l0-5.5l0 2.5l0.5 4l0 7.5l0-8l0 8.5l0-7l0.5 0.5l0 2.5l0-2l0 2l0-6l0 0l0.5 5.5l0 0l0 0.5l0 1l0-5.5l0.5 5.5l0-6.5l0 2.5l0 4.5l0 0l0-2l0.5 1l0-5.5l0 3.5l0-4l0 4.5l0.5 2l0-2.5l0-4l0-1l0 4.5l0.5 1l0-4.5l0 3l0-3.5l0 4l0 0.5l0.5-2.5l0-0.5l0 5l0-7.5l0 6.5l0.5-5l0-1.5l0 4l0 2.5l0 1.5l0-9l0.5 2.5l0-1l0-2l0 0l0 5l0.5 4l0-2l0-6.5l0 4l0 7.5l0-9.5l0.5 2l0-3l0 2l0 0.5l0 2l0.5-3.5l0 4.5l0-5l0 2.5l0-1.5l0 1l0.5 1.5l0-4l0 6.5l0-7l0 6.5l0.5-2l0 2.5l0-6.5l0 1l0 5l0-0.5l0.5-3l0-4l0 7l0-3.5l0 2l0.5-5l0 5l0 0.5l0-4.5l0 3.5l0-3l0.5 2.5l0-1l0 2l0-1l0-0.5l0.5-2l0 0l0 1.5l0 1.5l0-1.5l0.5 7.5l0-4.5l0 2.5l0-3l0 2l0-3.5l0.5-1l0 7.5l0-12l0 7.5l0-1.5l0.5-2.5l0 1l0 1.5l0 2l0-2.5l0-1.5l0.5 1.5l0 1l0-3.5l0-1l0-1.5l0.5 7l0 2l0-6l0 3.5l0-5l0 2.5l0.5-3l0 7l0-2l0 2l0 1l0.5-1l0-6l0 4.5l0 4l0-0.5l0-4l0.5-2.5l0 5.5l0-7l0 5l0-4l0.5 3.5l0 1.5l0-5.5l0 3.5l0-1.5l0 5l0.5-7.5l0 4l0-1.5l0 0l0-3l0.5 7.5l0 1l0-3.5l0-3.5l0 0l0.5-1l0 4.5l0 2l0-1l0 0.5l0-1l0.5 0l0-4l0-3l0 5.5l0-1l0.5 0.5l0-1l0 4.5l0-9l0 7l0-3.5l0.5 0l0 1.5l0 2.5l0 4l0-3l0.5-1.5l0-1l0 1l0 2l0 0l0-1l0.5-5.5l0 5.5l0-2l0 5.5l0-1.5l0.5 0.5l0-5l0-2l0-1l0 0.5l0 8l0.5-4.5l0-3.5l0 0l0 5l0-4.5l0.5 4l0 1l0-5l0 6.5l0-4l0 3l0.5-0.5l0-2l0 3l0-5.5l0 4l0.5-4.5l0 5l0-2l0-3l0 5.5l0 0.5l0.5-4l0 1l0 0.5l0-6.5l0 9l0.5-5l0 1.5l0-3l0-3.5l0 2l0.5 2.5l0-3.5l0 9l0-7.5l0 5.5l0 3.5l0.5-2l0-4.5l0 0l0 0l0-1.5l0.5 5l0-0.5l0-1l0 2.5l0 1.5l0-7l0.5 4.5l0-5.5l0 2.5l0-4.5l0 3.5l0.5 1.5l0 0l0 4.5l0-3.5l0-4l0 4.5l0.5 0l0 0l0-1.5l0-1.5l0 0.5l0.5-2l0 0l0-1l0 7.5l0-3.5l0 2l0.5-4.5l0 2l0-3.5l0 6.5l0 0l0.5-1l0-0.5l0 1l0-3l0 5l0-1l0.5-1l0 3l0-7.5l0 0l0 0.5l0.5 3.5l0-5l0 1l0 7.5l0-6l0-1l0.5 1l0 4.5l0-1l0-7.5l0 10l0.5-1.5l0-5.5l0-3.5l0 4.5l0-1l0.5 1.5l0 1.5l0-2.5l0 4.5l0 0.5l0-5.5l0.5-2l0 6.5l0 2.5l0-2.5l0-1.5l0.5 1.5l0-2l0 2.5l0-2.5l0 4.5l0-8l0.5 3.5l0-2l0 1l0-2.5l0 7.5l0.5-2l0-2l0 3.5l0-4l0 4.5l0-3.5l0.5-2.5l0 1.5l0-1.5l0 8l0-12.5l0.5 9.5l0 0.5l0-6l0-1l0 1.5l0 3l0.5-4.5l0 5.5l0-1.5l0 2l0-3.5l0.5 5l0-8l0 2.5l0-4l0 8.5l0-7l0.5 3l0 3.5l0 0.5l0-5l0 0.5l0.5-0.5l0-0.5l0 1l0-3.5l0 1.5l0.5 5.5l0-5l0-2l0 3.5l0 4l0 1.5l0.5-2.5l0-2.5l0 1l0-2.5l0 2l0.5 5l0-8l0 1.5l0 5l0-6l0 4l0.5 0.5l0-2l0-2l0 0.5l0 0.5l0.5 7l0-9.5l0 5.5l0-1.5l0 2.5l0-1l0.5-1l0-1.5l0 2l0-5.5l0 6.5l0.5-7l0 4l0-2l0-0.5l0 2l0-0.5l0.5 2.5l0-3.5l0 1.5l0 0l0 3.5l0.5-5l0 7.5l0-3.5l0-4.5l0 6.5l0-3l0.5 1l0 0.5l0-4l0 4l0 3.5l0.5-6l0 3.5l0-6.5l0 5l0-3l0 0l0.5 6l0-4.5l0-2.5l0 6.5l0 0l0.5 1l0-3l0-5.5l0 4.5l0-3.5l0.5 0l0 5.5l0-4l0 4l0 2l0-0.5l0.5-4l0 0l0-0.5l0 1.5l0-5.5l0.5 6.5l0-3l0-3l0 2.5l0 3l0-5l0.5-1l0 1.5l0 1l0 1l0 4.5l0.5-2.5l0 1l0-1l0-5l0 4.5l0 1l0.5-2.5l0 2.5l0-3l0 4l0-2l0.5-1l0 0.5l0 2l0 0.5l0 2.5l0-6.5l0.5 2l0-2l0 0.5l0 0l0 0l0.5 7.5l0-6.5l0-2l0 0l0 0.5l0-1l0.5 5.5l0-2.5l0 0.5l0-4.5l0 5.5l0.5-2l0 4.5l0-1.5l0-3.5l0 1l0-0.5l0.5 0l0-4l0 1.5l0 7.5l0-6l0.5 0l0 5l0-10.5l0 3.5l0 3.5l0.5 5l0-2.5l0-2.5l0-0.5l0 1l0-5.5l0.5 5l0 4l0-3l0-3.5l0 0l0.5 2.5l0 4.5l0-4.5l0-5.5l0 3l0 4.5l0.5-6l0 8l0-7l0 0.5l0 7l0.5-9l0 4l0 0l0-3.5l0 6l0-5l0.5 0.5l0 4l0-5l0-2l0 7l0.5-4.5l0 6l0-4.5l0-4l0 10l0-1l0.5-3.5l0-3.5l0-1l0 7.5l0 1l0.5-1.5l0 2.5l0-8.5l0-3l0 4.5l0-2l0.5 0.5l0 2l0 5l0-6.5l0 3l0.5 3.5l0-0.5l0-2l0 1l0-3l0.5-3l0 8l0-1l0-4l0-2.5l0-2l0.5 4l0 4l0-3.5l0 3l0-3.5l0.5 1l0 5l0-3.5l0-6l0 1l0 1l0.5 5l0-6.5l0 1l0 2l0-1.5l0.5 2l0-2l0 2l0-1.5l0 0l0 4l0.5-2l0-5l0 2l0.5-2.5l0 6l0 0.5l0 0l0.5-3.5l0-5l0 3.5l0-5.5l0-1l0.5 9.5l0 1l0 0l0-3.5l0-7.5l0 1l0.5 9l0 2l0-15l0 10l0-3.5l0.5 2.5l0-1l0 8.5l0-8.5l0 0.5l0 8l0.5-7.5l0 6.5l0-3.5l0 3.5l0-2.5l0.5-9l0 7.5l0-11l0 7l0 9.5l0.5-1.5l0-13l0 2l0 4l0 6l0-1l0.5-8l0 0l0-1l0 3.5l0 7.5l0.5-2l0-9l0 2l0-3.5l0 0.5l0 10l0.5 0.5l0-5.5l0-1.5l0 9.5l0-4l0.5-7.5l0 11l0-10l0 5.5l0-3.5l0 5l0.5-0.5l0 3.5l0-1l0-4l0-8l0.5 4.5l0-7l0 14l0 4.5l0-13l0 11l0.5-5l0-5.5l0-1.5l0-5l0 15.5l0.5-9l0 0.5l0 7.5l0-2l0 4.5l0-4.5l0.5 5.5l0-10.5l0 5.5l0-1.5l0-6.5l0.5 3.5l0-3l0 9.5l0-12.5l0 7.5l0 3l0.5 3l0-1.5l0-9.5l0 7.5l0-9.5l0.5 14l0-3.5l0 5.5l0-13.5l0 3.5l0.5-4l0 1l0 6.5l0 6l0-13.5l0 13l0.5-4.5l0-4.5l0 8l0-5.5l0 0l0.5-5l0 2.5l0-9.5l0 18l0-1.5l0-13l0.5 7.5l0 4l0-8l0 10l0-11.5l0.5 10.5l0-5l0-4.5l0 0.5l0-3.5l0-0.5l0.5 3.5l0 4l0-6l0 12l0-5.5l0.5 7.5l0-7.5l0 1l0-3.5l0 1.5l0 2l0.5-8l0 10l0-8.5l0 10.5l0-8.5l0.5-2l0 11.5l0-11l0 9.5l0 1l0-9l0.5-4.5l0-1.5l0 9l0 3.5l0-5.5l0.5-6.5l0 5l0-3.5l0 12l0-3.5l0.5 4l0-14l0 9l0-6.5l0 5.5l0 7l0.5-12l0 5l0-4.5l0 4.5l0-1.5l0.5 8l0-3.5l0-6.5l0 10.5l0-9.5l0 5.5l0.5-9l0-2.5l0 6l0 5.5l0-12l0.5 11.5l0-9.5l0 15.5l0-7l0 5l0-12.5l0.5 0l0 1.5l0 15l0-6.5l0-3.5l0.5-3.5l0 0l0 1l0 10.5l0-6l0 2l0.5-10l0 6.5l0 10l0-5.5l0-9l0.5-7l0 10l0-5l0 8.5l0-4l0-2.5l0.5 12.5l0-12l0 9.5l0-11l0 10.5l0.5-8.5l0 7l0-8.5l0 8l0 4.5l0-4l0.5-10l0-4.5l0 3l0 8.5l0 6l0.5-2.5l0 2l0-1.5l0-5.5l0-1.5l0.5-3l0 6.5l0-1l0 0l0-8l0 3.5l0.5 13l0-2.5l0-2.5l0-0.5l0-5l0.5 4.5l0-12.5l0 9l0 7l0-14.5l0 8.5l0.5 3l0 1.5l0-12l0 10l0 4.5l0.5-1l0-1.5l0 1l0 3l0 0.5l0-17l0.5 14.5l0-7l0 4l0 2.5l0-2l0.5-11.5l0 5.5l0 0.5l0-8.5l0 14.5l0 0.5l0.5-5.5l0-4.5l0 6.5l0 2l0-8.5l0.5-3.5l0 7l0 5l0-5.5l0 3.5l0-3.5l0.5 4.5l0-7l0 0l0-1l0 4l0.5 6.5l0-9.5l0 4.5l0-7l0-3.5l0.5 8.5l0-2l0 8.5l0-9.5l0-4.5l0 8.5l0.5-1l0 9.5l0-1.5l0-10l0 4.5l0.5 5.5l0-3l0-9l0 11l0-12.5l0-2l0.5 4.5l0-2l0 15l0-12.5l0 2l0.5 5.5l0-11.5l0 16.5l0-12.5l0 3.5l0-2.5l0.5 5.5l0 4.5l0-14l0 13.5l0-3.5l0.5-6l0 3l0-9l0 15.5l0-4.5l0-6.5l0.5-1.5l0 14l0-0.5l0-14l0-0.5l0.5 3.5l0 4l0-3l0-6.5l0 9.5l0-6l0.5 14.5l0-9l0-6l0 1l0 0.5l0.5 7.5l0 0l0 3l0-5l0-9.5l0 15l0.5-5l0-8l0 13l0-4l0-8.5l0.5-1l0 5.5l0-9l0 1.5l0 6l0.5 11l0-4l0-4.5l0-4.5l0 1l0-4.5l0.5 0.5l0 7.5l0-1l0-1l0 1.5l0.5 7.5l0-3l0 2.5l0-12l0 13.5l0-2l0.5-11l0 7.5l0 5l0-1l0-6.5l0.5 0l0-4l0 8l0-1l0-7l0 11.5l0.5-7.5l0-7l0 7l0 2l0-2l0.5 1l0 4.5l0-3l0-11l0 12l0-9.5l0.5 7.5l0-4l0 2.5l0-4l0 9.5l0.5-12l0 0.5l0 2.5l0 11l0-8l0-5.5l0.5 5.5l0 8.5l0-11.5l0 9.5l0-14l0.5 13l0-10.5l0 11l0-5l0 1l0 5.5l0.5-11.5l0 5.5l0 4.5l0-6.5l0-4l0.5 4.5l0-9.5l0 11l0-2.5l0 0l0.5-2.5l0-0.5l0 6l0-5l0-2.5l0-4l0.5 15.5l0 0.5l0-11l0-0.5l0 1.5l0.5 1.5l0 0l0 7l0-6l0 1l0 10.5l0.5-17l0 5l0 5l0 2l0-7l0.5 3l0 1.5l0 0.5l0-8.5l0 12l0-5.5l0.5 2.5l0-9.5l0 4.5l0-2l0 6l0.5-8l0 7.5l0 1.5l0 3.5l0-10l0 2l0.5-5l0 17l0-6.5l0-11.5l0 1l0.5 0.5l0 6l0-9.5l0 3.5l0-3.5l0 5.5l0.5 4.5l0-0.5l0 2l0-10.5l0 16l0.5-3l0 0l0 0.5l0-13l0-2l0.5 2.5l0 16.5l0-15.5l0-1l0 5.5l0-5l0.5 7.5l0 3.5l0-11.5l0 15l0-3.5l0.5 1.5l0 1.5l0-8l0 0.5l0 5l0-11.5l0.5-0.5l0 5l0 7l0-1l0-4.5l0.5 3l0-12l0 16.5l0 1l0-6.5l0-7.5l0.5 0.5l0 8l0-2.5l0-5.5l0 1.5l0.5 9l0-10.5l0 3.5l0-5.5l0 5.5l0-5l0.5 13.5l0-1.5l0-14.5l0 5l0 1.5l0.5 0l0 0.5l0 1.5l0-5.5l0-4l0 17.5l0.5-11l0 2.5l0 4l0 3.5l0-10l0.5-3.5l0 3l0-0.5l0 12.5l0-16l0 14.5l0.5-4l0 5.5l0-9l0-1l0 4l0.5 1.5l0-3l0-1.5l0 2l0-6l0.5-0.5l0 9l0-4.5l0 5.5l0-5l0-0.5l0.5 0.5l0-1l0-2l0-0.5l0 13l0.5-8.5l0 1.5l0-8.5l0 13.5l0-4l0-4l0.5-3.5l0-0.5l0 13.5l0-12.5l0 3l0.5-1.5l0 8l0-5.5l0 3l0 0l0-7l0.5 8l0-4.5l0-6l0 3l0 13.5l0.5-16l0-1.5l0 9.5l0-3.5l0 0l0 10.5l0.5-17l0 5.5l0-3l0 0l0 3l0.5-5.5l0 5.5l0 12l0-7l0 4.5l0-2l0.5-2l0-1l0-9.5l0 0.5l0 15l0.5-3.5l0-1.5l0 3.5l0 2l0-9.5l0 6l0.5 2.5l0 2.5l0-4l0-7.5l0-6l0.5 8.5l0 1l0-5.5l0-1l0 8l0.5 1l0 4.5l0-7.5l0 6.5l0-12.5l0 11.5l0.5-3l0-6.5l0-5l0 13l0-10l0.5 0l0 12.5l0-10l0-4l0 9.5l0-7.5l0.5-2l0 6l0-5.5l0-3.5l0 2l0.5 7.5l0 1l0-6.5l0 15.5l0-9.5l0-2l0.5 0l0 4l0-4.5l0 5.5l0 4.5l0.5 1l0-7l0 0l0-9l0 15l0-4l0.5 2l0 2l0-14.5l0 7l0-6l0.5-1l0 13.5l0-4l0-3.5l0-4l0 5.5l0.5 0.5l0-1l0 1l0-3l0-2l0.5-2.5l0 8l0-4l0 5.5l0-3.5l0.5 4.5l0 3l0-10.5l0 5.5l0-0.5l0-11l0.5 3.5l0 3.5l0 7l0 3l0-15.5l0.5 13.5l0 1.5l0 2.5l0-5.5l0 4.5l0-5l0.5-11l0 5.5l0-4l0 7.5l0 2.5l0.5-14l0 10l0 4.5l0-3.5l0.5-10l0-1.5l0 0l0.5 2l0-1l0-0.5l0 8l0-4l0-1.5l0.5-8.5l0-1.5l0 18.5l0-11l0-0.5l0.5-3l0 4l0-5.5l0 10.5l0 4l0-12l0.5-1.5l0 14l0-16.5l0 25.5l0-11l0.5-11.5l0 8.5l0-1.5l0 2l0 7.5l0-10.5l0.5-1l0 1l0 7.5l0-1.5l0-7.5l0.5 4.5l0-11l0 12l0-3.5l0-9l0.5 8.5l0-1l0 5.5l0 2l0-2.5l0-2l0.5 2l0-9l0 10.5l0-12l0 12.5l0.5-5l0 6l0-9l0 6.5l0 3l0 0.5l0.5-17l0 7l0-3.5l0 5.5l0 12l0.5-3.5l0-3.5l0-5l0 9l0-8.5l0 1.5l0.5 6.5l0-1.5l0-10l0 1l0 0.5l0.5-6.5l0 10l0-1.5l0 3l0-3l0 3l0.5-10.5l0 7l0 7.5l0-9.5l0 0.5l0.5-2l0-2.5l0 1.5l0 1l0-1.5l0 28l0.5-30.5l0 2l0-3.5l0 18l0-9.5l0.5 2.5l0-10l0 16l0 0.5l0 7l0-16.5l0.5-10l0 14l0-7.5l0 18l0-22.5l0.5 7l0-2.5l0 12.5l0-7l0-7l0.5 9l0-12.5l0 15.5l0-12.5l0 9.5l0 2l0.5-7.5l0-4.5l0 16l0-19.5l0 6l0.5-3.5l0-0.5l0 8.5l0 6.5l0-4.5l0-11.5l0.5 23l0-9l0-9l0-4l0 7l0.5 10l0 4l0-15.5l0 1l0-2.5l0 13l0.5 4.5l0-11.5l0-1.5l0-2.5l0 6l0.5-6.5l0 7l0 1l0-6l0 11.5l0-1.5l0.5-4l0-7.5l0 6.5l0-14.5l0 15.5l0.5-6l0-8l0 3.5l0 6.5l0-1l0-5l0.5 12.5l0-19.5l0 26.5l0-20.5l0-0.5l0.5-2.5l0 10.5l0-10l0-1.5l0 17l0.5-4l0 4l0 13l0-29l0 0.5l0 10l0.5-8.5l0 10.5l0-0.5l0-3l0 8l0.5-10l0-0.5l0 0.5l0 0l0 8l0-4l0.5 4.5l0-5.5l0 3.5l0-2.5l0 5l0.5-8l0 4.5l0-7.5l0 6.5l0-4l0 0l0.5 0l0-6l0 11.5l0-4.5l0 5l0.5-13.5l0 14.5l0-4.5l0 5l0-15l0 3l0.5 10.5l0-6.5l0 4l0 0.5l0-1.5l0.5 2l0-2.5l0 5l0-8l0 3.5l0-8.5l0.5 15l0-12.5l0 9l0-8l0 0l0.5-1.5l0 11.5l0-7l0 3.5l0 0l0-8.5l0.5 15.5l0-14.5l0 4l0 10l0-7.5l0.5 6.5l0-15l0 17.5l0-19.5l0 16.5l0.5-6l0-2l0 8l0-12l0-1.5l0-1l0.5 13l0-2l0-4l0 3.5l0-7.5l0.5 8.5l0-9.5l0 12.5l0-2l0-7l0 4.5l0.5-2.5l0 4.5l0 0.5l0-6l0 8.5l0.5 3l0-12.5l0 6l0 3.5l0-12.5l0 13l0.5-4l0-0.5l0-2.5l0 1.5l0-8l0.5 15.5l0-14l0 7l0-9l0 12l0-8.5l0.5 3.5l0-0.5l0 11l0-9l0 3.5l0.5-2.5l0-12l0 5.5l0 8.5l0-9.5l0-2.5l0.5 1.5l0 1l0 0.5l0 11l0-1.5l0.5 2.5l0 1.5l0-11.5l0 8.5l0-4l0.5-10l0 9l0-4l0 0.5l0 9l0-7.5l0.5-6l0 11l0-9l0 9.5l0-7l0.5-0.5l0 2.5l0 6.5l0-16l0 0.5l0 10l0.5-1.5l0-4l0 11l0-15l0 13.5l0.5-9.5l0 3l0 1l0-2.5l0-1l0-6l0.5 2l0 3l0 4l0 3.5l0-13l0.5 20l0-15.5l0 13l0 0l0 0.5l0-11l0.5 11.5l0-11.5l0-8.5l0 19.5l0-3l0.5 1l0 0l0-4.5l0 5.5l0-2l0-12l0.5 9.5l0-6.5l0-2l0-1l0 3l0.5-6.5l0 14.5l0-13.5l0 10.5l0-1l0-2.5l0.5 4l0 6l0-4.5l37-120.5l0 4l0-7l0.5 10l0-3l0-11.5l0 20l0-2l0.5-9.5l0 15l0-4.5l0 3l0-21.5l0 4l0.5 3l0 5.5l0-0.5l0 1l0-4l0.5 6.5l0-9.5l0 2.5l0 1l0 8.5l0-0.5l0.5-1l0-18.5l0 26.5l0-9.5l0-5.5l0.5 14l0-25.5l0 20l0-21l0 9.5l0 12.5l0.5-16.5l0-1.5l0 9l0-5l0-7.5l0.5 15.5l0 8l0-0.5l0-15l0 17.5l0-13.5l0.5 13l0-11l0-2l0-0.5l0-9l0.5 15.5l0 0.5l0-9.5l0-1l0-4.5l0 0l0.5 12.5l0-16l0 6.5l0 17.5l0-17.5l0.5 13.5l0 1.5l0-22.5l0 10.5l0-4.5l0.5 1.5l0-7l0 13l0 6l0-4l0-3.5l0.5-7l0 4l0 15.5l0-18l0 0.5l0.5 11l0-16.5l0 15l0-11l0 15l0-6.5l0.5 10l0-12.5l0 8.5l0-9l0 13l0.5-20l0 15l0-14.5l0 3l0 6l0-10.5l0.5 10.5l0 11l0-23.5l0 5l0 15l0.5-21l0 25l0-14l0 2l0-8l0 18.5l0.5 0l0-16l0-0.5l0-1l0 14l0.5-18l0 26l0-6l0-11l0-11.5l0 27l0.5-13.5l0 12l0-16.5l0 18.5l0-20.5l0.5 8.5l0-16l0 25.5l0-12.5l0-11.5l0 6l0.5-4l0 8.5l0-9.5l0 23.5l0-27.5l0.5 16l0-9.5l0 19.5l0-0.5l0 0l0.5-15.5l0 3.5l0 11l0-13.5l0 1.5l0-8l0.5 21l0-9l0-10.5l0 1.5l0-3l0.5 19.5l0-7l0-12l0 22l0-10.5l0 3l0.5-6l0 4l0 7l0 0l0-24.5l0.5 20.5l0-7l0-6l0 6l0 6.5l0-23l0.5 28l0-23.5l0 8.5l0-8l0 26l0.5-7.5l0 5l0-0.5l0-21l0 23l0-15.5l0.5-0.5l0 8l0 7.5l0-8.5l0 1.5l0.5-0.5l0-1.5l0 4.5l0-18.5l0 16.5l0-16l0.5 29.5l0-5.5l0-6.5l0 4.5l0-28.5l0.5 22l0 4.5l0-10l0-11.5l0 10.5l0 8.5l0.5-15l0 3.5l0 14.5l0-19l0 23l0.5-10.5l0-11l0 18.5l0-8l0-0.5l0.5-11.5l0 13.5l0-10l0 14l0-4.5l0-6.5l0.5 0.5l0-11.5l0 6l0 16l0-17l0.5 17l0 2l0 7l0-8l0-21l0 12l0.5 0.5l0 9l0-4.5l0-5l0 4l0.5 6.5l0-4.5l0-8.5l0 5l0-1l0 7l0.5-5.5l0-12l0-6.5l0 24l0-11l0.5 15.5l0-14l0 11.5l0-3l0 2l0 3.5l0.5-14l0-2l0 7l0 2.5l0-20l0.5 0l0 18.5l0 0l0-2l0-9l0 16l0.5 0l0-1.5l0-18l0 16l0 1.5l0.5-5.5l0-10l0 16l0 2l0-6l0.5-4l0 7.5l0-15l0 3l0-0.5l0 9.5l0.5-4.5l0 6l0-19l0 19.5l0-14.5l0.5 1l0 12.5l0 3.5l0-1l0-3l0-11l0.5 12.5l0-13l0 9l0-0.5l0-2l0.5-8.5l0 4l0 14.5l0-5.5l0-13l0 20.5l0.5-1.5l0-10.5l0 13l0-6.5l0-23l0.5 29l0-16l0 0.5l0-1.5l0-3l0-0.5l0.5 4.5l0-8.5l0-1.5l0 22l0-9.5l0.5 4.5l0-5l0 6.5l0 6.5l0-11l0-3.5l0.5-11l0 5.5l0 5.5l0-12.5l0 19.5l0.5-11l0-0.5l0-4l0 3.5l0 20l0-2.5l0.5-9l0-0.5l0 3.5l0 1.5l0 8l0.5-22.5l0 19.5l0-17.5l0-5l0 16l0.5-6.5l0-9l0 4l0 4.5l0 11l0-19l0.5 19.5l0 4l0-5l0 4l0-24.5l0.5 4l0 13l0-14l0 14.5l0 2l0-23l0.5 10.5l0 2.5l0 0.5l0-10l0 12l0.5 11.5l0-14.5l0 6.5l0 9.5l0-7l0 1.5l0.5-7.5l0 8.5l0 1l0 5l0-10l0.5 5.5l0-9l0-6l0 3l0 3l0-7l0.5-4l0 11l0 9l0-9.5l0-9.5l0.5 17l0-17.5l0 6l0-3.5l0 8.5l0 10.5l0.5-22l0 13.5l0 4.5l0 8.5l0-16.5l0.5 6.5l0 9.5l0-20.5l0 11l0-11.5l0-1l0.5 7l0-7.5l0-3l0 13.5l0-9l0.5 6l0-5l0 15l0-19l0 5.5l0.5-8.5l0 15.5l0-12l0-0.5l0 16.5l0 2l0.5-21l0-0.5l0 22l0-10l0-2l0.5 1.5l0 6l0-11.5l0 12l0 2.5l0-7l0.5 9l0-9.5l0-5l0-8.5l0 35l0.5-26.5l0-5.5l0-1l0-0.5l0 14l0 5.5l0.5-12l0 13.5l0-1.5l0-10.5l0 0.5l0.5-4.5l0 10l0 0.5l0-10l0 4l0-15l0.5 6l0 4.5l0-2.5l0 3.5l0 5.5l0.5 3l0 4.5l0-1.5l0-18.5l0 25l0-7l0.5-2.5l0-19l0 9.5l0 6.5l0-3.5l0.5-3.5l0 0.5l0 6.5l0 12.5l0-13.5l0.5-3l0 17l0 3.5l0-9l0-13.5l0 14.5l0.5-14.5l0 13.5l0-10.5l0-8l0 11.5l0.5-9.5l0 14l0-5.5l0 6l0-7l0 10.5l0.5 3l0-13.5l0-5.5l0 20.5l0-21l0.5 18.5l0 1.5l0-18.5l0 7.5l0-1.5l0-9.5l0.5 2.5l0 1l0 9l0-17.5l0 21.5l0.5-7l0-0.5l0 7.5l0-10l0 5.5l0 8l0.5-4l0-11l0 14.5l0-15l0 0.5l0.5 13l0-9l0-6.5l0 20.5l0-19.5l0 10.5l0.5-17l0 27l0-8.5l0-3l0-15.5l0.5-1l0 14.5l0 4.5l0-5.5l0-12l0 23.5l0.5 6.5l0-21l0-2l0 4.5l0 9l0.5-19l0 23l0-22l0 7l0 2l0.5 7l0-20l0 0l0 17l0-9l0-2l0.5-4.5l0 28.5l0-6l0-11l0-4.5l0.5-10l0 20.5l0-16.5l0 17l0 16l0-9.5l0.5 0l0-10l0 5l0-4.5l0-7.5l0.5-1.5l0 12.5l0-10.5l0 11l0-12.5l0-1.5l0.5 8.5l0 9l0-11.5l0 1.5l0 8.5l0.5-1.5l0-0.5l0-0.5l0 8.5l0-18.5l0 5l0.5-13l0 3.5l0 0l0 21.5l0-6.5l0.5-11.5l0 7l0-9.5l0 15l0 0.5l0-27l0.5 13.5l0 9.5l0-15l0 19l0-14l0.5-4.5l0 5l0 3l0-12l0 12l0 9l0.5-17l0 14.5l0-15l0-0.5l0 22l0.5-3.5l0-5l0 2.5l0-14.5l0 21.5l0.5-22.5l0 15.5l0-14.5l0-3l0 24l0-20.5l0.5 17l0-10.5l0 16l0-21l0 13l0.5-3.5l0-7.5l0 10.5l0 2l0 7l0-17l0.5 13l0-1l0-23l0 27.5l0-15.5l0.5 3l0-8.5l0-5l0 8.5l0-9l0 20.5l0.5-7l0 3.5l0-14l0 26.5l0-26.5l0.5 12l0-11l0 11.5l0 6.5l0 2l0-15l0.5 15l0-3l0 5.5l0-19l0 9l0.5-9.5l0 12l0-5.5l0 6.5l0-12.5l0 15l0.5-18l0 19l0-9.5l0-9l0 13l0.5-10l0-0.5l0 11.5l0-10l0-6l0.5 4.5l0 3l0 7l0-15l0 9.5l0 0.5l0.5-8.5l0 12l0 4l0-23l0 11l0.5 12.5l0-10.5l0 1.5l0 10.5l0-15l0 10.5l0.5-12.5l0-5.5l0-1.5l0 24l0 6.5l0.5-17l0 4l0-12l0 12.5l0-1.5l0 4l0.5 4l0-18l0 18l0-6l0-7.5l0.5 16.5l0-11.5l0 8.5l0 3l0-17l0-10.5l0.5 1.5l0 14l0-5l0 0l0-2.5l0.5 5l0 3l0-4l0 7.5l0-1l0-5.5l0.5-12l0 19.5l0-1.5l0 8.5l0-4.5l0.5 3l0-21.5l0-0.5l0 9l0-9.5l0-1.5l0.5 6l0-10l0 28l0-28l0 3l0.5 9.5l0 0l0 0l0 14.5l0 3.5l0.5-25.5l0 3.5l0-2.5l0 20l0-12.5l0-12l0.5 19l0-18l0 10.5l0 0l0-1l0.5 1l0 1l0-0.5l0 6l0-9l0 9.5l0.5 3.5l0-2.5l0-7l3.5 65l0 6l0-5l0.5 10l0-5l0 6.5l0-8l0 5l0-1l0.5 2.5l0-4l0-1l0 3l0 1l0.5-4.5l0-0.5l0 10l0-5.5l0 1.5l0 6l0.5-8.5l0 0.5l0 15l0-14l0 2.5l0.5 3l0-3.5l0 0l0-2l0 11l0-6.5l0.5-2.5l0 13l0 2.5l0-10.5l0-2l0.5 5.5l0-1.5l0 0l0 3.5l0 2l0-4.5l0.5 7.5l0-3.5l0 1.5l0-11.5l0 3l0.5 11l0-11l0 1l0 7l0-4.5l0-3l0.5 7.5l0 0l0 0l0-6.5l0 2.5l0.5 0.5l0-2l0-3l0 7l0 0.5l0 5l0.5-10l0-2.5l0 5.5l0 6l0-7l0.5 3l0-3.5l0 0.5l0 4l0-2l0.5-2.5l0-1l0-0.5l0 5l0-11l0 12.5l0.5-2.5l0 7l0-8.5l0 2.5l0-3l0.5 0.5l0-6.5l0 8l0-3.5l0 4.5l0-5l0.5 10l0-8l0 5l0 0l0-9l0.5 6l0 4.5l0-4l0 0l0 5l0-4l0.5 1.5l0-9.5l0 3l0-2l0 9l0.5 1l0-4l0 4l0-11.5l0 7l0 3l0.5-3l0 4.5l0-15l0 0.5l0 11.5l0.5-12l0 12.5l0-1.5l0-2l0-3l0 2l0.5 0.5l0-4l0-3.5l0 10l0-9l0.5 8l0-4.5l0 3.5l0 0.5l0 2l0-10l0.5 3.5l0 4.5l0 3l0-1l0-3.5l0.5 5.5l0-11.5l0 8l0-2.5l0 11l0.5-7.5l0-5.5l0 6.5l0 1l0-1.5l0-2l0.5 0.5l0 3l0 0.5l0-3.5l0-2.5l0.5 2.5l0-2l0-0.5l0 3.5l0 1.5l0-4l0.5 5l0-7l0 3l0 3.5l0 1l0.5-11l0 12.5l0-7.5l0-2.5l0 5l0 0.5l0.5-3.5l0 0.5l0-0.5l0 5.5l0-7.5l0.5 4.5l0 2.5l0-5l0-3l0-5l0 8.5l0.5 4l0-1l0-5l0 5l0-5.5l0.5 8.5l0-12l0 3.5l0 1l0 3.5l0-8l0.5 8.5l0-3.5l0-5l0 5.5l0-1.5l0.5 6.5l0-6l0 3l0-3.5l0-0.5l0.5-4l0 4.5l0-4l0 11.5l0-6.5l0 1.5l0.5 0.5l0-2.5l0 5.5l0-8.5l0 0l0.5 7l0-3l0-0.5l0 7.5l0-5l0 0.5l0.5-4l0-4l0 6l0-5.5l0 8.5l0.5-2l0 2.5l0-7.5l0 8.5l0 0l0 0l0.5-8l0-0.5l0 4l0-0.5l0-2l0.5-0.5l0 6.5l0-2l0-7.5l0 7l0 0l0.5-6.5l0 8.5l0-7.5l0 2.5l0-4l0.5 3.5l0 4.5l0 4l0-1l0-3.5l0 0.5l0.5-0.5l0 4l0-7.5l0 7.5l0-7.5l0.5-1.5l0 10.5l0-3.5l0 1l0-3.5l0-5.5l0.5 8.5l0-9.5l0 11l0-2l0 3l0.5-12l0 2l0 7.5l0-4.5l0 4l0.5-10l0 3.5l0-2l0-0.5l0 7l0 4.5l0.5-6l0-4.5l0 0.5l0 4l0 4l0.5-7.5l0 2.5l0-4.5l0 7l0-4.5l0-3l0.5 5l0 2.5l0 2l0-6l0-4l0.5 12l0-6l0 5l0-1.5l0 0.5l0-4l0.5 3.5l0-10l0 10.5l0-2l0 3l0.5-1l0-3l0-4.5l0 2.5l0 2.5l0 3.5l0.5-4.5l0-1l0 2.5l0 3.5l0 2l0.5-6l0-2l0 1l0 1l0-7l0-0.5l0.5 8.5l0 1l0 4l0-6l0 0.5l0.5 2.5l0-1.5l0-6l0-4l0 6l0 1.5l0.5-1.5l0 4l0-3.5l0 0l0 2l0.5-2l0 3.5l0-7l0 9.5l0 3l0.5-8l0-4l0 4l0 0l0 4.5l0-11.5l0.5 1l0 3l0 3l0 3l0-9l0.5 11.5l0-5.5l0 1l0-4l0 5l0-1.5l0.5 6l0-1l0-10l0 6.5l0 1l0.5-8.5l0 8l0-2l0 2.5l0-8.5l0 7.5l0.5 0l0 8.5l0-4l0-0.5l0-1.5l0.5-4.5l0-1.5l0 3.5l0-5l0 4.5l0-1.5l0.5 2l0-1l0 1.5l0-8.5l0 2l0.5 1.5l0 5.5l0-3.5l0 6l0-6.5l0 3.5l0.5-11l0 12l0 3.5l0-3.5l0-4l0.5 1.5l0-6l0-2l0 10.5l0-9l0.5 3l0-5l0 8l0 4.5l0-3l0-1.5l0.5 4l0-7.5l0 5.5l0 2.5l0-10l0.5 5.5l0 4l0 1.5l0-4l0-7.5l0 10l0.5-9l0 2.5l0 6l0-0.5l0 2l0.5-9l0 3l0 0l0 5l0-3l0-2.5l0.5 6.5l0 5l0-4.5l0-9.5l0 2.5l0.5 7l0-6.5l0 2l0 0l0-3.5l0-0.5l0.5 1.5l0-5l0 0.5l0 4.5l0 8l0.5-4.5l0 3l0 0.5l0-2l0-7l0 1.5l0.5-2l0 6l0-5.5l0 7.5l0-1.5l0.5-5l0 4l0 1l0 0l0-0.5l0-8.5l0.5 8.5l0-2l0-6l0 11l0-5l0.5-1l0 0.5l0 0l0-0.5l0 2l0.5-7l0-4l0 8.5l0 0.5l0-3.5l0 10.5l0.5-6l0-1l0-5.5l0 2l0 10.5l0.5-6.5l0-5l0 0l0-1l0 11.5l0-1l0.5-1l0-3l0 0l0-7l0 13l0.5-9.5l0 10.5l0-5l0-3l0 5.5l0-4.5l0.5 3.5l0-3.5l0-2l0 3.5l0-0.5l0.5-4.5l0-5l0 7l0 0l0-2.5l0 4l0.5 1l0-3l0 0l0 6l0-9.5l0.5-2.5l0 9l0-4l0 4l0-3.5l0 3.5l0.5-2l0-3.5l0 5l0-4.5l0-3l0.5 6.5l0-2l0 4.5l0-2.5l0-0.5l0 7.5l0.5-1.5l0-7l0-1.5l0 1.5l0 7.5l0.5-7l0-6.5l0 7l0-4.5l0 1.5l0.5-1l0 12.5l0-2.5l0-4.5l0 0l0-1l0.5-2.5l0-4l0 1l0 4l0 3.5l0.5-1l0 4l0-10.5l0-1.5l0 1.5l0 12l0.5-5.5l0-4.5l0-3l0 3.5l0 10.5l0.5-5l0-7l0 6l0-4.5l0 5l0-3.5l0.5-2l0 2.5l0-7.5l0 4.5l0 5.5l0.5-5.5l0 0l0-0.5l0 9.5l0-2l0-8.5l0.5 11l0-11l0 12.5l0-10.5l0 0.5l0.5-4.5l0 4.5l0 2.5l0 0.5l0 2l0 0.5l0.5-5.5l0 6.5l0 2.5l0-10.5l0 3.5l0.5 5.5l0-8l0-2.5l0 12.5l0-1.5l0.5-6l0-1.5l0 4l0 1.5l0-0.5l0-2l0.5-2.5l0-2l0-1l0 10.5l0-10.5l0.5 6.5l0 1.5l0-8.5l0-1.5l0 11l0 1.5l0.5-2.5l0-2l0 3.5l0-12l0 7.5l0.5 3l0-3.5l0 1l0 0.5l0-8.5l0 5.5l0.5 2.5l0-5.5l0 5l0 4.5l0-3.5l0.5-2.5l0-2l0-1.5l0 0.5l0 2l0 7.5l0.5-10.5l0 3.5l0-6l0-2.5l0 9l0.5 2l0-5.5l0-4.5l0 10.5l0-7.5l0 6l0.5 2l0-6l0 5l0-3l0 3.5l0.5 1l0-5l0-3l0 6l0-2.5l0 6l0.5-2.5l0-1l0 2l0-5l0 3l0.5-1.5l0-0.5l0-1l0 6.5l0 0l0.5-10.5l0 6.5l0 1l0 2l0-5.5l0 1.5l0.5-8l0 9l0 9l0-17l0 15l0.5-13.5l0 9.5l0-9.5l0 0.5l0 3.5l0 1.5l0.5 4.5l0 6l0-9.5l0 4l0-13.5l0.5 11.5l0 1.5l0 0l0-7.5l0-5.5l0 3.5l0.5 3l0 4l0-2.5l0 6.5l0-7l0.5-0.5l0 5.5l0-11.5l0 3l0 7.5l0-5l0.5 4.5l0-4.5l0-1l0 1.5l0 1l0.5-2l0 5.5l0-7l0 8.5l0 0.5l0-8l0.5 6l0-7l0 7.5l0-7l0 6l0.5-2l0 3.5l0-7l0 2l0-5.5l0.5 11l0-6.5l0 4l0-0.5l0-1.5l0-2l0.5 1.5l0 7l0-4.5l0-10l0 6.5l0.5 7l0-10l0 5.5l0 15l0-20l0 1l0.5 0.5l0 6l0-5.5l0 5.5l0-9.5l0.5 8.5l0-4l0 4.5l0-2.5l0 0l0-4l0.5 8.5l0-9.5l0 12l0-2.5l0-4l0.5-5.5l0 9.5l0-7.5l0 3l0-4.5l0 3.5l0.5 3.5l0-2.5l0-4.5l0 1l0 7.5l0.5 3l0-3.5l0-7.5l0 6l0-3.5l0-0.5l0.5 9l0-9l0 1l0 6.5l0-9l0.5 9l0-1.5l0-9.5l0 4l0 7.5l0-3.5l0.5-3l0-8l0 3.5l0 0l0 0.5l0.5 3l0-4l0 4.5l0 3l0-5.5l0.5 3l0-1l0 1.5l0-2l0-3l0 4.5l0.5 0.5l0-0.5l0-1.5l0-1.5l0 8l0.5-3l0 1l0-3l0 0l0 3l0-1.5l0.5 2.5l0-10l0 1l0 0.5l0 4.5l0.5-4.5l0-0.5l0 14.5l0-6.5l0-6.5l0 3.5l0.5 4.5l0-9l0-3.5l0 2.5l0 4l0.5 6l0-7.5l0-3l0 4.5l0 0l0-2l0.5-0.5l0-2l0 5.5l0-2.5l0 10l0.5-9.5l0 1.5l0-2l0 3l0-5.5l0 4.5l0.5-2l0 9l0-12.5l0 12.5l0 1l0.5-12l0 6l0 4.5l0-9l0 7l0-10.5l0.5 9.5l0-3l0 2.5l0 0.5l0 0l0.5 0.5l0 1l0-8l0 1.5l0 7l0.5-6l0 1l0 4l0-4.5l0 3.5l0-1.5l0.5 1.5l0-6l0 6.5l0-6.5l0 1.5l0.5 3.5l0-3l0-5l0 10l0-4l0 5l0.5-1.5l0-7.5l0 9l0-3.5l0-3l0.5 6l0-2.5l0 1.5l0 2.5l0-6l0 5.5l0.5-4l0 4.5l0-1l0-9l0 2l0.5 0l0 5l0 1l0 0.5l0 3.5l0-8l0.5-5l0 1l0-2.5l0 7.5l0-4l0.5 9.5l0-13.5l0 2.5l0 2l0 1.5l0 2l0.5-6l0 3.5l0 4l0-7l0 4.5l0.5 6.5l0-13.5l0 3l0 7l0-1.5l0.5-3.5l0-1l0 2l0 5.5l0-7l0 4l0.5-6.5l0 3.5l0-2l0 1l0 6l0.5-6.5l0-0.5l0 5.5l0 1l0-1l0 3l0.5-5l0-2.5l0 6l0-7l0 1.5l0.5 0l0 8l0-8.5l0 1l0 0.5l0 0.5l0.5-2l0 0.5l0-3l0 7.5l0-10.5l0.5 5.5l0 3l0 3.5l0-9l0 4l0-2l0.5 0.5l0 3l0-2.5l0 4l0-3l0.5 6l0 1l0-9l0 6.5l0-2.5l0 3l0.5-10l0 10l0 3l0-5.5l0-3l0.5-2l0 7l0-5l0 6.5l0-5.5l0-4l0.5 14.5l0-3.5l0-6.5l0-1l0 3l0.5-3.5l0 10.5l0-10l0-6.5l0 12l0.5-6.5l0 1.5l0 1l0-1l0 0.5l0 4l0.5-5l0 0.5l0-3l0 6l0 4l0.5-11l0-1l0 3l0-6l0 5l0 4.5l0.5-2.5l0 0.5l0 2.5l0-0.5l0-6.5l0.5-1.5l0 8.5l0-8l0 3.5l0-5l0 10.5l0.5-5.5l0 8.5l0-12.5l0 3l0-4l0.5 7.5l0-2l0-4l0 1l0 5l0 2.5l0.5-6.5l0 1.5l0 7l0-7l0 1.5l0.5-1l0 6.5l0-2l0-1.5l0-8l0 6.5l0.5-0.5l0 3l0-7l0 6l0 2l0.5-1.5l0-4.5l0-4.5l0 5l0-1.5l0 8.5l0.5-2.5l0-7.5l0 9.5l0-2l0-1l0.5 0.5l0-3.5l0 7.5l0-2l0-5l0.5 6.5l0-5.5l0 3.5l0-5.5l0 6.5l0 0l0.5-1l0-1l0-4.5l0 6.5l0-2l0.5 0.5l0 1.5l0-2.5l0-8l0 7.5l0 6l0.5-9.5l0 2.5l0-3l0 8l0-2.5l0.5-4l0 3l0-5.5l0 3l0 7l0-3l0.5 0l0-5.5l0 3l0-3l0 3l0.5-5l0 1.5l0 1l0 7.5l0-2.5l0-9l0.5 5l0 2.5l0-8l0 13.5l0-14l0.5 7l0 2l0-5l0-3.5l0 3.5l0 1l0.5 5l0-2l0-4.5l0 6l0-3.5l0.5 2.5l0 4l0-1.5l0-2l0 3.5l0.5-1.5l0-7l0 8.5l0-2.5l0-0.5l0-6l0.5 0l0-2l0 1.5l0-3l0 3.5l0.5 1l0-1.5l0 9.5l0 0.5l0-5.5l0-4l0.5 10l0-4l0 1l0-1.5l0-8l0.5 9l0 0l0-1.5l0 4.5l0-11l0 3.5l0.5-1l0 6.5l0-11.5l0 11l0-7l0.5-1l0 11.5l0-5l0-1l0-7l0 1l0.5 0l0 8.5l0-7l0 5l0-7.5l0.5 12l0 1.5l0-6l0-6.5l0 9l0-8.5l0.5 1.5l0 0l0 10l0-10.5l0 1.5l0.5 8l0-5.5l0 0l0 8l0-5.5l0-1l0.5-4l0 4l0 5.5l0-3l0-0.5l0.5-1l0-5.5l0 0l0 4l0-5.5l0.5 6.5l0-3l0-3.5l0 9l0 2l0-12.5l0.5 2l0-2l0 7l0-10.5l0-1.5l0.5 9l0 4l0 0l0 2l0-2.5l0 0l0.5 0.5l0 0.5l0 2.5l0-0.5l0-7l0.5 1.5l0-4l0 5.5l0 1.5l0 4l0-9l0.5 0l0-0.5l0 3l0-4.5l0 3l0.5 2.5l0-1.5l0 0l0 6l0 0.5l0-3l0.5-3.5l0 2l0-2.5l0-1l0 0.5l0.5-0.5l0 5.5l0-11l0 1l0 12l0 1.5l0.5-4l0 4l0-12l0 4l0-4.5l0.5 12l0-6l0-0.5l0-7.5l0 8.5l0.5-5.5l0 3.5l0-1.5l0-0.5l0-1.5l0-2l0.5 10l0-5.5l0 4.5l0-5l0 11l0.5-15.5l0 10l0-2.5l0-4l0 2l0 5.5l0.5 0l0-8l0 5l0-0.5l0 5l0.5-5.5l0 1.5l0-1.5l0-1.5l0 2.5l0 0l0.5 0.5l0-3.5l0 2.5l0 6.5l0-9.5l0.5 7.5l0-3.5l0-5.5l0 2.5l0-2l0 5.5l0.5-5l0 7.5l0 0.5l0-1l0-2.5l0.5-6l0 7l0-5.5l0-4.5l0 9.5l0-3l0.5 5.5l0-9.5l0 7.5l0-0.5l0-9.5l0.5 5l0 2l0-1l0-1l0 1l0-0.5l0.5 8l0-1.5l0-6.5l0 1l0-4.5l0.5 5l0-5l0 6.5l0 6.5l0-1.5l0.5-8.5l0 4.5l0-2l0 4l0 4l0-13.5l0.5 3.5l0 3.5l0-6l0-0.5l0 3l0.5 0.5l0-5l0-0.5l0 7l0-6.5l0 2l0.5 1.5l0 0.5l0-2l0-5.5l0 3.5l0.5 2.5l0 0.5l0 1l0 4.5l0-1l0-6.5l0.5 9l0-8.5l0 11l0-4l0-5l0.5-4.5l0 12l0-4l0 2l0 3l0-4l0.5-3.5l0 0l0 0.5l0 3l0 2l0.5-5.5l0 3.5l0-1l0-9l0 12.5l0-4.5l0.5-1.5l0 7l0-8l0 8.5l0-0.5l0.5-4l0 1l0-2.5l0-4.5l0 1.5l0-6.5l0.5 13l0-3.5l0-7l0 4.5l0 10l0.5-4l0-5.5l0 2l0 2.5l0-8.5l0.5 17l0-10l0-1l0-9l0 3.5l0-3l0.5 3l0 2l0 7l0-8.5l0-3l0.5 9.5l0 5l0-4.5l0 1l0-0.5l0-3l0.5 4.5l0 1.5l0-4.5l0-9.5l0 5l0.5-1.5l0 8l0-4.5l0-1l0 3l0-0.5l0.5-1l0-0.5l0 2l0-5l0 5.5l0.5-1l0 0.5l0-7l0 10l0-9.5l0 11.5l0.5-3l0 3l0-8.5l0-6l0-0.5l0.5 11.5l0 0.5l0-7.5l0 11l0-8.5l0-3.5l0.5 10l0 1l0 2l0-2l0-3.5l0.5-0.5l0 6l0-3.5l0-5.5l0-3l0.5 2.5l0-3l0 8.5l0-5l0 2.5l0 0l0.5 4l0 3l0-11l0-2.5l0-4l0.5 2.5l0 7.5l0 3l0-10.5l0 14l0-12.5l0.5 5.5l0 2.5l0 4l0-5.5l0 6l0.5-11.5l0 3.5l0 3.5l0 0l0 5l0-2l0.5-2l0 1.5l0-5.5l0 6l0-8.5l0.5 2l0 5l0 5l0-10.5l0 6.5l0-4l0.5-7.5l0 0.5l0 9.5l0 0l0-0.5l0.5 4l0-15.5l0 3.5l0 4.5l0-6.5l0 18.5l0.5-6.5l0-1l0-8l0 9l0-0.5l0.5 2l0-1l0-1.5l0-8l0 8.5l0-7l0.5 0.5l0 5l0-8l0 8.5l0 1.5l0.5 1.5l0-11l0 1.5l0-1l0-1l0.5 7l0-7.5l0 9l0 1.5l0 1l0 1.5l0.5-10l0 9l0-7l0-5l0 4l0.5 7.5l0-3l0-0.5l0-0.5l0 6.5l0 3.5l0.5-13.5l0 2l0-9l0 10.5l0-2.5l0.5-3l0 11l0-11l0 2l0 1.5l0-2l0.5-2l0 1.5l0 2.5l0 5.5l0-13l0.5 16.5l0-4l0 0.5l0-0.5l0-10l0 5.5l0.5-4l0 2.5l0 4l0 0l0-2.5l0.5-1l0-4.5l0 9l0-8.5l0 2l0-3.5l0.5 4l0-1.5l0-4l0 8.5l0-3.5l0.5-2l0-3.5l0 10l0 5l0-9.5l0-3l0.5 10.5l0-3.5l0 4l0 2l0-3.5l0.5 3l0-3l0-6.5l0 3l0-4.5l0.5 6l0-0.5l0 2l0-7.5l0 2.5l0 1l0.5 8l0-2.5l0-8.5l0 5.5l0-4l0.5-2.5l0-2.5l0 8l0 2l0-7.5l0-1l0.5 5.5l0 5l0 6.5l0-18l0 3l0.5 5l0 4.5l0-2.5l0 4l0-11l0 14.5l0.5-9l0-7l0 4l0-5l0 6.5l0.5-6l0 3l0 1.5l0 2l0-5.5l0 8l0.5-0.5l0-6.5l0 6.5l0-2.5l0-3.5l0.5 5l0 3.5l0-6l0-4.5l0 6.5l0-5l0.5 6.5l0-3l0 5l0 0l0-4.5l0.5-6.5l0 14l0-8l0-5l0 7.5l0.5 2l0 1l0-4l0-3.5l0 5.5l0 2.5l0.5-11l0-3l0 12.5l0-2l0-4.5l0.5 3l0 3l0-4.5l0-4l0 9l0-8l0.5-3l0 11l0-7l0-2.5l0 9.5l0.5-1.5l0 3l0-9.5l0 6l0-2.5l0 3l0.5-2.5l0 0.5l0 0.5l0 4.5l0-8l0.5 9.5l0-15l0 11.5l0-7l0-2.5l0-0.5l0.5 1.5l0 10l0-6l0 4l0 0l0.5-4l0 1l0-4l0 11l0-12.5l0 2.5l0.5 6l0-8l0 5.5l0 2.5l0-0.5l0.5 4l0-10l0 6.5l0 3.5l0-3.5l0-7.5l0.5 7l0-8.5l0 0l0 7.5l0-4l0.5 1l0 2l0 1l0 2l0 0.5l0.5-11l0 11.5l0-3l0 2.5l0-4l0-1.5l0.5 6.5l0-5.5l0 4.5l0-6.5l0-5l0.5 2.5l0 9l0-1l0-7.5l0-3.5l0 14l0.5-4l0 1.5l0-1l0 1l0-1l0.5-6.5l0 6.5l0-3.5l0 3l0 0.5l0-1l0.5 1.5l0-7l0 4l0-0.5l0-5l0.5-1l0 10.5l0-9l0 0.5l0-1l0 10l0.5-6.5l0 8.5l0-5l0-8l0 3l0.5-3.5l0 11.5l0-12.5l0-1.5l0 4.5l0 4l0.5 3.5l0 0.5l0-0.5l0-7.5l0 3.5l0.5 1.5l0 4.5l0-1.5l0 3l0-14.5l0 6l0.5-3l0 7.5l0-3l0 5l0-7.5l0.5 10.5l0-11.5l0 4l0-4l0 7.5l0.5-7l0 5.5l0-1l0-4.5l0 5.5l0-3l0.5 9l0-9.5l0 8l0 0.5l0-6l0.5 2l0-7.5l0-1.5l0 9l0-0.5l0 5.5l0.5-5l0-3l0-1l0 0.5l0-7l0.5 3.5l0 2.5l0 0l0 8l0-4.5l0 2.5l0.5-1l0-7l0 3l0 4.5l0-7.5l0.5 0.5l0 8l0-11.5l0 2.5l0 8l0 3l0.5-2.5l0-0.5l0-2.5l0-0.5l0-2.5l0.5-1l0 2l0 1l0 5.5l0-9l0 5.5l0.5-5l0 1.5l0 6l0-7.5l0 2.5l0.5 1.5l0 4l0-5l0 5.5l0-9.5l0.5 1l0 5.5l0-7.5l0 5l0 6l0-12l0.5 10.5l0 2l0-5.5l0 5.5l0-5l0.5 5.5l0-3l0-3.5l0 2.5l0-9l0 2.5l0.5-2.5l0 4l0 3.5l0-4.5l0 9.5l0.5 1.5l0-9.5l0 2.5l0-2l0-6.5l0 3l0.5 7l0-8.5l0 8l0-3l0-4.5l0.5 2l0 1.5l0 8l0-8.5l0 1.5l0 1.5l0.5-3l0 7l0-5.5l0-2.5l0 6.5l0.5 0.5l0-4l0 2l0 6.5l0-6l0 3l0.5-8l0 0l0-5.5l0 8l0 6.5l0.5 2l0-12.5l0 6l0-0.5l0-1.5l0 0.5l0.5-3l0 4.5l0 3.5l0-8l0 0l0.5-1.5l0-1l0 8l0-2l0 5.5l0.5-7.5l0-5l0 6.5l0-2.5l0 6.5l0-0.5l0.5 1.5l0-12l0 5l0 3.5l0 3l0.5 2l0-0.5l0-9.5l0 8l0-2.5l0 2l0.5-3l0 8l0-13.5l0 1l0-2.5l0.5 8l0-3l0-3.5l0 6l0-4.5l0 3l0.5-4l0 6l0 2.5l0-7l0 0l0.5-1l0 8.5l0-2.5l0 2.5l0-2.5l0-8.5l0.5 12l0-8l0 2.5l0-2l0-4l0.5 4.5l0 0l0-1l0 8.5l0-5l0-8l0.5 6.5l0 7.5l0-2l0 0l0-5l0.5-6l0 9.5l0 0.5l0-7.5l0-4l0.5 15l0-11.5l0 9.5l0-11l0 4.5l0-5.5l0.5 2l0-4l0 4l0 6.5l0 3l0.5-7l0 5l0-11.5l0 16l0-10.5l0-2.5l0.5 1l0 2l0 2.5l0 0.5l0 2.5l0.5-11l0 8.5l0-2l0 2l0-3.5l0-2l0.5 7.5l0-0.5l0-10.5l0 2.5l0-1l0.5 0.5l0 0.5l0-1l0 11l0-7.5l0-4.5l0.5 7l0 0l0 1.5l0-10l0 6l0.5-2l0 0.5l0 7l0-2.5l0-8.5l0 16l0.5-4l0-2.5l0-0.5l0 2.5l0-1.5l0.5-8l0 7l0-1.5l0-2l0 4.5l0-9l0.5 8.5l0-1l0-7l0 6.5l0 1l0.5 1l0-7l0 2l0 6.5l0-8l0.5 0l0 11l0-6.5l0 2.5l0-4.5l0 9.5l0.5-2l0-6.5l0-6.5l0 3l0 7l0.5-9l0 1l0 4.5l0 6.5l0 1.5l0-0.5l0.5-12.5l0 1l0-1l0 6.5l0-2l0.5 2.5l0 0l0-8.5l0 1l0 5.5l0 4l0.5-5l0 4l0-8.5l0 10l0-1.5l0.5-2.5l0 0.5l0 2.5l0-6.5l0 3l0 5.5l0.5-2l0-4.5l0 5.5l0 1.5l0-2l0.5 0.5l0 0l0-9l0 1.5l0 5.5l0-5.5l0.5 4l0-1l0 9.5l0-4.5l0-3l0.5-6l0 2.5l0 7.5l0-5l0-5.5l0 0.5l0.5 5l0 2l0 0.5l0 3.5l0-9.5l0.5-2l0 4l0-1.5l0 6l0 1.5l0.5-5.5l0 3.5l0-6l0 4.5l0 3l0-3l0.5 2.5l0 1l0-4l0 3.5l0-0.5l0.5 4.5l0-13l0 8.5l0-1.5l0-4l0 3l0.5 1l0-4l0-1.5l0 19.5l0-9l0.5-12l0 4.5l0 4.5l0-7l0 4l0-2.5l0.5 5l0 0.5l0-7.5l0 6l0 0l0.5-2l0 5.5l0-11l0 1.5l0-1.5l0 2.5l0.5 8l0-10l0 2l0 6.5l0-1l0.5-1l0 1l0 2l0-2.5l0 3l0-7l0.5-2l0 5l0-2l0 7l0-18l0.5 7l0-0.5l0 13.5l0-10.5l0 5l0.5 5l0-4l0-1.5l0-2.5l0 3l0-2.5l0.5 1.5l0 0l0 2.5l0-7l0 4.5l0.5-8l0 4.5l0-0.5l0-4.5l0 5l0-1.5l0.5-3l0 1.5l0 1.5l0 9l0-9.5l0.5 3.5l0-2l0 6.5l0-4.5l0-6l0 2.5l0.5-3l0 5.5l0-2.5l0 2.5l0 2l0.5-7.5l0-0.5l0 12l0-12l0 14l0-8.5l0.5 13l0-20l0 3.5l0-2.5l0 8.5l0.5-1.5l0-2.5l0-0.5l0 5.5l0-8l0 9l0.5-2l0-4.5l0 6.5l0-1l0 4.5l0.5-2.5l0 3.5l0-4.5l0-6.5l0 2.5l0 2l0.5 0.5l0 4l0-12l0-2l0 3.5l0.5 3.5l0 3l0 6l0 2l0-11.5l0.5 5.5l0 1.5l0-1l0-3l0-9l0 8l0.5 11l0-18l0 10l0-2l0-7l0.5 2l0 4l0-1.5l0 8.5l0-14.5l0 5.5l0.5 8l0-1l0-9.5l0-2.5l0 5.5l0.5 6.5l0-6l0-1l0 6l0 3l0-9.5l0.5 1.5l0-6l0 8.5l0 1l0 2l0.5-8.5l0-4l0 10l0 6.5l0-6l0-1.5l0.5-2l0-2.5l0 8l0-7.5l0 3.5l0.5-1l0-8l0 4.5l0-0.5l0 4.5l0 3l0.5-4.5l0 6l0-3.5l0 2.5l0-5l0.5-3.5l0 2.5l0 0l0 10.5l0-15l0 10l0.5 0.5l0-9l0 1.5l0-2l0 10l0.5-5.5l0-1l0 5l0 1.5l0-2l0.5-8.5l0 5l0 7l0-8l0-1.5l0-1.5l0.5 8.5l0 1l0-0.5l0-3l0-3l0.5 9.5l0-8l0-8l0 7.5l0 7.5l0-10l0.5 5l0 3.5l0-2l0-2l0-2.5l0.5 0.5l0 2l0-2.5l0 9l0-12.5l0 0l0.5 5.5l0-2.5l0 11.5l0-8l0 1.5l0.5 0.5l0 1.5l0-10.5l0 4.5l0 0l0 8l0.5-10.5l0 3l0-8l0 7.5l0 4l0.5-6l0-1.5l0 5l0-5.5l0 3.5l0-1l0.5 3l0-3.5l0 9.5l0-1.5l0-1.5l0.5-7l0 1.5l0-3.5l0 0.5l0 11l0.5-0.5l0 10.5l0-21.5l0 11.5l0-4.5l0-4.5l0.5 11.5l0-12.5l0-0.5l0 11.5l0-8l0.5-5l0 1.5l0 5l0-1.5l0 7.5l0 1.5l0.5 0l0-7l0-2l0-6.5l0 8.5l0.5-5.5l0 1l0 5l0-2l0 0l0-4l0.5 3.5l0-0.5l0 6.5l0-4.5l0 7.5l0.5-12.5l0 9.5l0-5.5l0 5.5l0-2.5l0-5l0.5 7l0 4l0-7l0 4l0-4.5l0.5 8.5l0-6l0 3l0-11.5l0 3l0-6l0.5 8l0 6l0-5l0-0.5l0-3.5l0.5 5l0 6.5l0 0l0-2.5l0-5.5l0 2l0.5-5.5l0 4.5l0 4l0-4.5l0-4l0.5-3l0 13l0-5.5l0-2.5l0 0.5l0.5 9l0-13l0 9l0-2l0-9.5l0 4.5l0.5-3l0-1l0 3.5l0 1l0-2.5l0.5 1.5l0 1l0-3.5l0 9.5l0-9l0 6l0.5 7l0-9l0-4l0 9.5l0-3.5l0.5-2.5l0 3l0 2l0 3.5l0-10.5l0 8l0.5-4.5l0 8.5l0-2.5l0-4l0 6l0.5-2.5l0-8.5l0 8.5l0-9l0 3l0 0.5l0.5 3l0-6.5l0-4.5l0 6.5l0 6l0.5 6.5l0-7.5l0-3l0-5l0 4l0-0.5l0.5 1l0-0.5l0 6.5l0-12.5l0 4l0.5 2l0 6.5l0-13l0 1.5l0 9.5l0 3l0.5-7.5l0-1.5l0 0l0 5l0-8.5l0.5 6l0-1l0-1.5l0-1l0 8.5l0.5 1.5l0-5l0-2.5l0 4.5l0 0.5l0 3.5l0.5-7.5l0-3l0 4.5l0-3.5l0-4.5l0.5 7.5l0 1.5l0-3l0 3l0-5l0-5l0.5 6l0 7l0-10l0 6.5l0 4l0.5-9l0-2.5l0-1.5l0 14.5l0-1l0-12l0.5 5.5l0-2.5l0 5l0-2.5l0-6l0.5 11l0-4l0 3.5l0-9.5l0 0.5l0 9.5l0.5-3l0-7l0 2l0-0.5l0 10l0.5-7l0-5l0-1l0 1.5l0 3.5l0 7l0.5-1l0-12l0 11l0-2l0 0.5l0.5-1.5l0-5.5l0 6.5l0-4.5l0 4l0.5 0l0-2l0 2.5l0 0l0 1.5l0-3.5l0.5-4.5l0 6l0-4.5l0 1l0-4.5l0.5 0.5l0 7l0 5.5l0-6.5l0 4.5l0 1l0.5-8.5l0-1l0-0.5l0 2l0 3l0.5-4l0 5l0-5l0 5l0-4l0-2l0.5 10l0-6.5l0 7l0-10.5l0 12l0.5-1.5l0-4l0-3.5l0 1l0 4.5l0-2l0.5 0l0 3.5l0-10.5l0 10.5l0 4l0.5-13l0-0.5l0 4l0-3.5l0-3l0 5.5l0.5-2.5l0 6l0 0l0 4.5l0-9l0.5 10.5l0-4.5l0-6.5l0 2l0 1.5l0-7l0.5-1l0 7l0 4.5l0 3l0-3.5l0.5-6.5l0 8.5l0 2l0-8.5l0 5.5l0.5-6l0 2.5l0-9.5l0 11l0 4l0-5.5l0.5 3.5l0-6l0 8l0-5l0 5l0.5-6.5l0-1l0 0l0 8l0-8.5l0-1l0.5 9.5l0-13l0 13l0-2l0-6.5l0.5 4.5l0 1.5l0-6.5l0 4l0 3l0-2l0.5-0.5l0 5l0-0.5l0-14l0 6.5l0.5-2l0 2l0-1.5l0 1l0-0.5l0 0l0.5 7l0-7l0-1.5l0 6l0-3l0.5-9l0 1.5l0 7l0 0.5l0-4l0 7.5l0.5-8.5l0-1l0 10.5l0-6l0 5l0.5 2l0-1l0-10.5l0-1l0 7l0.5 7l0-8.5l0 8.5l0-11.5l0 8l0-9.5l0.5 2.5l0-1l0 7l0-0.5l0 20.5l0.5-17l0-9.5l0 9.5l0-8l0 7l0-2.5l0.5-5l0 3l0 6l0-7l0-1l0.5 0.5l0 9.5l0-3l0-4l0 9.5l0-9l0.5-2l0 4l0 2l0-12l0 4.5l0.5 3l0 0.5l0 2.5l0-5l0 6.5l0-6l0.5 5.5l0 1l0 0l0-6l0 6.5l0.5-5l0 0.5l0-2l0 3.5l0-1l0-4l0.5 5l0 0l0 3l0-3.5l0 5l0.5-5l0-2.5l0 5.5l0-11.5l0 12l0-10l0.5 9.5l0-10l0-1.5l0 7.5l0 5l0.5-3.5l0-3l0 8l0-4.5l0 2.5l0.5-11.5l0 3.5l0-1.5l0-2l0 5l0-10l0.5 2l0-2.5l0 12l0 1l0-4l0.5 5l0-2l0 1.5l0-8l0 2.5l0 8l0.5-12l0 13.5l0-8.5l0 7.5l0-12.5l0.5-2l0 8l0 3l0-1l0-5.5l0 1.5l0.5 2.5l0 9.5l0-10l0 0l0-6.5l0.5 13.5l0 1.5l0-5.5l0-6.5l0 3l0 2.5l0.5 2.5l0-0.5l0-4l0-4.5l0-0.5l0.5 10.5l0-6.5l0-0.5l0 1l0-1.5l0-3l0.5 1.5l0 7.5l0 3.5l0 0l0-4l0.5-13l0 11l0 4.5l0-8.5l0-0.5l0 4l0.5-1l0 4.5l0-8l0 7l0-5.5l0.5 2.5l0 4l0-5l0 1.5l0 1.5l0.5 0l0-4l0 5.5l0-7l0-2.5l0 2l0.5 8.5l0 1l0-10l0 4.5l0-4.5l0.5 2.5l0 10l0-9l0 8l0-10l0 2l0.5 4.5l0 0l0-1l0-0.5l0-1.5l0.5 5.5l0-6.5l0-1l0 1.5l0 9l0-7.5l0.5-3.5l0-3l0 6.5l0 3.5l0-6.5l0.5-3.5l0 6l0 0l0-4.5l0 13l0-7l0.5 2l0-4.5l0-4l0-0.5l0 2.5l0.5 2.5l0 5.5l0-15l0 17l0-13.5l0 5.5l0.5 8.5l0-1.5l0-14.5l0-1l0 15l0.5-8l0 4.5l0-1.5l0-4.5l0 3l0.5 0.5l0 4.5l0-8.5l0 10.5l0-7l0 4.5l0.5-6.5l0 5.5l0-6l0 9.5l0-2.5l0.5-3l0 5.5l0-5l0 5l0-13l0 5.5l0.5 0.5l0 3.5l0-7.5l0 8l0-4.5l0.5 9l0-9.5l0-0.5l0 0.5l0 5.5l0-5l0.5-0.5l0 3l0 2l0-9.5l0 4l0.5 6l0-0.5l0 5l0-7.5l0-1l0-6.5l0.5 6l0 0.5l0-2l0-5.5l0 8.5l0.5 3l0-13l0 8l0 3l0-9l0 13l0.5-3.5l0-2.5l0-4l0 3l0-5.5l0.5 11l0-2l0-1l0-6.5l0 10.5l0-9l0.5 10l0-6.5l0-6l0 10.5l0-3l0.5-4.5l0 6.5l0-7l0 6.5l0-9l0.5 7l0 1.5l0 1.5l0 0l0-9l0 5l0.5 6l0-7.5l0-2.5l0 3.5l0 7l0.5-4l0 4.5l0-6.5l0 5l0-7l0 2l0.5-9l0 9.5l0-2.5l0 5.5l0-9l0.5 5.5l0 5l0-2.5l0-7.5l0 2.5l0 0l0.5 13.5l0-4l0-7.5l0 1.5l0-3.5l0.5-0.5l0 2l0 0.5l0-7l0-2.5l0 13l0.5-8.5l0 2l0 9.5l0 1.5l0-8l0.5 1l0 3.5l0-8.5l0 11.5l0 4l0-9l0.5-11l0 4.5l0 10.5l0-11l0 2l0.5-2.5l0 3l0-4.5l0 9.5l0-6l0 2l0.5-6l0 2l0-1l0 9.5l0-2l0.5 1l0-7.5l0 9l0 0l0 1.5l0.5-15.5l0 14l0-4.5l0 1.5l0 1.5l0-1.5l0.5-1l0-6l0 4l0 1.5l0-2.5l0.5-1.5l0 5l0 0l0-5l0-1.5l0 6l0.5 0l0 2l0 4.5l0-6.5l0-2.5l0.5 3.5l0 5.5l0-7.5l0 0l0 2.5l0 0l0.5-8.5l0 7.5l0-5l0 4.5l0-2.5l0.5-5.5l0 13l0-4l0-6.5l0 6.5l0-0.5l0.5 3l0-1l0-2.5l0 7l0-9.5l0.5-1.5l0-1.5l0 5l0 9.5l0-12.5l0 4l0.5-7.5l0 5.5l0 12.5l0-8l0 4.5l0.5-2.5l0-3.5l0 5.5l0-9.5l0 1.5l0.5 6.5l0 3.5l0-9.5l0-0.5l0 4.5l0-3.5l0.5 1.5l0-7.5l0 2l0 2l0 2.5l0.5-6.5l0 1.5l0 2.5l0-0.5l0-5.5l0 13l0.5-4.5l0 4l0 3.5l0 0.5l0-2.5l0.5-4l0 2.5l0-2l0-3.5l0 6.5l0-1l0.5-11l0 17l0-14l0 7.5l0-9.5l0.5 0.5l0 9.5l0 1l0 1.5l0-6l0 5l0.5-10l0-0.5l0 10l0-1l0-8l0.5 7l0 1.5l0-3.5l0-1.5l0-9l0 5.5l0.5 3l0 3.5l0-6.5l0-1.5l0 7.5l0.5-8l0 8.5l0 1.5l0-4.5l0-0.5l0-2.5l0.5 2.5l0 4.5l0-8l0 2l0-5l0.5 8.5l0 2l0-10.5l0 5l0 3.5l0.5-5.5l0 7.5l0-3.5l0 2l0-5.5l0 10l0.5-15.5l0 12.5l0 0.5l0-5.5l0-4l0.5-1l0-2.5l0 12l0 0.5l0-4.5l0 4.5l0.5-6l0 9l0-9l0 2.5l0 2l0.5-7.5l0 14.5l0-11l0 0l0-4l0 13l0.5-3l0-0.5l0-1l0-0.5l0-5.5l0.5 0l0 1.5l0 3l0 3l0-7.5l0 5.5l0.5-3.5l0-2l0 0l0 5.5l0-2.5l0.5 8l0-5l0-3.5l0-3.5l0-2l0 2l0.5 5.5l0-3.5l0 5.5l0-9l0 9.5l0.5-6.5l0-4l0 13l0-11.5l0 12.5l0.5-8.5l0-4l0 6.5l0-4l0-1.5l0-2.5l0.5 2l0 6.5l0 5l0-10.5l0 5.5l0.5 1l0-5l0-2.5l0 4l0-2l0-1.5l0.5 6.5l0-8.5l0 7.5l0 1.5l0 0.5l0.5-3l0-0.5l0-3.5l0 1.5l0 7.5l0-9l0.5-4.5l0 10.5l0 4l0-6.5l0-0.5l0.5-5l0 9.5l0-9.5l0 1l0 0l0 3.5l0.5 2l0 0.5l0-4.5l0 2l0 2l0.5-5l0 8.5l0-8.5l0 3l0 1.5l0 1l0.5-2.5l0 1.5l0 4l0-4l0 5l0.5 6l0-4.5l0-8.5l0 3l0-0.5l0-4l0.5 8l0 0.5l0-1.5l0-5l0 5.5l0.5-7.5l0 8l0-0.5l0 1l0-13l0.5 2.5l0 2l0 2.5l0 5l0-3l0-3l0.5 6.5l0-5l0 8.5l0-15l0 2.5l0.5 5.5l0 10l0-16l0 0.5l0-2l0 7l0.5 3.5l0-4.5l0-8l0 4l0 9l0.5-4.5l0 4l0-9.5l0 0l0 0.5l0 7l0.5-8.5l0 4.5l0-4l0 11.5l0-6l0.5 3.5l0-2l0-1l0 3.5l0-4l0 7.5l0.5-15l0 2.5l0 4l0-0.5l0 10l0.5-6.5l0 0.5l0 6l0-4.5l0-4l0 0l0.5 6l0-3l0 2.5l0 0l0-3.5l0.5 0.5l0 0.5l0-4l0 2l0 2l0 5.5l0.5-14.5l0 8l0 2.5l0-4.5l0-8.5l0.5 8l0 6l0-12l-346 30.5l21.5-13l68 80.5l-141.5-163l12.5 15.5l-99 118l7.5 3l13.5-4.5l-59.5 0l98-9.5"/>
<text x="120" y="775.3" font-size="23.5" text-anchor="end" textLength="44" lengthAdjust="spacingAndGlyphs">0.05</text><text x="121.5" y="710.3" font-size="23.5" text-anchor="end" textLength="31" lengthAdjust="spacingAndGlyphs">0.1</text><text x="120" y="646.3" font-size="23.5" text-anchor="end" textLength="44" lengthAdjust="spacingAndGlyphs">0.15</text><text x="121.5" y="581.3" font-size="23.5" text-anchor="end" textLength="31" lengthAdjust="spacingAndGlyphs">0.2</text><text x="120" y="517.3" font-size="23.5" text-anchor="end" textLength="44" lengthAdjust="spacingAndGlyphs">0.25</text><text x="121.5" y="452.3" font-size="23.5" text-anchor="end" textLength="31" lengthAdjust="spacingAndGlyphs">0.3</text><text x="120" y="387.3" font-size="23.5" text-anchor="end" textLength="44" lengthAdjust="spacingAndGlyphs">0.35</text><text x="121.5" y="323.3" font-size="23.5" text-anchor="end" textLength="31" lengthAdjust="spacingAndGlyphs">0.4</text><text x="120" y="258.3" font-size="23.5" text-anchor="end" textLength="44" lengthAdjust="spacingAndGlyphs">0.45</text><text x="121.5" y="194.3" font-size="23.5" text-anchor="end" textLength="31" lengthAdjust="spacingAndGlyphs">0.5</text><text x="120" y="129.3" font-size="23.5" text-anchor="end" textLength="44" lengthAdjust="spacingAndGlyphs">0.55</text><text x="140.5" y="809.2" font-size="23.5" text-anchor="middle" textLength="51.5" lengthAdjust="spacingAndGlyphs">2003</text><text x="207.5" y="809.2" font-size="23.5" text-anchor="middle" textLength="51.5" lengthAdjust="spacingAndGlyphs">2005</text><text x="274.5" y="809.2" font-size="23.5" text-anchor="middle" textLength="51.5" lengthAdjust="spacingAndGlyphs">2007</text><text x="341.5" y="809.2" font-size="23.5" text-anchor="middle" textLength="51.5" lengthAdjust="spacingAndGlyphs">2009</text><text x="408.5" y="809.2" font-size="23.5" text-anchor="middle" textLength="51.5" lengthAdjust="spacingAndGlyphs">2011</text><text x="475.5" y="809.2" font-size="23.5" text-anchor="middle" textLength="51.5" lengthAdjust="spacingAndGlyphs">2013</text><text x="541.5" y="809.2" font-size="23.5" text-anchor="middle" textLength="51.5" lengthAdjust="spacingAndGlyphs">2015</text><text x="608.5" y="809.2" font-size="23.5" text-anchor="middle" textLength="51.5" lengthAdjust="spacingAndGlyphs">2017</text><text x="675.5" y="809.2" font-size="23.5" text-anchor="middle" textLength="51.5" lengthAdjust="spacingAndGlyphs">2019</text><text x="742.5" y="809.2" font-size="23.5" text-anchor="middle" textLength="51.5" lengthAdjust="spacingAndGlyphs">2021</text><text x="809.5" y="809.2" font-size="23.5" text-anchor="middle" textLength="51.5" lengthAdjust="spacingAndGlyphs">2023</text><text x="876.5" y="809.2" font-size="23.5" text-anchor="middle" textLength="51.5" lengthAdjust="spacingAndGlyphs">2025</text>
<text transform="translate(62,422.5) rotate(-90)" font-size="22.5" text-anchor="middle" textLength="436" lengthAdjust="spacingAndGlyphs">Noise Equivalent Delta Temperature (K)</text>
<text x="525" y="23" font-size="23.5" font-weight="bold" text-anchor="middle" style="fill:#000" textLength="402" lengthAdjust="spacingAndGlyphs">AIRS Channel 1140 NEdT (@250K)</text>
<text x="525" y="52.2" font-size="23.5" font-weight="bold" text-anchor="middle" style="fill:#000" textLength="277" lengthAdjust="spacingAndGlyphs">[M-05, 1073.466 cm-1]</text>
<rect x="935.5" y="64.5" width="136" height="79" fill="#fff" stroke="#262626" stroke-width="1"/>
<path d="M970.8 75.8l9 9M979.8 75.8l-9 9" stroke="#00ff00" stroke-width="1.2"/><path d="M969 104h13M975.5 97.5v13" stroke="#ff0000" stroke-width="1.2"/><circle cx="975.3" cy="127.9" r="6" fill="none" stroke="#0000ff" stroke-width="1.2"/>
<text x="1014" y="87.6" font-size="18" style="fill:#000" textLength="47" lengthAdjust="spacingAndGlyphs">Mean</text><text x="1014" y="110.5" font-size="18" style="fill:#000" textLength="36.5" lengthAdjust="spacingAndGlyphs">Max</text><text x="1014" y="134.5" font-size="18" style="fill:#000" textLength="31" lengthAdjust="spacingAndGlyphs">Min</text>
<g>
<circle cx="936" cy="25.9" r="20.7" fill="#1d3f9e"/>
<ellipse cx="933" cy="24" rx="13" ry="5.5" transform="rotate(55 933 24)" fill="none" stroke="#dfe6ff" stroke-width="0.7" opacity="0.6"/>
<circle cx="926" cy="13" r="0.7" fill="#fff"/><circle cx="941" cy="9" r="0.6" fill="#fff"/><circle cx="922" cy="36" r="0.6" fill="#fff"/><circle cx="948" cy="36" r="0.6" fill="#fff"/><circle cx="929" cy="41" r="0.6" fill="#fff"/><circle cx="945" cy="33" r="0.5" fill="#fff"/>
<path d="M913.5 31.5 Q932 25 944 20.5 Q955 16 964 8 Q959 19.5 950 24.5 Q938 28.5 913.5 31.5Z" fill="#e53a2e"/>
<text x="936.3" y="29.6" font-size="10" font-weight="bold" text-anchor="middle" style="fill:#fff" textLength="35" lengthAdjust="spacingAndGlyphs">NASA</text>
</g>
<text x="966" y="24.6" font-size="13" font-weight="bold" style="fill:#000" textLength="175" lengthAdjust="spacingAndGlyphs">Jet Propulsion Laboratory</text><text x="966" y="38.1" font-size="10" style="fill:#000" textLength="174" lengthAdjust="spacingAndGlyphs">California Institute of Technology</text>
</svg></body></html>
